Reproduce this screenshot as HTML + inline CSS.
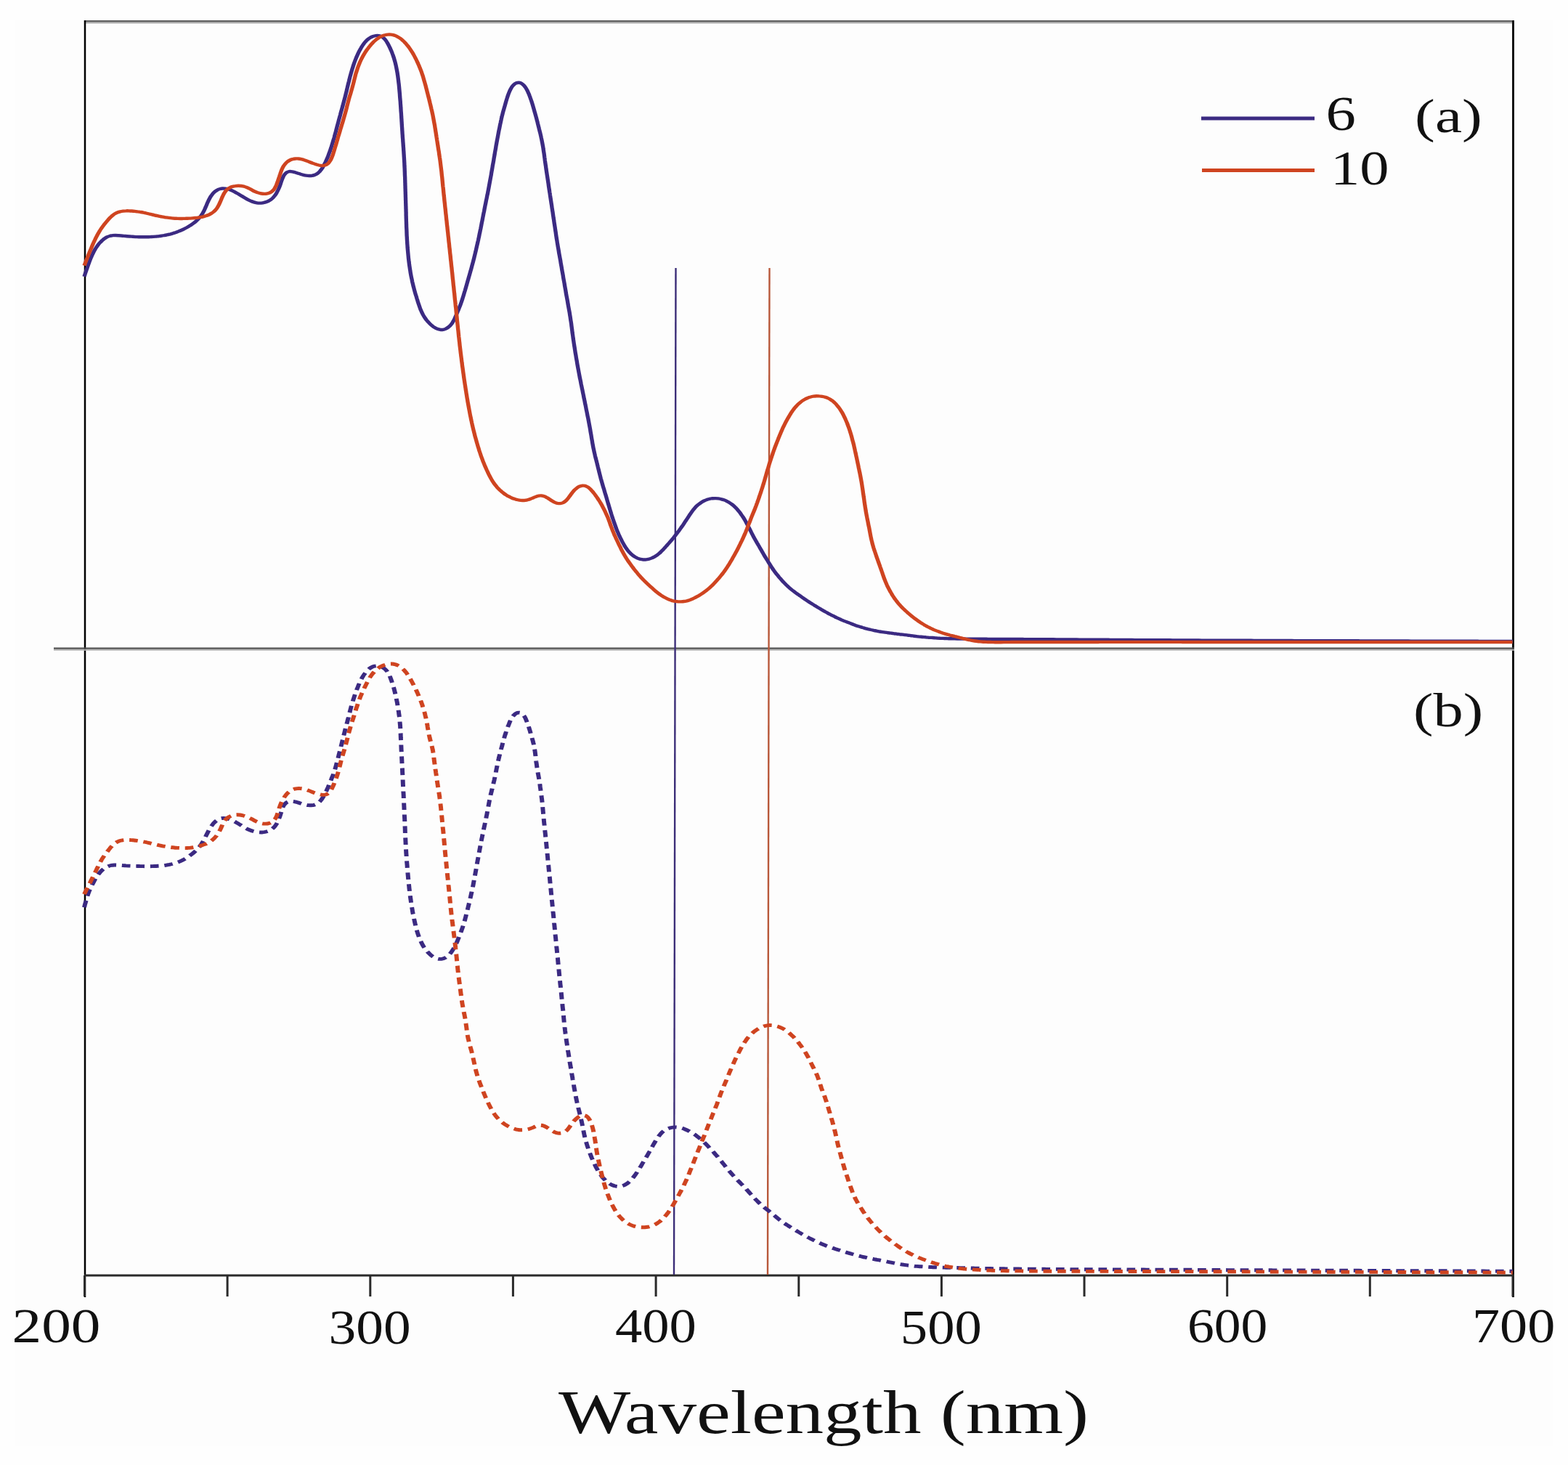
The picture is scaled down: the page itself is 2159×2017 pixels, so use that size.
<!DOCTYPE html>
<html><head><meta charset="utf-8"><title>UV-Vis spectra</title>
<style>
html,body{margin:0;padding:0;background:#fff;}
body{width:2159px;height:2017px;overflow:hidden;}
svg{display:block;}
text{font-family:"Liberation Serif","Times New Roman",serif;fill:#111;}
.tk{font-size:69px;}
.lg{font-size:67px;}
.pl{font-size:67px;}
.ax{font-size:85px;}
</style></head><body>
<svg width="2159" height="2017" viewBox="0 0 2159 2017">
<rect x="0" y="0" width="2159" height="2017" fill="#fefefe"/>
<rect x="20" y="28" width="2119" height="1963" fill="#fdfdfd"/>
<!-- frame -->
<line x1="116" y1="29.1" x2="2085" y2="29.1" stroke="#5c5c5c" stroke-width="2.2"/>
<line x1="116" y1="31.2" x2="2085" y2="31.2" stroke="#a2a2a2" stroke-width="2"/>
<line x1="117" y1="28" x2="117" y2="1786" stroke="#000" stroke-width="2.5"/>
<line x1="2083.5" y1="28" x2="2083.5" y2="1786" stroke="#111" stroke-width="3"/>
<line x1="74" y1="892.6" x2="2085" y2="892.6" stroke="#4f4f4f" stroke-width="2.4"/>
<line x1="74" y1="894.8" x2="2085" y2="894.8" stroke="#b4b4b4" stroke-width="1.8"/>
<line x1="116" y1="1756" x2="2085" y2="1756" stroke="#2a2a2a" stroke-width="3"/>
<line x1="116.5" y1="1756" x2="116.5" y2="1785" stroke="#2a2a2a" stroke-width="3"/>
<line x1="313.1" y1="1756" x2="313.1" y2="1785" stroke="#2a2a2a" stroke-width="3"/>
<line x1="509.8" y1="1756" x2="509.8" y2="1785" stroke="#2a2a2a" stroke-width="3"/>
<line x1="706.4" y1="1756" x2="706.4" y2="1785" stroke="#2a2a2a" stroke-width="3"/>
<line x1="903.1" y1="1756" x2="903.1" y2="1785" stroke="#2a2a2a" stroke-width="3"/>
<line x1="1099.8" y1="1756" x2="1099.8" y2="1785" stroke="#2a2a2a" stroke-width="3"/>
<line x1="1296.4" y1="1756" x2="1296.4" y2="1785" stroke="#2a2a2a" stroke-width="3"/>
<line x1="1493.0" y1="1756" x2="1493.0" y2="1785" stroke="#2a2a2a" stroke-width="3"/>
<line x1="1689.7" y1="1756" x2="1689.7" y2="1785" stroke="#2a2a2a" stroke-width="3"/>
<line x1="1886.3" y1="1756" x2="1886.3" y2="1785" stroke="#2a2a2a" stroke-width="3"/>
<line x1="2083.0" y1="1756" x2="2083.0" y2="1785" stroke="#2a2a2a" stroke-width="3"/>

<!-- vertical markers -->
<line x1="930.5" y1="369" x2="928" y2="1755" stroke="#3c2e78" stroke-width="2.4"/>
<line x1="1059.5" y1="369" x2="1057" y2="1755" stroke="#b8583a" stroke-width="2.4"/>
<!-- curves -->
<g fill="none" stroke-linejoin="round" stroke-linecap="butt" transform="scale(1.22,1)">
<path d="M95.1,380.7 C95.4,379.4 95.8,378.2 96.1,376.9 C96.5,375.6 96.8,374.4 97.2,373.1 C97.6,371.9 97.9,370.6 98.3,369.3 C98.6,368.1 99.0,366.8 99.3,365.6 C99.7,364.3 100.1,363.0 100.5,361.8 C100.8,360.5 101.2,359.3 101.6,358.1 C102.0,356.8 102.4,355.6 102.9,354.3 C103.3,353.1 103.7,351.9 104.2,350.7 C104.7,349.5 105.1,348.3 105.6,347.1 C106.1,345.9 106.6,344.7 107.2,343.6 C107.7,342.4 108.3,341.3 108.9,340.2 C109.5,339.1 110.2,338.0 110.8,336.9 C111.5,335.9 112.2,334.8 113.0,333.9 C113.7,332.9 114.5,331.9 115.3,331.1 C116.1,330.2 116.9,329.3 117.8,328.5 C118.7,327.8 119.7,327.0 120.6,326.4 C121.6,325.8 122.6,325.3 123.7,325.0 C124.7,324.6 125.8,324.3 126.9,324.2 C128.0,324.0 129.1,324.0 130.2,324.0 C131.3,324.0 132.4,324.1 133.4,324.2 C134.5,324.3 135.6,324.4 136.7,324.5 C137.8,324.6 138.9,324.8 140.0,324.9 C141.1,325.0 142.2,325.1 143.3,325.2 C144.3,325.3 145.4,325.4 146.5,325.5 C147.6,325.6 148.7,325.7 149.8,325.8 C150.9,325.9 152.0,326.0 153.1,326.1 C154.2,326.1 155.3,326.2 156.4,326.2 C157.4,326.3 158.5,326.3 159.6,326.3 C160.7,326.3 161.8,326.3 162.9,326.3 C164.0,326.3 165.1,326.3 166.2,326.3 C167.3,326.2 168.4,326.2 169.5,326.1 C170.6,326.0 171.7,326.0 172.8,325.9 C173.8,325.8 174.9,325.7 176.0,325.6 C177.1,325.5 178.2,325.3 179.3,325.2 C180.4,325.0 181.5,324.9 182.5,324.7 C183.6,324.5 184.7,324.3 185.8,324.0 C186.9,323.8 187.9,323.5 189.0,323.2 C190.1,323.0 191.1,322.6 192.2,322.3 C193.2,322.0 194.3,321.6 195.3,321.2 C196.4,320.8 197.4,320.4 198.5,320.0 C199.5,319.5 200.5,319.1 201.5,318.6 C202.6,318.1 203.6,317.6 204.6,317.0 C205.6,316.5 206.6,315.9 207.5,315.3 C208.5,314.7 209.5,314.1 210.4,313.5 C211.4,312.8 212.4,312.2 213.3,311.5 C214.2,310.8 215.2,310.1 216.1,309.3 C217.0,308.6 217.9,307.8 218.7,307.0 C219.6,306.2 220.5,305.4 221.3,304.5 C222.1,303.6 222.9,302.7 223.6,301.7 C224.4,300.8 225.1,299.8 225.8,298.7 C226.5,297.7 227.1,296.6 227.7,295.5 C228.3,294.4 228.9,293.2 229.4,292.1 C230.0,290.9 230.4,289.7 230.9,288.5 C231.4,287.3 231.8,286.0 232.2,284.8 C232.7,283.6 233.1,282.4 233.5,281.1 C233.9,279.9 234.4,278.7 234.8,277.5 C235.3,276.2 235.7,275.0 236.3,273.9 C236.8,272.7 237.3,271.5 237.9,270.4 C238.5,269.3 239.1,268.2 239.8,267.2 C240.5,266.2 241.3,265.2 242.1,264.3 C242.9,263.4 243.8,262.6 244.8,262.0 C245.7,261.3 246.7,260.7 247.8,260.3 C248.8,259.9 249.9,259.7 251.0,259.5 C252.0,259.4 253.2,259.5 254.2,259.6 C255.3,259.8 256.4,260.1 257.5,260.4 C258.5,260.8 259.5,261.3 260.6,261.8 C261.6,262.3 262.6,262.8 263.5,263.4 C264.5,264.0 265.5,264.7 266.4,265.3 C267.4,266.0 268.3,266.6 269.3,267.3 C270.2,268.0 271.1,268.7 272.1,269.4 C273.0,270.0 274.0,270.7 274.9,271.4 C275.9,272.1 276.8,272.8 277.8,273.4 C278.7,274.1 279.7,274.7 280.6,275.3 C281.6,275.9 282.6,276.5 283.6,277.0 C284.6,277.6 285.6,278.0 286.7,278.4 C287.7,278.8 288.8,279.1 289.9,279.3 C290.9,279.5 292.0,279.6 293.1,279.6 C294.2,279.6 295.3,279.5 296.4,279.3 C297.5,279.1 298.6,278.8 299.6,278.4 C300.6,278.0 301.7,277.5 302.6,277.0 C303.6,276.4 304.6,275.7 305.5,274.9 C306.4,274.2 307.2,273.3 308.0,272.4 C308.8,271.4 309.5,270.4 310.1,269.4 C310.8,268.3 311.4,267.2 312.0,266.0 C312.5,264.9 313.0,263.7 313.5,262.5 C314.0,261.3 314.5,260.1 314.9,258.9 C315.3,257.6 315.7,256.4 316.1,255.1 C316.5,253.9 316.8,252.6 317.1,251.4 C317.5,250.1 317.8,248.8 318.2,247.6 C318.6,246.3 319.0,245.1 319.5,243.9 C319.9,242.7 320.4,241.5 321.1,240.4 C321.8,239.4 322.5,238.3 323.4,237.6 C324.3,236.9 325.4,236.3 326.4,236.1 C327.5,235.9 328.6,236.1 329.7,236.3 C330.8,236.5 331.8,236.9 332.9,237.3 C333.9,237.7 334.9,238.1 336.0,238.5 C337.0,238.9 338.1,239.4 339.1,239.7 C340.2,240.1 341.2,240.5 342.3,240.8 C343.3,241.1 344.4,241.4 345.5,241.6 C346.6,241.8 347.7,242.0 348.8,242.0 C349.8,242.1 351.0,242.1 352.0,241.9 C353.1,241.7 354.2,241.3 355.2,240.9 C356.2,240.4 357.2,239.7 358.1,239.0 C359.0,238.2 359.8,237.3 360.6,236.4 C361.3,235.4 362.0,234.4 362.7,233.3 C363.3,232.2 363.9,231.1 364.5,229.9 C365.0,228.8 365.5,227.6 366.0,226.4 C366.5,225.2 367.0,224.0 367.5,222.8 C367.9,221.6 368.4,220.4 368.8,219.2 C369.3,218.0 369.7,216.7 370.1,215.5 C370.5,214.2 370.9,213.0 371.2,211.7 C371.6,210.5 372.0,209.2 372.4,208.0 C372.7,206.7 373.1,205.5 373.4,204.2 C373.8,202.9 374.1,201.7 374.4,200.4 C374.8,199.1 375.1,197.8 375.4,196.6 C375.7,195.3 376.0,194.0 376.3,192.7 C376.7,191.4 377.0,190.2 377.3,188.9 C377.5,187.6 377.8,186.3 378.1,185.0 C378.4,183.7 378.7,182.4 379.0,181.2 C379.3,179.9 379.5,178.6 379.8,177.3 C380.1,176.0 380.4,174.7 380.6,173.4 C380.9,172.1 381.2,170.8 381.5,169.5 C381.8,168.3 382.1,167.0 382.3,165.7 C382.6,164.4 382.9,163.1 383.2,161.8 C383.5,160.5 383.8,159.2 384.1,157.9 C384.3,156.7 384.6,155.4 384.9,154.1 C385.2,152.8 385.5,151.5 385.8,150.2 C386.1,148.9 386.4,147.6 386.7,146.4 C386.9,145.1 387.2,143.8 387.5,142.5 C387.8,141.2 388.1,139.9 388.4,138.6 C388.6,137.3 388.9,136.0 389.2,134.8 C389.5,133.5 389.7,132.2 390.0,130.9 C390.3,129.6 390.5,128.3 390.8,127.0 C391.1,125.7 391.3,124.4 391.6,123.1 C391.8,121.8 392.1,120.5 392.3,119.2 C392.6,117.9 392.8,116.6 393.1,115.3 C393.3,114.0 393.6,112.7 393.9,111.4 C394.1,110.1 394.4,108.8 394.7,107.5 C394.9,106.2 395.2,105.0 395.5,103.7 C395.8,102.4 396.1,101.1 396.4,99.8 C396.7,98.5 397.0,97.3 397.3,96.0 C397.6,94.7 397.9,93.4 398.3,92.2 C398.6,90.9 399.0,89.6 399.3,88.4 C399.7,87.1 400.0,85.8 400.4,84.6 C400.8,83.3 401.2,82.1 401.6,80.8 C402.0,79.6 402.4,78.4 402.9,77.2 C403.3,75.9 403.8,74.7 404.2,73.5 C404.7,72.3 405.2,71.1 405.7,69.9 C406.2,68.8 406.7,67.6 407.3,66.4 C407.8,65.3 408.4,64.1 409.0,63.0 C409.6,61.9 410.2,60.8 410.9,59.7 C411.5,58.7 412.2,57.6 413.0,56.7 C413.7,55.7 414.5,54.8 415.4,54.0 C416.2,53.1 417.1,52.4 418.1,51.7 C419.0,51.1 420.0,50.5 421.1,50.0 C422.1,49.6 423.2,49.3 424.3,49.1 C425.3,49.0 426.5,49.0 427.5,49.2 C428.6,49.4 429.7,49.8 430.6,50.4 C431.6,51.0 432.5,51.8 433.3,52.7 C434.1,53.6 434.8,54.7 435.5,55.7 C436.1,56.8 436.7,57.9 437.2,59.1 C437.8,60.2 438.3,61.4 438.8,62.6 C439.3,63.8 439.8,65.0 440.2,66.2 C440.7,67.4 441.1,68.6 441.6,69.9 C442.0,71.1 442.4,72.3 442.8,73.6 C443.2,74.8 443.5,76.1 443.9,77.4 C444.2,78.6 444.6,79.9 444.9,81.2 C445.2,82.4 445.5,83.7 445.8,85.0 C446.1,86.3 446.3,87.6 446.6,88.9 C446.8,90.2 447.1,91.5 447.3,92.8 C447.5,94.1 447.7,95.4 447.9,96.7 C448.1,98.1 448.3,99.4 448.5,100.7 C448.6,102.0 448.8,103.3 449.0,104.6 C449.1,106.0 449.3,107.3 449.4,108.6 C449.5,109.9 449.7,111.3 449.8,112.6 C449.9,113.9 450.1,115.2 450.2,116.6 C450.3,117.9 450.4,119.2 450.5,120.5 C450.6,121.9 450.7,123.2 450.8,124.5 C450.9,125.9 451.0,127.2 451.1,128.5 C451.2,129.9 451.3,131.2 451.3,132.5 C451.4,133.8 451.5,135.2 451.6,136.5 C451.7,137.8 451.8,139.2 451.9,140.5 C451.9,141.8 452.0,143.2 452.1,144.5 C452.2,145.8 452.3,147.1 452.3,148.5 C452.4,149.8 452.5,151.1 452.5,152.5 C452.6,153.8 452.7,155.1 452.8,156.5 C452.8,157.8 452.9,159.1 453.0,160.5 C453.0,161.8 453.1,163.1 453.2,164.5 C453.2,165.8 453.3,167.1 453.4,168.5 C453.4,169.8 453.5,171.1 453.6,172.5 C453.6,173.8 453.7,175.1 453.8,176.4 C453.9,177.8 453.9,179.1 454.0,180.4 C454.1,181.8 454.1,183.1 454.2,184.4 C454.3,185.8 454.4,187.1 454.4,188.4 C454.5,189.8 454.6,191.1 454.7,192.4 C454.7,193.8 454.8,195.1 454.9,196.4 C455.0,197.7 455.1,199.1 455.1,200.4 C455.2,201.7 455.3,203.1 455.4,204.4 C455.4,205.7 455.5,207.1 455.6,208.4 C455.7,209.7 455.7,211.1 455.8,212.4 C455.9,213.7 455.9,215.1 456.0,216.4 C456.1,217.7 456.1,219.0 456.2,220.4 C456.3,221.7 456.3,223.0 456.4,224.4 C456.4,225.7 456.5,227.0 456.5,228.4 C456.6,229.7 456.6,231.0 456.7,232.4 C456.7,233.7 456.8,235.0 456.8,236.4 C456.9,237.7 456.9,239.0 456.9,240.4 C457.0,241.7 457.0,243.0 457.1,244.4 C457.1,245.7 457.1,247.0 457.2,248.4 C457.2,249.7 457.2,251.0 457.3,252.4 C457.3,253.7 457.3,255.0 457.4,256.4 C457.4,257.7 457.4,259.0 457.5,260.4 C457.5,261.7 457.5,263.1 457.6,264.4 C457.6,265.7 457.6,267.1 457.7,268.4 C457.7,269.7 457.7,271.1 457.8,272.4 C457.8,273.7 457.8,275.1 457.9,276.4 C457.9,277.7 457.9,279.1 458.0,280.4 C458.0,281.7 458.0,283.1 458.1,284.4 C458.1,285.7 458.1,287.1 458.2,288.4 C458.2,289.7 458.2,291.1 458.3,292.4 C458.3,293.7 458.3,295.1 458.3,296.4 C458.4,297.7 458.4,299.1 458.4,300.4 C458.5,301.7 458.5,303.1 458.5,304.4 C458.6,305.7 458.6,307.1 458.6,308.4 C458.7,309.7 458.7,311.1 458.7,312.4 C458.8,313.7 458.8,315.1 458.9,316.4 C458.9,317.7 459.0,319.1 459.0,320.4 C459.0,321.7 459.1,323.1 459.1,324.4 C459.2,325.7 459.3,327.1 459.3,328.4 C459.4,329.7 459.4,331.1 459.5,332.4 C459.6,333.7 459.6,335.1 459.7,336.4 C459.8,337.7 459.9,339.1 459.9,340.4 C460.0,341.7 460.1,343.0 460.2,344.4 C460.3,345.7 460.4,347.0 460.5,348.4 C460.6,349.7 460.7,351.0 460.8,352.3 C460.9,353.7 461.0,355.0 461.1,356.3 C461.3,357.7 461.4,359.0 461.5,360.3 C461.7,361.6 461.8,363.0 461.9,364.3 C462.1,365.6 462.2,366.9 462.4,368.2 C462.5,369.6 462.7,370.9 462.9,372.2 C463.1,373.5 463.2,374.8 463.4,376.1 C463.6,377.5 463.8,378.8 464.0,380.1 C464.2,381.4 464.4,382.7 464.7,384.0 C464.9,385.3 465.1,386.6 465.3,387.9 C465.6,389.2 465.8,390.5 466.1,391.8 C466.3,393.1 466.6,394.4 466.9,395.7 C467.2,397.0 467.4,398.3 467.7,399.6 C468.0,400.9 468.3,402.1 468.6,403.4 C468.9,404.7 469.2,406.0 469.6,407.3 C469.9,408.5 470.2,409.8 470.5,411.1 C470.9,412.4 471.2,413.6 471.5,414.9 C471.8,416.2 472.2,417.5 472.5,418.7 C472.9,420.0 473.2,421.3 473.6,422.5 C473.9,423.8 474.3,425.0 474.7,426.3 C475.1,427.5 475.6,428.7 476.0,429.9 C476.5,431.1 477.0,432.3 477.5,433.5 C478.0,434.7 478.6,435.8 479.2,436.9 C479.8,438.0 480.4,439.1 481.1,440.2 C481.8,441.2 482.5,442.2 483.2,443.2 C484.0,444.2 484.7,445.2 485.5,446.1 C486.3,447.0 487.1,447.9 488.0,448.7 C488.8,449.5 489.7,450.3 490.7,451.0 C491.6,451.7 492.6,452.4 493.6,452.8 C494.6,453.3 495.7,453.7 496.8,453.8 C497.8,454.0 499.0,454.0 500.0,453.8 C501.1,453.6 502.2,453.1 503.2,452.6 C504.2,452.0 505.1,451.3 506.0,450.5 C506.8,449.7 507.6,448.8 508.4,447.8 C509.1,446.8 509.8,445.8 510.4,444.7 C511.0,443.6 511.6,442.4 512.1,441.2 C512.6,440.1 513.1,438.8 513.5,437.6 C514.0,436.4 514.4,435.2 514.8,434.0 C515.3,432.7 515.7,431.5 516.1,430.3 C516.5,429.0 516.9,427.8 517.4,426.6 C517.8,425.3 518.2,424.1 518.6,422.9 C519.0,421.6 519.4,420.4 519.8,419.1 C520.2,417.9 520.5,416.6 520.9,415.4 C521.2,414.1 521.6,412.8 521.9,411.6 C522.2,410.3 522.6,409.0 522.9,407.7 C523.2,406.5 523.5,405.2 523.8,403.9 C524.1,402.6 524.4,401.3 524.8,400.1 C525.1,398.8 525.4,397.5 525.7,396.2 C526.0,394.9 526.3,393.7 526.6,392.4 C526.9,391.1 527.2,389.8 527.5,388.5 C527.8,387.2 528.1,386.0 528.4,384.7 C528.7,383.4 529.0,382.1 529.3,380.8 C529.6,379.5 529.9,378.3 530.2,377.0 C530.5,375.7 530.8,374.4 531.1,373.1 C531.4,371.8 531.7,370.6 532.0,369.3 C532.3,368.0 532.5,366.7 532.8,365.4 C533.1,364.1 533.4,362.8 533.7,361.5 C534.0,360.3 534.2,359.0 534.5,357.7 C534.8,356.4 535.1,355.1 535.3,353.8 C535.6,352.5 535.8,351.2 536.1,349.9 C536.4,348.6 536.6,347.3 536.9,346.0 C537.1,344.7 537.4,343.4 537.6,342.1 C537.9,340.8 538.1,339.5 538.3,338.2 C538.6,336.9 538.8,335.6 539.1,334.3 C539.3,333.0 539.5,331.7 539.8,330.4 C540.0,329.1 540.2,327.8 540.5,326.5 C540.7,325.2 540.9,323.9 541.1,322.6 C541.4,321.3 541.6,320.0 541.8,318.6 C542.0,317.3 542.2,316.0 542.5,314.7 C542.7,313.4 542.9,312.1 543.1,310.8 C543.3,309.5 543.5,308.2 543.7,306.9 C543.9,305.6 544.2,304.3 544.4,302.9 C544.6,301.6 544.8,300.3 545.0,299.0 C545.2,297.7 545.4,296.4 545.6,295.1 C545.8,293.8 546.0,292.5 546.3,291.2 C546.5,289.8 546.7,288.5 546.9,287.2 C547.1,285.9 547.3,284.6 547.5,283.3 C547.8,282.0 548.0,280.7 548.2,279.4 C548.4,278.1 548.6,276.8 548.8,275.5 C549.1,274.2 549.3,272.8 549.5,271.5 C549.7,270.2 549.9,268.9 550.2,267.6 C550.4,266.3 550.6,265.0 550.8,263.7 C551.0,262.4 551.2,261.1 551.4,259.8 C551.6,258.4 551.8,257.1 552.0,255.8 C552.2,254.5 552.4,253.2 552.6,251.9 C552.8,250.6 553.0,249.3 553.2,247.9 C553.4,246.6 553.6,245.3 553.8,244.0 C554.0,242.7 554.2,241.4 554.4,240.1 C554.5,238.7 554.7,237.4 554.9,236.1 C555.1,234.8 555.3,233.5 555.5,232.2 C555.7,230.9 555.9,229.5 556.0,228.2 C556.2,226.9 556.4,225.6 556.6,224.3 C556.8,223.0 557.0,221.7 557.2,220.3 C557.3,219.0 557.5,217.7 557.7,216.4 C557.9,215.1 558.1,213.8 558.3,212.4 C558.4,211.1 558.6,209.8 558.8,208.5 C559.0,207.2 559.2,205.9 559.4,204.6 C559.6,203.2 559.7,201.9 559.9,200.6 C560.1,199.3 560.3,198.0 560.5,196.7 C560.7,195.4 560.9,194.0 561.1,192.7 C561.3,191.4 561.5,190.1 561.7,188.8 C561.9,187.5 562.1,186.2 562.3,184.9 C562.5,183.6 562.7,182.2 562.9,180.9 C563.1,179.6 563.3,178.3 563.6,177.0 C563.8,175.7 564.0,174.4 564.2,173.1 C564.4,171.8 564.6,170.5 564.9,169.2 C565.1,167.9 565.3,166.5 565.6,165.2 C565.8,163.9 566.0,162.6 566.3,161.3 C566.5,160.0 566.8,158.8 567.1,157.5 C567.3,156.2 567.6,154.9 567.9,153.6 C568.2,152.3 568.5,151.0 568.8,149.7 C569.1,148.4 569.4,147.2 569.7,145.9 C570.0,144.6 570.3,143.3 570.6,142.0 C570.9,140.7 571.2,139.5 571.5,138.2 C571.8,136.9 572.1,135.6 572.5,134.4 C572.8,133.1 573.2,131.8 573.5,130.6 C573.9,129.3 574.3,128.1 574.7,126.8 C575.1,125.6 575.6,124.4 576.1,123.2 C576.6,122.0 577.1,120.8 577.7,119.7 C578.3,118.7 579.0,117.6 579.8,116.7 C580.6,115.8 581.5,114.9 582.5,114.4 C583.5,114.0 584.7,113.7 585.7,113.8 C586.8,113.9 587.9,114.4 588.8,115.1 C589.8,115.7 590.6,116.7 591.3,117.6 C592.1,118.6 592.7,119.7 593.3,120.8 C593.9,121.9 594.4,123.1 594.9,124.2 C595.4,125.4 595.9,126.6 596.3,127.9 C596.8,129.1 597.2,130.3 597.6,131.6 C598.0,132.8 598.4,134.1 598.7,135.3 C599.1,136.6 599.4,137.9 599.8,139.1 C600.1,140.4 600.4,141.7 600.8,142.9 C601.1,144.2 601.4,145.5 601.7,146.8 C602.0,148.0 602.3,149.3 602.6,150.6 C602.9,151.9 603.2,153.2 603.5,154.5 C603.8,155.7 604.1,157.0 604.4,158.3 C604.7,159.6 605.0,160.9 605.3,162.2 C605.6,163.5 605.8,164.8 606.1,166.1 C606.4,167.3 606.7,168.6 606.9,169.9 C607.2,171.2 607.5,172.5 607.7,173.8 C608.0,175.1 608.3,176.4 608.5,177.7 C608.8,179.0 609.1,180.3 609.3,181.6 C609.6,182.9 609.9,184.2 610.1,185.5 C610.4,186.8 610.6,188.1 610.8,189.4 C611.1,190.7 611.3,192.0 611.5,193.3 C611.7,194.6 611.9,195.9 612.1,197.2 C612.3,198.5 612.5,199.8 612.7,201.2 C612.9,202.5 613.1,203.8 613.2,205.1 C613.4,206.4 613.5,207.7 613.7,209.1 C613.9,210.4 614.0,211.7 614.2,213.0 C614.3,214.4 614.5,215.7 614.6,217.0 C614.8,218.3 614.9,219.6 615.0,221.0 C615.2,222.3 615.3,223.6 615.5,224.9 C615.6,226.3 615.8,227.6 616.0,228.9 C616.1,230.2 616.3,231.5 616.4,232.9 C616.6,234.2 616.7,235.5 616.9,236.8 C617.1,238.1 617.2,239.5 617.4,240.8 C617.6,242.1 617.7,243.4 617.9,244.7 C618.0,246.1 618.2,247.4 618.4,248.7 C618.5,250.0 618.7,251.3 618.9,252.7 C619.0,254.0 619.2,255.3 619.3,256.6 C619.5,257.9 619.7,259.2 619.8,260.6 C620.0,261.9 620.2,263.2 620.3,264.5 C620.5,265.8 620.7,267.2 620.8,268.5 C621.0,269.8 621.1,271.1 621.3,272.4 C621.5,273.8 621.6,275.1 621.8,276.4 C622.0,277.7 622.1,279.0 622.3,280.4 C622.5,281.7 622.6,283.0 622.8,284.3 C622.9,285.6 623.1,287.0 623.3,288.3 C623.4,289.6 623.6,290.9 623.8,292.2 C623.9,293.6 624.1,294.9 624.2,296.2 C624.4,297.5 624.6,298.8 624.7,300.2 C624.9,301.5 625.1,302.8 625.2,304.1 C625.4,305.4 625.5,306.7 625.7,308.1 C625.9,309.4 626.0,310.7 626.2,312.0 C626.4,313.3 626.5,314.7 626.7,316.0 C626.8,317.3 627.0,318.6 627.2,319.9 C627.3,321.3 627.5,322.6 627.6,323.9 C627.8,325.2 628.0,326.5 628.1,327.9 C628.3,329.2 628.5,330.5 628.7,331.8 C628.8,333.1 629.0,334.5 629.2,335.8 C629.4,337.1 629.5,338.4 629.7,339.7 C629.9,341.0 630.1,342.3 630.3,343.7 C630.5,345.0 630.7,346.3 630.8,347.6 C631.0,348.9 631.2,350.2 631.4,351.5 C631.6,352.9 631.8,354.2 632.0,355.5 C632.2,356.8 632.4,358.1 632.6,359.4 C632.7,360.7 632.9,362.1 633.1,363.4 C633.3,364.7 633.5,366.0 633.7,367.3 C633.9,368.6 634.1,369.9 634.2,371.3 C634.4,372.6 634.6,373.9 634.8,375.2 C635.0,376.5 635.2,377.8 635.4,379.2 C635.6,380.5 635.7,381.8 635.9,383.1 C636.1,384.4 636.3,385.7 636.5,387.0 C636.7,388.4 636.9,389.7 637.1,391.0 C637.2,392.3 637.4,393.6 637.6,394.9 C637.8,396.2 638.0,397.6 638.2,398.9 C638.4,400.2 638.6,401.5 638.7,402.8 C638.9,404.1 639.1,405.4 639.3,406.8 C639.5,408.1 639.7,409.4 639.9,410.7 C640.1,412.0 640.3,413.3 640.5,414.6 C640.7,416.0 640.9,417.3 641.0,418.6 C641.2,419.9 641.4,421.2 641.6,422.5 C641.8,423.8 642.0,425.1 642.2,426.5 C642.4,427.8 642.6,429.1 642.8,430.4 C643.0,431.7 643.1,433.0 643.3,434.4 C643.5,435.7 643.7,437.0 643.8,438.3 C644.0,439.6 644.1,440.9 644.3,442.3 C644.5,443.6 644.6,444.9 644.8,446.2 C644.9,447.6 645.0,448.9 645.2,450.2 C645.3,451.5 645.5,452.8 645.6,454.2 C645.8,455.5 645.9,456.8 646.0,458.1 C646.2,459.5 646.3,460.8 646.5,462.1 C646.6,463.4 646.8,464.8 646.9,466.1 C647.1,467.4 647.2,468.7 647.4,470.0 C647.6,471.4 647.7,472.7 647.9,474.0 C648.0,475.3 648.2,476.6 648.4,477.9 C648.6,479.3 648.7,480.6 648.9,481.9 C649.1,483.2 649.2,484.5 649.4,485.9 C649.6,487.2 649.8,488.5 650.0,489.8 C650.1,491.1 650.3,492.4 650.5,493.8 C650.7,495.1 650.9,496.4 651.1,497.7 C651.2,499.0 651.4,500.3 651.6,501.6 C651.8,503.0 652.0,504.3 652.2,505.6 C652.4,506.9 652.6,508.2 652.8,509.5 C653.0,510.8 653.2,512.1 653.4,513.5 C653.6,514.8 653.8,516.1 654.0,517.4 C654.2,518.7 654.4,520.0 654.6,521.3 C654.9,522.6 655.1,523.9 655.3,525.2 C655.5,526.5 655.7,527.9 655.9,529.2 C656.2,530.5 656.4,531.8 656.6,533.1 C656.8,534.4 657.0,535.7 657.3,537.0 C657.5,538.3 657.7,539.6 657.9,540.9 C658.1,542.2 658.4,543.5 658.6,544.8 C658.8,546.2 659.0,547.5 659.2,548.8 C659.5,550.1 659.7,551.4 659.9,552.7 C660.1,554.0 660.3,555.3 660.5,556.6 C660.8,557.9 661.0,559.2 661.2,560.5 C661.4,561.8 661.6,563.2 661.8,564.5 C662.1,565.8 662.3,567.1 662.5,568.4 C662.7,569.7 662.9,571.0 663.1,572.3 C663.3,573.6 663.6,574.9 663.8,576.2 C664.0,577.6 664.2,578.9 664.4,580.2 C664.6,581.5 664.8,582.8 665.0,584.1 C665.2,585.4 665.4,586.7 665.6,588.0 C665.8,589.4 666.0,590.7 666.2,592.0 C666.3,593.3 666.5,594.6 666.7,595.9 C666.9,597.2 667.1,598.6 667.3,599.9 C667.4,601.2 667.6,602.5 667.8,603.8 C668.0,605.1 668.2,606.5 668.4,607.8 C668.5,609.1 668.7,610.4 668.9,611.7 C669.1,613.0 669.3,614.3 669.5,615.7 C669.7,617.0 669.9,618.3 670.2,619.6 C670.4,620.9 670.6,622.2 670.9,623.5 C671.1,624.8 671.4,626.1 671.6,627.4 C671.9,628.7 672.2,630.0 672.4,631.3 C672.7,632.6 673.0,633.9 673.2,635.1 C673.5,636.4 673.8,637.7 674.0,639.0 C674.3,640.3 674.6,641.6 674.8,642.9 C675.1,644.2 675.4,645.5 675.6,646.8 C675.9,648.1 676.1,649.4 676.4,650.7 C676.7,652.0 676.9,653.3 677.2,654.6 C677.5,655.9 677.8,657.1 678.0,658.4 C678.3,659.7 678.6,661.0 678.9,662.3 C679.2,663.6 679.5,664.9 679.8,666.1 C680.1,667.4 680.4,668.7 680.7,670.0 C681.0,671.3 681.4,672.5 681.7,673.8 C682.0,675.1 682.3,676.4 682.6,677.7 C682.9,678.9 683.2,680.2 683.6,681.5 C683.9,682.8 684.2,684.0 684.5,685.3 C684.8,686.6 685.1,687.9 685.4,689.2 C685.7,690.4 686.0,691.7 686.3,693.0 C686.7,694.3 687.0,695.6 687.3,696.9 C687.6,698.1 687.9,699.4 688.2,700.7 C688.5,702.0 688.8,703.2 689.1,704.5 C689.5,705.8 689.8,707.1 690.1,708.3 C690.5,709.6 690.8,710.9 691.1,712.2 C691.5,713.4 691.8,714.7 692.2,716.0 C692.5,717.2 692.9,718.5 693.2,719.7 C693.6,721.0 694.0,722.3 694.3,723.5 C694.7,724.8 695.1,726.0 695.4,727.3 C695.8,728.5 696.2,729.8 696.6,731.0 C697.0,732.2 697.5,733.5 697.9,734.7 C698.3,735.9 698.8,737.1 699.3,738.3 C699.7,739.6 700.2,740.8 700.7,741.9 C701.2,743.1 701.7,744.3 702.2,745.5 C702.7,746.7 703.2,747.9 703.8,749.0 C704.3,750.2 704.9,751.3 705.4,752.5 C706.0,753.6 706.6,754.7 707.3,755.8 C707.9,756.9 708.6,757.9 709.3,758.9 C710.0,759.9 710.7,760.9 711.5,761.8 C712.3,762.8 713.1,763.6 714.0,764.5 C714.9,765.3 715.8,766.0 716.7,766.7 C717.7,767.4 718.6,768.0 719.6,768.6 C720.6,769.1 721.7,769.5 722.7,769.8 C723.8,770.2 724.9,770.4 726.0,770.5 C727.1,770.6 728.2,770.6 729.3,770.4 C730.3,770.3 731.4,770.0 732.5,769.7 C733.5,769.4 734.6,768.9 735.6,768.4 C736.6,767.9 737.6,767.2 738.5,766.6 C739.5,765.9 740.4,765.2 741.3,764.5 C742.2,763.7 743.0,762.9 743.9,762.0 C744.7,761.2 745.5,760.2 746.3,759.3 C747.1,758.4 747.8,757.4 748.6,756.5 C749.3,755.5 750.1,754.5 750.8,753.5 C751.5,752.5 752.3,751.5 753.0,750.5 C753.7,749.5 754.4,748.5 755.2,747.5 C755.9,746.5 756.6,745.5 757.3,744.5 C758.0,743.5 758.7,742.4 759.4,741.4 C760.1,740.4 760.8,739.3 761.5,738.3 C762.2,737.3 762.8,736.2 763.5,735.1 C764.2,734.1 764.8,733.0 765.5,731.9 C766.1,730.9 766.8,729.8 767.4,728.7 C768.0,727.6 768.7,726.5 769.3,725.5 C769.9,724.4 770.6,723.3 771.2,722.2 C771.8,721.1 772.4,719.9 773.0,718.8 C773.6,717.7 774.2,716.6 774.8,715.5 C775.4,714.4 776.0,713.3 776.6,712.2 C777.2,711.1 777.8,709.9 778.4,708.8 C779.1,707.7 779.7,706.6 780.3,705.5 C780.9,704.4 781.5,703.3 782.2,702.3 C782.9,701.2 783.6,700.2 784.3,699.2 C785.0,698.2 785.8,697.2 786.6,696.3 C787.4,695.4 788.2,694.6 789.1,693.8 C790.0,693.0 790.9,692.2 791.8,691.5 C792.7,690.8 793.7,690.1 794.7,689.5 C795.6,689.0 796.7,688.4 797.7,688.0 C798.7,687.5 799.8,687.2 800.8,686.9 C801.9,686.6 803.0,686.4 804.1,686.2 C805.2,686.1 806.3,686.1 807.4,686.1 C808.4,686.1 809.5,686.2 810.6,686.4 C811.7,686.6 812.8,686.8 813.9,687.2 C814.9,687.5 816.0,687.8 817.0,688.3 C818.0,688.7 819.0,689.2 820.0,689.8 C821.0,690.4 822.0,691.0 822.9,691.7 C823.9,692.4 824.8,693.2 825.6,694.0 C826.5,694.8 827.4,695.6 828.2,696.5 C829.0,697.4 829.8,698.3 830.5,699.3 C831.3,700.2 832.0,701.2 832.7,702.2 C833.4,703.3 834.1,704.3 834.8,705.3 C835.5,706.4 836.1,707.5 836.7,708.6 C837.4,709.7 838.0,710.8 838.6,711.9 C839.2,713.0 839.8,714.1 840.3,715.3 C840.9,716.4 841.4,717.6 842.0,718.8 C842.5,719.9 843.0,721.1 843.5,722.3 C844.0,723.5 844.5,724.6 845.0,725.8 C845.5,727.0 846.0,728.2 846.5,729.4 C847.0,730.6 847.5,731.8 848.0,733.0 C848.5,734.2 848.9,735.4 849.5,736.6 C850.0,737.7 850.5,738.9 851.0,740.1 C851.5,741.3 852.0,742.4 852.6,743.6 C853.1,744.7 853.7,745.9 854.2,747.0 C854.8,748.2 855.3,749.3 855.9,750.5 C856.5,751.6 857.0,752.8 857.5,754.0 C858.1,755.1 858.6,756.3 859.2,757.4 C859.7,758.6 860.2,759.8 860.8,760.9 C861.3,762.1 861.9,763.2 862.4,764.4 C863.0,765.5 863.6,766.7 864.1,767.8 C864.7,768.9 865.3,770.1 865.9,771.2 C866.4,772.3 867.0,773.5 867.6,774.6 C868.2,775.7 868.8,776.9 869.4,778.0 C870.0,779.1 870.5,780.2 871.1,781.4 C871.7,782.5 872.3,783.6 873.0,784.7 C873.6,785.8 874.2,786.9 874.9,787.9 C875.5,789.0 876.2,790.0 876.9,791.1 C877.6,792.1 878.3,793.1 879.0,794.2 C879.7,795.2 880.4,796.2 881.2,797.2 C881.9,798.2 882.6,799.2 883.3,800.2 C884.1,801.1 884.8,802.1 885.6,803.1 C886.4,804.0 887.1,805.0 887.9,805.9 C888.7,806.8 889.5,807.7 890.3,808.6 C891.1,809.5 892.0,810.4 892.8,811.2 C893.7,812.1 894.5,812.9 895.4,813.7 C896.3,814.5 897.1,815.3 898.0,816.1 C898.9,816.9 899.8,817.6 900.7,818.4 C901.6,819.2 902.5,819.9 903.4,820.7 C904.3,821.5 905.2,822.2 906.1,823.0 C907.0,823.7 907.9,824.5 908.8,825.3 C909.7,826.0 910.6,826.8 911.5,827.5 C912.4,828.2 913.3,829.0 914.3,829.7 C915.2,830.4 916.1,831.1 917.0,831.8 C918.0,832.5 918.9,833.2 919.8,833.9 C920.8,834.6 921.7,835.3 922.6,836.0 C923.6,836.7 924.5,837.3 925.5,838.0 C926.4,838.7 927.3,839.4 928.3,840.1 C929.2,840.8 930.2,841.4 931.1,842.1 C932.1,842.7 933.0,843.4 934.0,844.0 C934.9,844.7 935.9,845.3 936.9,845.9 C937.9,846.5 938.8,847.1 939.8,847.7 C940.8,848.3 941.8,848.9 942.7,849.5 C943.7,850.1 944.7,850.6 945.7,851.2 C946.7,851.8 947.7,852.3 948.7,852.8 C949.7,853.4 950.7,853.9 951.7,854.4 C952.8,854.9 953.8,855.4 954.8,855.9 C955.8,856.4 956.8,856.9 957.8,857.3 C958.9,857.8 959.9,858.3 960.9,858.8 C961.9,859.3 962.9,859.8 964.0,860.2 C965.0,860.7 966.0,861.1 967.0,861.6 C968.1,862.0 969.1,862.4 970.2,862.8 C971.2,863.2 972.3,863.6 973.3,864.0 C974.4,864.3 975.4,864.7 976.5,865.1 C977.5,865.4 978.6,865.8 979.6,866.1 C980.7,866.4 981.8,866.7 982.8,867.0 C983.9,867.3 985.0,867.6 986.0,867.9 C987.1,868.2 988.2,868.4 989.2,868.7 C990.3,869.0 991.4,869.2 992.5,869.5 C993.5,869.7 994.6,869.9 995.7,870.1 C996.8,870.3 997.9,870.5 998.9,870.7 C1000.0,870.9 1001.1,871.1 1002.2,871.2 C1003.3,871.4 1004.4,871.5 1005.5,871.7 C1006.5,871.9 1007.6,872.0 1008.7,872.2 C1009.8,872.3 1010.9,872.5 1012.0,872.7 C1013.1,872.8 1014.1,873.0 1015.2,873.2 C1016.3,873.3 1017.4,873.5 1018.5,873.7 C1019.6,873.9 1020.7,874.0 1021.7,874.2 C1022.8,874.4 1023.9,874.6 1025.0,874.7 C1026.1,874.9 1027.2,875.1 1028.2,875.2 C1029.3,875.4 1030.4,875.6 1031.5,875.7 C1032.6,875.9 1033.7,876.0 1034.8,876.2 C1035.8,876.3 1036.9,876.5 1038.0,876.6 C1039.1,876.7 1040.2,876.9 1041.3,877.0 C1042.4,877.1 1043.5,877.2 1044.6,877.3 C1045.6,877.4 1046.7,877.5 1047.8,877.7 C1048.9,877.8 1050.0,877.9 1051.1,877.9 C1052.2,878.0 1053.3,878.1 1054.4,878.2 C1055.5,878.3 1056.6,878.4 1057.7,878.5 C1058.7,878.5 1059.8,878.6 1060.9,878.7 C1062.0,878.7 1063.1,878.8 1064.2,878.9 C1065.3,878.9 1066.4,879.0 1067.5,879.0 C1068.6,879.1 1069.7,879.1 1070.8,879.2 C1071.9,879.2 1072.9,879.3 1074.0,879.3 C1075.1,879.3 1076.2,879.4 1077.3,879.4 C1078.4,879.4 1079.5,879.4 1080.6,879.5 C1081.7,879.5 1082.8,879.5 1083.9,879.5 C1085.0,879.6 1086.1,879.6 1087.2,879.6 C1088.3,879.6 1089.4,879.6 1090.4,879.6 C1091.5,879.7 1092.6,879.7 1093.7,879.7 C1094.8,879.7 1095.9,879.7 1097.0,879.7 C1098.1,879.7 1099.2,879.8 1100.3,879.8 C1101.4,879.8 1102.5,879.8 1103.6,879.8 C1104.7,879.8 1105.8,879.8 1106.9,879.8 C1107.9,879.8 1109.0,879.8 1110.1,879.8 C1111.2,879.8 1112.3,879.8 1113.4,879.8 C1114.5,879.8 1115.6,879.9 1116.7,879.9 C1117.8,879.9 1118.9,879.9 1120.0,879.9 C1121.1,879.9 1122.2,879.9 1123.3,879.9 C1124.4,879.9 1125.4,879.9 1126.5,879.9 C1127.6,879.9 1128.7,879.9 1129.8,879.9 C1130.9,879.9 1132.0,879.9 1133.1,879.9 C1134.2,879.9 1135.3,879.9 1136.4,879.9 C1137.5,879.9 1138.6,879.9 1139.7,880.0 C1140.8,880.0 1141.9,880.0 1142.9,880.0 C1144.0,880.0 1145.1,880.0 1146.2,880.0 C1147.3,880.0 1148.4,880.0 1149.5,880.0 C1150.6,880.0 1151.7,880.0 1152.8,880.0 C1153.9,880.0 1155.0,880.1 1156.1,880.1 C1157.2,880.1 1158.3,880.1 1159.4,880.1 C1160.4,880.1 1161.5,880.1 1162.6,880.1 C1163.7,880.1 1164.8,880.1 1165.9,880.1 C1167.0,880.1 1168.1,880.2 1169.2,880.2 C1170.3,880.2 1171.4,880.2 1172.5,880.2 C1173.6,880.2 1174.7,880.2 1175.8,880.2 C1176.9,880.2 1177.9,880.2 1179.0,880.2 C1180.1,880.3 1181.2,880.3 1182.3,880.3 C1183.4,880.3 1184.5,880.3 1185.6,880.3 C1186.7,880.3 1187.8,880.3 1188.9,880.3 C1190.0,880.3 1191.1,880.3 1192.2,880.4 C1193.3,880.4 1194.4,880.4 1195.4,880.4 C1196.5,880.4 1197.6,880.4 1198.7,880.4 C1199.8,880.4 1200.9,880.4 1202.0,880.4 C1203.1,880.4 1204.2,880.5 1205.3,880.5 C1206.4,880.5 1207.5,880.5 1208.6,880.5 C1209.7,880.5 1210.8,880.5 1211.9,880.5 C1212.9,880.5 1214.0,880.5 1215.1,880.5 C1216.2,880.6 1217.3,880.6 1218.4,880.6 C1219.5,880.6 1220.6,880.6 1221.7,880.6 C1222.8,880.6 1223.9,880.6 1225.0,880.6 C1226.1,880.6 1227.2,880.6 1228.3,880.7 C1229.4,880.7 1230.4,880.7 1231.5,880.7 C1232.6,880.7 1233.7,880.7 1234.8,880.7 C1235.9,880.7 1237.0,880.7 1238.1,880.7 C1239.2,880.7 1240.3,880.8 1241.4,880.8 C1242.5,880.8 1243.6,880.8 1244.7,880.8 C1245.8,880.8 1246.9,880.8 1247.9,880.8 C1249.0,880.8 1250.1,880.8 1251.2,880.8 C1252.3,880.8 1253.4,880.9 1254.5,880.9 C1255.6,880.9 1256.7,880.9 1257.8,880.9 C1258.9,880.9 1260.0,880.9 1261.1,880.9 C1262.2,880.9 1263.3,880.9 1264.4,880.9 C1265.4,881.0 1266.5,881.0 1267.6,881.0 C1268.7,881.0 1269.8,881.0 1270.9,881.0 C1272.0,881.0 1273.1,881.0 1274.2,881.0 C1275.3,881.0 1276.4,881.0 1277.5,881.0 C1278.6,881.1 1279.7,881.1 1280.8,881.1 C1281.9,881.1 1282.9,881.1 1284.0,881.1 C1285.1,881.1 1286.2,881.1 1287.3,881.1 C1288.4,881.1 1289.5,881.1 1290.6,881.1 C1291.7,881.2 1292.8,881.2 1293.9,881.2 C1295.0,881.2 1296.1,881.2 1297.2,881.2 C1298.3,881.2 1299.4,881.2 1300.4,881.2 C1301.5,881.2 1302.6,881.2 1303.7,881.2 C1304.8,881.2 1305.9,881.3 1307.0,881.3 C1308.1,881.3 1309.2,881.3 1310.3,881.3 C1311.4,881.3 1312.5,881.3 1313.6,881.3 C1314.7,881.3 1315.8,881.3 1316.9,881.3 C1317.9,881.3 1319.0,881.3 1320.1,881.3 C1321.2,881.4 1322.3,881.4 1323.4,881.4 C1324.5,881.4 1325.6,881.4 1326.7,881.4 C1327.8,881.4 1328.9,881.4 1330.0,881.4 C1331.1,881.4 1332.2,881.4 1333.3,881.4 C1334.4,881.4 1335.4,881.4 1336.5,881.5 C1337.6,881.5 1338.7,881.5 1339.8,881.5 C1340.9,881.5 1342.0,881.5 1343.1,881.5 C1344.2,881.5 1345.3,881.5 1346.4,881.5 C1347.5,881.5 1348.6,881.5 1349.7,881.5 C1350.8,881.5 1351.9,881.5 1352.9,881.5 C1354.0,881.6 1355.1,881.6 1356.2,881.6 C1357.3,881.6 1358.4,881.6 1359.5,881.6 C1360.6,881.6 1361.7,881.6 1362.8,881.6 C1363.9,881.6 1365.0,881.6 1366.1,881.6 C1367.2,881.6 1368.3,881.6 1369.4,881.6 C1370.4,881.6 1371.5,881.7 1372.6,881.7 C1373.7,881.7 1374.8,881.7 1375.9,881.7 C1377.0,881.7 1378.1,881.7 1379.2,881.7 C1380.3,881.7 1381.4,881.7 1382.5,881.7 C1383.6,881.7 1384.7,881.7 1385.8,881.7 C1386.9,881.7 1387.9,881.7 1389.0,881.7 C1390.1,881.7 1391.2,881.8 1392.3,881.8 C1393.4,881.8 1394.5,881.8 1395.6,881.8 C1396.7,881.8 1397.8,881.8 1398.9,881.8 C1400.0,881.8 1401.1,881.8 1402.2,881.8 C1403.3,881.8 1404.4,881.8 1405.4,881.8 C1406.5,881.8 1407.6,881.8 1408.7,881.8 C1409.8,881.8 1410.9,881.8 1412.0,881.8 C1413.1,881.9 1414.2,881.9 1415.3,881.9 C1416.4,881.9 1417.5,881.9 1418.6,881.9 C1419.7,881.9 1420.8,881.9 1421.9,881.9 C1422.9,881.9 1424.0,881.9 1425.1,881.9 C1426.2,881.9 1427.3,881.9 1428.4,881.9 C1429.5,881.9 1430.6,881.9 1431.7,881.9 C1432.8,881.9 1433.9,881.9 1435.0,882.0 C1436.1,882.0 1437.2,882.0 1438.3,882.0 C1439.4,882.0 1440.4,882.0 1441.5,882.0 C1442.6,882.0 1443.7,882.0 1444.8,882.0 C1445.9,882.0 1447.0,882.0 1448.1,882.0 C1449.2,882.0 1450.3,882.0 1451.4,882.0 C1452.5,882.0 1453.6,882.0 1454.7,882.0 C1455.8,882.0 1456.9,882.0 1457.9,882.0 C1459.0,882.1 1460.1,882.1 1461.2,882.1 C1462.3,882.1 1463.4,882.1 1464.5,882.1 C1465.6,882.1 1466.7,882.1 1467.8,882.1 C1468.9,882.1 1470.0,882.1 1471.1,882.1 C1472.2,882.1 1473.3,882.1 1474.4,882.1 C1475.4,882.1 1476.5,882.1 1477.6,882.1 C1478.7,882.1 1479.8,882.1 1480.9,882.1 C1482.0,882.1 1483.1,882.2 1484.2,882.2 C1485.3,882.2 1486.4,882.2 1487.5,882.2 C1488.6,882.2 1489.7,882.2 1490.8,882.2 C1491.9,882.2 1492.9,882.2 1494.0,882.2 C1495.1,882.2 1496.2,882.2 1497.3,882.2 C1498.4,882.2 1499.5,882.2 1500.6,882.2 C1501.7,882.2 1502.8,882.2 1503.9,882.2 C1505.0,882.2 1506.1,882.2 1507.2,882.2 C1508.3,882.2 1509.4,882.3 1510.4,882.3 C1511.5,882.3 1512.6,882.3 1513.7,882.3 C1514.8,882.3 1515.9,882.3 1517.0,882.3 C1518.1,882.3 1519.2,882.3 1520.3,882.3 C1521.4,882.3 1522.5,882.3 1523.6,882.3 C1524.7,882.3 1525.8,882.3 1526.9,882.3 C1527.9,882.3 1529.0,882.3 1530.1,882.3 C1531.2,882.3 1532.3,882.3 1533.4,882.3 C1534.5,882.3 1535.6,882.4 1536.7,882.4 C1537.8,882.4 1538.9,882.4 1540.0,882.4 C1541.1,882.4 1542.2,882.4 1543.3,882.4 C1544.4,882.4 1545.4,882.4 1546.5,882.4 C1547.6,882.4 1548.7,882.4 1549.8,882.4 C1550.9,882.4 1552.0,882.4 1553.1,882.4 C1554.2,882.4 1555.3,882.4 1556.4,882.4 C1557.5,882.4 1558.6,882.4 1559.7,882.4 C1560.8,882.4 1561.9,882.4 1562.9,882.5 C1564.0,882.5 1565.1,882.5 1566.2,882.5 C1567.3,882.5 1568.4,882.5 1569.5,882.5 C1570.6,882.5 1571.7,882.5 1572.8,882.5 C1573.9,882.5 1575.0,882.5 1576.1,882.5 C1577.2,882.5 1578.3,882.5 1579.4,882.5 C1580.4,882.5 1581.5,882.5 1582.6,882.5 C1583.7,882.5 1584.8,882.5 1585.9,882.5 C1587.0,882.5 1588.1,882.5 1589.2,882.5 C1590.3,882.6 1591.4,882.6 1592.5,882.6 C1593.6,882.6 1594.7,882.6 1595.8,882.6 C1596.9,882.6 1597.9,882.6 1599.0,882.6 C1600.1,882.6 1601.2,882.6 1602.3,882.6 C1603.4,882.6 1604.5,882.6 1605.6,882.6 C1606.7,882.6 1607.8,882.6 1608.9,882.6 C1610.0,882.6 1611.1,882.6 1612.2,882.6 C1613.3,882.6 1614.4,882.6 1615.4,882.6 C1616.5,882.6 1617.6,882.7 1618.7,882.7 C1619.8,882.7 1620.9,882.7 1622.0,882.7 C1623.1,882.7 1624.2,882.7 1625.3,882.7 C1626.4,882.7 1627.5,882.7 1628.6,882.7 C1629.7,882.7 1630.8,882.7 1631.9,882.7 C1632.9,882.7 1634.0,882.7 1635.1,882.7 C1636.2,882.7 1637.3,882.7 1638.4,882.7 C1639.5,882.7 1640.6,882.7 1641.7,882.7 C1642.8,882.7 1643.9,882.8 1645.0,882.8 C1646.1,882.8 1647.2,882.8 1648.3,882.8 C1649.4,882.8 1650.4,882.8 1651.5,882.8 C1652.6,882.8 1653.7,882.8 1654.8,882.8 C1655.9,882.8 1657.0,882.8 1658.1,882.8 C1659.2,882.8 1660.3,882.8 1661.4,882.8 C1662.5,882.8 1663.6,882.8 1664.7,882.8 C1665.8,882.8 1666.9,882.8 1667.9,882.8 C1669.0,882.8 1670.1,882.9 1671.2,882.9 C1672.3,882.9 1673.4,882.9 1674.5,882.9 C1675.6,882.9 1676.7,882.9 1677.8,882.9 C1678.9,882.9 1680.0,882.9 1681.1,882.9 C1682.2,882.9 1683.3,882.9 1684.4,882.9 C1685.4,882.9 1686.5,882.9 1687.6,882.9 C1688.7,882.9 1689.8,882.9 1690.9,882.9 C1692.0,882.9 1693.1,882.9 1694.2,882.9 C1695.3,883.0 1696.4,883.0 1697.5,883.0 C1698.6,883.0 1699.7,883.0 1700.8,883.0 C1701.9,883.0 1702.9,883.0 1704.0,883.0 C1705.1,883.0 1706.2,883.0 1707.3,883.0" stroke="#3b2a82" stroke-width="4.4"/>
<path d="M95.1,365.6 C95.5,364.4 95.9,363.1 96.3,361.9 C96.7,360.6 97.1,359.4 97.5,358.1 C97.9,356.9 98.3,355.7 98.7,354.4 C99.1,353.2 99.5,351.9 99.9,350.7 C100.3,349.5 100.7,348.2 101.1,347.0 C101.5,345.8 102.0,344.5 102.4,343.3 C102.8,342.1 103.2,340.8 103.7,339.6 C104.1,338.4 104.5,337.2 105.0,335.9 C105.4,334.7 105.9,333.5 106.3,332.3 C106.8,331.1 107.3,329.9 107.7,328.7 C108.2,327.5 108.7,326.3 109.2,325.1 C109.7,323.9 110.2,322.8 110.8,321.6 C111.3,320.4 111.9,319.3 112.5,318.1 C113.0,317.0 113.6,315.9 114.2,314.8 C114.9,313.7 115.5,312.6 116.1,311.5 C116.8,310.4 117.4,309.4 118.1,308.3 C118.8,307.3 119.5,306.2 120.2,305.2 C120.9,304.2 121.6,303.2 122.3,302.2 C123.1,301.2 123.8,300.2 124.6,299.3 C125.4,298.4 126.2,297.4 127.0,296.6 C127.9,295.8 128.7,295.0 129.7,294.3 C130.6,293.6 131.6,293.0 132.6,292.5 C133.6,292.0 134.7,291.6 135.7,291.3 C136.8,291.0 137.9,290.8 139.0,290.6 C140.1,290.5 141.1,290.4 142.2,290.4 C143.3,290.3 144.4,290.3 145.5,290.4 C146.6,290.4 147.7,290.5 148.8,290.5 C149.9,290.6 151.0,290.8 152.1,290.9 C153.2,291.0 154.2,291.2 155.3,291.4 C156.4,291.5 157.5,291.7 158.6,292.0 C159.7,292.2 160.7,292.4 161.8,292.7 C162.9,292.9 163.9,293.2 165.0,293.5 C166.1,293.8 167.1,294.2 168.2,294.5 C169.3,294.8 170.3,295.1 171.4,295.4 C172.4,295.7 173.5,296.0 174.6,296.3 C175.6,296.6 176.7,296.9 177.8,297.2 C178.9,297.5 179.9,297.7 181.0,298.0 C182.1,298.2 183.1,298.5 184.2,298.7 C185.3,298.9 186.4,299.2 187.5,299.4 C188.5,299.6 189.6,299.8 190.7,299.9 C191.8,300.1 192.9,300.3 194.0,300.4 C195.1,300.5 196.2,300.6 197.2,300.7 C198.3,300.8 199.4,300.8 200.5,300.9 C201.6,300.9 202.7,300.9 203.8,301.0 C204.9,301.0 206.0,300.9 207.1,300.9 C208.2,300.9 209.3,300.9 210.4,300.8 C211.5,300.8 212.5,300.7 213.6,300.6 C214.7,300.6 215.8,300.5 216.9,300.4 C218.0,300.3 219.1,300.2 220.2,300.0 C221.3,299.9 222.4,299.8 223.4,299.6 C224.5,299.4 225.6,299.2 226.7,298.9 C227.8,298.7 228.8,298.4 229.9,298.1 C230.9,297.7 232.0,297.4 233.0,296.9 C234.1,296.5 235.1,296.0 236.1,295.5 C237.1,294.9 238.0,294.3 238.9,293.5 C239.9,292.8 240.7,292.0 241.5,291.1 C242.4,290.2 243.1,289.2 243.8,288.2 C244.5,287.2 245.1,286.1 245.7,284.9 C246.3,283.8 246.8,282.6 247.3,281.4 C247.8,280.2 248.2,279.0 248.6,277.8 C249.1,276.6 249.5,275.3 249.9,274.1 C250.3,272.9 250.7,271.6 251.2,270.4 C251.7,269.2 252.1,268.0 252.7,266.8 C253.2,265.7 253.8,264.5 254.5,263.5 C255.1,262.4 255.8,261.4 256.7,260.5 C257.5,259.7 258.4,258.9 259.4,258.3 C260.3,257.7 261.4,257.2 262.4,256.8 C263.5,256.5 264.6,256.2 265.6,256.1 C266.7,255.9 267.8,255.8 268.9,255.8 C270.0,255.8 271.1,255.9 272.2,256.0 C273.3,256.2 274.4,256.4 275.4,256.7 C276.5,257.1 277.5,257.5 278.5,258.0 C279.6,258.5 280.5,259.1 281.5,259.7 C282.5,260.3 283.4,261.0 284.4,261.6 C285.3,262.2 286.3,262.9 287.3,263.5 C288.3,264.0 289.3,264.5 290.3,265.0 C291.4,265.4 292.4,265.8 293.5,266.1 C294.5,266.4 295.6,266.6 296.7,266.7 C297.8,266.8 298.9,266.9 300.0,266.8 C301.1,266.6 302.2,266.4 303.2,266.0 C304.3,265.6 305.3,265.0 306.2,264.3 C307.1,263.6 307.9,262.6 308.6,261.7 C309.3,260.7 309.9,259.5 310.4,258.3 C311.0,257.2 311.4,256.0 311.9,254.7 C312.3,253.5 312.7,252.3 313.0,251.0 C313.4,249.8 313.8,248.5 314.1,247.2 C314.5,246.0 314.8,244.7 315.2,243.4 C315.5,242.2 315.8,240.9 316.2,239.6 C316.5,238.4 316.9,237.1 317.3,235.8 C317.7,234.6 318.1,233.4 318.5,232.1 C319.0,231.0 319.5,229.8 320.1,228.6 C320.6,227.5 321.3,226.4 322.0,225.4 C322.7,224.4 323.5,223.4 324.4,222.6 C325.2,221.8 326.2,221.1 327.2,220.5 C328.1,220.0 329.2,219.5 330.2,219.2 C331.3,218.8 332.4,218.6 333.5,218.5 C334.6,218.4 335.7,218.4 336.7,218.5 C337.8,218.6 338.9,218.8 340.0,219.1 C341.1,219.4 342.1,219.7 343.2,220.2 C344.2,220.6 345.2,221.0 346.2,221.5 C347.3,222.0 348.3,222.5 349.3,223.0 C350.3,223.5 351.3,224.0 352.3,224.4 C353.4,224.9 354.4,225.4 355.4,225.8 C356.5,226.2 357.5,226.7 358.6,227.0 C359.6,227.3 360.7,227.7 361.8,227.9 C362.8,228.0 364.0,228.2 365.0,228.0 C366.1,227.8 367.2,227.5 368.2,226.9 C369.1,226.3 370.0,225.4 370.8,224.5 C371.5,223.5 372.1,222.4 372.7,221.3 C373.3,220.1 373.7,218.9 374.2,217.7 C374.6,216.5 375.0,215.2 375.4,214.0 C375.8,212.7 376.1,211.4 376.4,210.2 C376.8,208.9 377.1,207.6 377.4,206.3 C377.7,205.1 378.0,203.8 378.3,202.5 C378.6,201.2 378.9,199.9 379.3,198.7 C379.6,197.4 379.9,196.1 380.2,194.8 C380.5,193.5 380.8,192.3 381.1,191.0 C381.4,189.7 381.7,188.4 382.0,187.1 C382.4,185.9 382.7,184.6 383.0,183.3 C383.3,182.0 383.6,180.8 383.9,179.5 C384.2,178.2 384.6,176.9 384.9,175.6 C385.2,174.4 385.5,173.1 385.8,171.8 C386.1,170.5 386.5,169.3 386.8,168.0 C387.1,166.7 387.4,165.4 387.7,164.1 C388.0,162.9 388.3,161.6 388.6,160.3 C388.9,159.0 389.2,157.7 389.5,156.4 C389.8,155.2 390.1,153.9 390.4,152.6 C390.6,151.3 390.9,150.0 391.2,148.7 C391.4,147.4 391.7,146.1 392.0,144.8 C392.2,143.5 392.5,142.2 392.8,140.9 C393.1,139.6 393.4,138.4 393.6,137.1 C393.9,135.8 394.2,134.5 394.5,133.2 C394.8,131.9 395.2,130.7 395.5,129.4 C395.8,128.1 396.1,126.8 396.4,125.5 C396.7,124.3 397.0,123.0 397.3,121.7 C397.6,120.4 397.9,119.1 398.2,117.8 C398.5,116.6 398.8,115.3 399.0,114.0 C399.3,112.7 399.5,111.4 399.8,110.1 C400.1,108.8 400.3,107.5 400.6,106.2 C400.9,104.9 401.1,103.6 401.4,102.3 C401.7,101.0 402.0,99.8 402.4,98.5 C402.7,97.2 403.0,95.9 403.4,94.7 C403.7,93.4 404.1,92.2 404.5,90.9 C404.9,89.7 405.3,88.4 405.7,87.2 C406.1,86.0 406.6,84.7 407.0,83.5 C407.5,82.3 408.0,81.1 408.5,79.9 C409.0,78.7 409.5,77.6 410.0,76.4 C410.6,75.3 411.1,74.1 411.7,73.0 C412.3,71.9 412.9,70.7 413.5,69.6 C414.2,68.6 414.8,67.5 415.5,66.4 C416.1,65.3 416.8,64.3 417.5,63.3 C418.2,62.2 418.9,61.2 419.6,60.2 C420.4,59.3 421.1,58.3 421.9,57.4 C422.7,56.5 423.5,55.6 424.4,54.7 C425.3,53.9 426.1,53.1 427.0,52.4 C428.0,51.7 428.9,51.0 429.9,50.4 C430.9,49.8 431.9,49.2 432.9,48.8 C433.9,48.4 435.0,48.0 436.1,47.8 C437.1,47.6 438.2,47.4 439.3,47.4 C440.4,47.5 441.5,47.6 442.6,47.8 C443.7,48.1 444.7,48.5 445.8,48.9 C446.8,49.4 447.8,50.0 448.7,50.6 C449.7,51.2 450.6,52.0 451.5,52.7 C452.4,53.5 453.3,54.3 454.1,55.2 C454.9,56.1 455.7,57.0 456.5,57.9 C457.2,58.9 458.0,59.9 458.7,60.9 C459.4,61.9 460.1,62.9 460.8,64.0 C461.4,65.0 462.1,66.1 462.7,67.2 C463.3,68.3 463.9,69.4 464.5,70.6 C465.1,71.7 465.7,72.8 466.2,74.0 C466.7,75.1 467.3,76.3 467.8,77.5 C468.3,78.7 468.8,79.9 469.3,81.0 C469.8,82.2 470.3,83.4 470.7,84.6 C471.2,85.9 471.7,87.1 472.1,88.3 C472.6,89.5 473.0,90.7 473.4,92.0 C473.8,93.2 474.2,94.4 474.6,95.7 C475.0,96.9 475.4,98.2 475.8,99.4 C476.1,100.7 476.5,101.9 476.8,103.2 C477.2,104.5 477.5,105.8 477.8,107.0 C478.1,108.3 478.4,109.6 478.7,110.9 C479.0,112.2 479.3,113.4 479.6,114.7 C479.9,116.0 480.2,117.3 480.5,118.6 C480.7,119.9 481.0,121.2 481.3,122.5 C481.6,123.8 481.8,125.1 482.1,126.4 C482.4,127.6 482.6,128.9 482.9,130.2 C483.2,131.5 483.5,132.8 483.7,134.1 C484.0,135.4 484.3,136.7 484.5,138.0 C484.8,139.3 485.1,140.6 485.3,141.9 C485.6,143.2 485.8,144.5 486.1,145.8 C486.3,147.1 486.6,148.4 486.8,149.7 C487.1,151.0 487.3,152.3 487.6,153.6 C487.8,154.9 488.0,156.2 488.3,157.5 C488.5,158.8 488.7,160.1 488.9,161.4 C489.1,162.7 489.3,164.0 489.5,165.3 C489.7,166.6 489.9,168.0 490.1,169.3 C490.3,170.6 490.5,171.9 490.7,173.2 C490.8,174.5 491.0,175.9 491.2,177.2 C491.4,178.5 491.5,179.8 491.7,181.1 C491.9,182.4 492.1,183.8 492.2,185.1 C492.4,186.4 492.6,187.7 492.7,189.0 C492.9,190.4 493.1,191.7 493.2,193.0 C493.4,194.3 493.6,195.6 493.7,196.9 C493.9,198.3 494.1,199.6 494.2,200.9 C494.4,202.2 494.6,203.5 494.7,204.9 C494.9,206.2 495.1,207.5 495.3,208.8 C495.4,210.1 495.6,211.5 495.7,212.8 C495.9,214.1 496.1,215.4 496.2,216.7 C496.4,218.1 496.5,219.4 496.7,220.7 C496.8,222.0 497.0,223.3 497.1,224.7 C497.2,226.0 497.4,227.3 497.5,228.6 C497.6,230.0 497.8,231.3 497.9,232.6 C498.0,233.9 498.2,235.3 498.3,236.6 C498.4,237.9 498.5,239.2 498.6,240.6 C498.7,241.9 498.9,243.2 499.0,244.6 C499.1,245.9 499.2,247.2 499.3,248.5 C499.4,249.9 499.5,251.2 499.6,252.5 C499.7,253.8 499.8,255.2 499.9,256.5 C500.1,257.8 500.2,259.2 500.3,260.5 C500.4,261.8 500.5,263.1 500.6,264.5 C500.7,265.8 500.8,267.1 500.9,268.4 C501.1,269.8 501.2,271.1 501.3,272.4 C501.4,273.8 501.5,275.1 501.6,276.4 C501.7,277.7 501.9,279.1 502.0,280.4 C502.1,281.7 502.2,283.0 502.3,284.4 C502.4,285.7 502.6,287.0 502.7,288.4 C502.8,289.7 502.9,291.0 503.0,292.3 C503.1,293.7 503.2,295.0 503.4,296.3 C503.5,297.6 503.6,299.0 503.7,300.3 C503.8,301.6 503.9,302.9 504.1,304.3 C504.2,305.6 504.3,306.9 504.4,308.3 C504.5,309.6 504.6,310.9 504.8,312.2 C504.9,313.6 505.0,314.9 505.1,316.2 C505.2,317.5 505.4,318.9 505.5,320.2 C505.6,321.5 505.7,322.8 505.8,324.2 C505.9,325.5 506.1,326.8 506.2,328.2 C506.3,329.5 506.4,330.8 506.5,332.1 C506.6,333.5 506.8,334.8 506.9,336.1 C507.0,337.4 507.1,338.8 507.2,340.1 C507.3,341.4 507.5,342.8 507.6,344.1 C507.7,345.4 507.8,346.7 507.9,348.1 C508.0,349.4 508.2,350.7 508.3,352.0 C508.4,353.4 508.5,354.7 508.6,356.0 C508.7,357.3 508.8,358.7 509.0,360.0 C509.1,361.3 509.2,362.7 509.3,364.0 C509.4,365.3 509.5,366.6 509.7,368.0 C509.8,369.3 509.9,370.6 510.0,371.9 C510.1,373.3 510.2,374.6 510.4,375.9 C510.5,377.3 510.6,378.6 510.7,379.9 C510.8,381.2 510.9,382.6 511.0,383.9 C511.2,385.2 511.3,386.5 511.4,387.9 C511.5,389.2 511.6,390.5 511.7,391.8 C511.8,393.2 512.0,394.5 512.1,395.8 C512.2,397.2 512.3,398.5 512.4,399.8 C512.5,401.1 512.6,402.5 512.8,403.8 C512.9,405.1 513.0,406.4 513.1,407.8 C513.2,409.1 513.3,410.4 513.4,411.8 C513.5,413.1 513.7,414.4 513.8,415.7 C513.9,417.1 514.0,418.4 514.1,419.7 C514.2,421.0 514.3,422.4 514.5,423.7 C514.6,425.0 514.7,426.4 514.8,427.7 C514.9,429.0 515.0,430.3 515.1,431.7 C515.2,433.0 515.4,434.3 515.5,435.6 C515.6,437.0 515.7,438.3 515.8,439.6 C515.9,441.0 516.0,442.3 516.1,443.6 C516.3,444.9 516.4,446.3 516.5,447.6 C516.6,448.9 516.7,450.2 516.8,451.6 C516.9,452.9 517.0,454.2 517.2,455.6 C517.3,456.9 517.4,458.2 517.5,459.5 C517.6,460.9 517.7,462.2 517.8,463.5 C518.0,464.8 518.1,466.2 518.2,467.5 C518.3,468.8 518.4,470.2 518.6,471.5 C518.7,472.8 518.8,474.1 518.9,475.5 C519.0,476.8 519.2,478.1 519.3,479.4 C519.4,480.8 519.6,482.1 519.7,483.4 C519.8,484.7 519.9,486.1 520.1,487.4 C520.2,488.7 520.3,490.0 520.5,491.4 C520.6,492.7 520.8,494.0 520.9,495.3 C521.0,496.7 521.2,498.0 521.3,499.3 C521.5,500.6 521.6,501.9 521.7,503.3 C521.9,504.6 522.0,505.9 522.2,507.2 C522.3,508.6 522.5,509.9 522.6,511.2 C522.8,512.5 522.9,513.8 523.1,515.2 C523.2,516.5 523.4,517.8 523.5,519.1 C523.7,520.5 523.8,521.8 524.0,523.1 C524.2,524.4 524.3,525.7 524.5,527.1 C524.6,528.4 524.8,529.7 525.0,531.0 C525.1,532.3 525.3,533.6 525.5,535.0 C525.6,536.3 525.8,537.6 526.0,538.9 C526.1,540.2 526.3,541.6 526.5,542.9 C526.7,544.2 526.8,545.5 527.0,546.8 C527.2,548.1 527.4,549.5 527.6,550.8 C527.7,552.1 527.9,553.4 528.1,554.7 C528.3,556.0 528.5,557.4 528.7,558.7 C528.9,560.0 529.1,561.3 529.3,562.6 C529.5,563.9 529.7,565.2 529.9,566.5 C530.1,567.8 530.3,569.2 530.5,570.5 C530.7,571.8 530.9,573.1 531.2,574.4 C531.4,575.7 531.6,577.0 531.8,578.3 C532.1,579.6 532.3,580.9 532.5,582.2 C532.8,583.5 533.0,584.8 533.2,586.1 C533.5,587.4 533.7,588.7 534.0,590.0 C534.2,591.3 534.5,592.6 534.8,593.9 C535.0,595.2 535.3,596.5 535.6,597.8 C535.8,599.1 536.1,600.4 536.4,601.7 C536.7,603.0 537.0,604.2 537.3,605.5 C537.6,606.8 537.9,608.1 538.2,609.4 C538.5,610.7 538.8,611.9 539.1,613.2 C539.4,614.5 539.7,615.8 540.1,617.0 C540.4,618.3 540.7,619.6 541.0,620.9 C541.4,622.1 541.7,623.4 542.1,624.7 C542.4,625.9 542.8,627.2 543.1,628.4 C543.5,629.7 543.9,631.0 544.3,632.2 C544.7,633.5 545.0,634.7 545.4,635.9 C545.8,637.2 546.3,638.4 546.7,639.7 C547.1,640.9 547.5,642.1 548.0,643.3 C548.4,644.6 548.9,645.8 549.3,647.0 C549.8,648.2 550.2,649.4 550.7,650.6 C551.2,651.8 551.6,653.0 552.1,654.2 C552.6,655.4 553.1,656.6 553.7,657.8 C554.2,658.9 554.7,660.1 555.3,661.2 C555.9,662.4 556.5,663.5 557.1,664.6 C557.7,665.7 558.3,666.8 559.0,667.8 C559.7,668.9 560.4,669.9 561.1,670.9 C561.8,671.9 562.6,672.9 563.4,673.8 C564.1,674.7 565.0,675.6 565.8,676.5 C566.6,677.4 567.5,678.2 568.3,679.0 C569.2,679.8 570.1,680.6 571.0,681.3 C572.0,682.0 572.9,682.7 573.9,683.3 C574.8,684.0 575.8,684.6 576.8,685.1 C577.8,685.7 578.8,686.2 579.8,686.6 C580.9,687.1 581.9,687.5 583.0,687.8 C584.0,688.2 585.1,688.5 586.2,688.7 C587.2,688.9 588.3,689.0 589.4,689.0 C590.5,689.1 591.6,689.0 592.7,688.8 C593.8,688.7 594.9,688.4 595.9,688.0 C597.0,687.7 598.0,687.2 599.0,686.7 C600.1,686.3 601.0,685.7 602.1,685.2 C603.1,684.7 604.1,684.1 605.1,683.7 C606.1,683.2 607.2,682.8 608.2,682.6 C609.3,682.4 610.4,682.3 611.5,682.5 C612.6,682.6 613.7,683.0 614.7,683.5 C615.7,684.0 616.6,684.7 617.6,685.3 C618.5,686.0 619.4,686.8 620.4,687.5 C621.3,688.2 622.2,689.0 623.1,689.6 C624.1,690.3 625.0,691.0 626.0,691.6 C627.0,692.1 628.0,692.6 629.1,692.9 C630.1,693.1 631.3,693.3 632.4,693.1 C633.4,693.0 634.5,692.6 635.5,692.1 C636.5,691.5 637.4,690.7 638.2,689.9 C639.1,689.0 639.8,688.0 640.5,687.0 C641.2,686.0 641.9,684.9 642.5,683.8 C643.2,682.8 643.8,681.7 644.4,680.6 C645.1,679.5 645.7,678.5 646.4,677.4 C647.1,676.4 647.8,675.4 648.6,674.4 C649.4,673.5 650.2,672.6 651.1,671.8 C651.9,671.0 652.9,670.3 653.9,669.7 C654.9,669.2 656.0,668.8 657.0,668.7 C658.1,668.5 659.2,668.6 660.3,668.9 C661.3,669.2 662.4,669.9 663.3,670.5 C664.2,671.2 665.0,672.1 665.9,673.0 C666.7,673.9 667.4,674.9 668.1,675.9 C668.9,676.9 669.6,677.9 670.2,678.9 C670.9,680.0 671.6,681.1 672.2,682.1 C672.8,683.2 673.5,684.3 674.1,685.4 C674.7,686.5 675.3,687.6 675.9,688.8 C676.5,689.9 677.1,691.0 677.6,692.1 C678.2,693.3 678.8,694.4 679.3,695.6 C679.8,696.8 680.3,698.0 680.8,699.1 C681.3,700.3 681.8,701.5 682.3,702.7 C682.8,703.9 683.3,705.1 683.7,706.3 C684.2,707.5 684.7,708.7 685.1,710.0 C685.5,711.2 686.0,712.4 686.4,713.7 C686.8,714.9 687.2,716.1 687.5,717.4 C687.9,718.6 688.3,719.9 688.6,721.2 C689.0,722.4 689.4,723.7 689.7,724.9 C690.1,726.2 690.5,727.5 690.9,728.7 C691.2,729.9 691.6,731.2 692.1,732.4 C692.5,733.7 692.9,734.9 693.3,736.1 C693.8,737.3 694.2,738.5 694.7,739.8 C695.1,741.0 695.6,742.2 696.1,743.4 C696.5,744.6 697.0,745.8 697.5,747.0 C697.9,748.2 698.4,749.4 698.9,750.6 C699.4,751.8 699.9,753.0 700.4,754.2 C700.8,755.4 701.3,756.6 701.8,757.8 C702.4,759.0 702.9,760.1 703.4,761.3 C703.9,762.5 704.5,763.6 705.0,764.8 C705.6,765.9 706.1,767.1 706.7,768.2 C707.3,769.3 707.9,770.4 708.5,771.6 C709.1,772.7 709.7,773.8 710.4,774.9 C711.0,776.0 711.6,777.0 712.3,778.1 C712.9,779.2 713.6,780.3 714.2,781.3 C714.9,782.4 715.6,783.4 716.2,784.5 C716.9,785.5 717.6,786.6 718.3,787.6 C719.0,788.6 719.7,789.7 720.4,790.7 C721.1,791.7 721.8,792.7 722.6,793.7 C723.3,794.7 724.0,795.6 724.8,796.6 C725.6,797.6 726.3,798.5 727.1,799.5 C727.9,800.4 728.6,801.4 729.4,802.3 C730.2,803.2 731.0,804.1 731.8,805.0 C732.6,805.9 733.4,806.8 734.2,807.7 C735.0,808.6 735.9,809.5 736.7,810.4 C737.5,811.3 738.3,812.2 739.1,813.1 C740.0,813.9 740.8,814.8 741.7,815.6 C742.5,816.4 743.4,817.2 744.3,818.0 C745.2,818.8 746.1,819.5 747.0,820.3 C747.9,821.0 748.9,821.7 749.8,822.3 C750.8,823.0 751.7,823.6 752.7,824.2 C753.7,824.8 754.7,825.3 755.7,825.8 C756.8,826.3 757.8,826.7 758.8,827.1 C759.9,827.4 761.0,827.7 762.0,827.9 C763.1,828.1 764.2,828.3 765.3,828.4 C766.4,828.4 767.5,828.4 768.6,828.4 C769.7,828.3 770.8,828.2 771.9,828.0 C772.9,827.9 774.0,827.6 775.1,827.3 C776.1,827.0 777.2,826.6 778.2,826.2 C779.3,825.8 780.3,825.3 781.3,824.7 C782.3,824.2 783.3,823.6 784.2,823.0 C785.2,822.4 786.2,821.8 787.1,821.1 C788.1,820.5 789.0,819.8 790.0,819.1 C790.9,818.4 791.8,817.7 792.7,816.9 C793.6,816.2 794.5,815.4 795.4,814.6 C796.3,813.9 797.2,813.1 798.0,812.2 C798.9,811.4 799.7,810.5 800.5,809.7 C801.4,808.8 802.2,807.9 803.0,806.9 C803.8,806.0 804.5,805.1 805.3,804.1 C806.1,803.2 806.8,802.2 807.5,801.2 C808.3,800.2 809.0,799.2 809.7,798.2 C810.5,797.2 811.2,796.2 811.9,795.2 C812.6,794.2 813.3,793.2 814.0,792.1 C814.7,791.1 815.4,790.0 816.0,789.0 C816.7,787.9 817.3,786.9 818.0,785.8 C818.6,784.7 819.2,783.6 819.8,782.5 C820.5,781.4 821.1,780.3 821.6,779.1 C822.2,778.0 822.8,776.9 823.4,775.7 C823.9,774.6 824.5,773.4 825.1,772.3 C825.6,771.2 826.2,770.0 826.7,768.8 C827.3,767.7 827.8,766.5 828.3,765.4 C828.9,764.2 829.4,763.0 829.9,761.9 C830.4,760.7 831.0,759.5 831.5,758.3 C832.0,757.2 832.5,756.0 833.0,754.8 C833.5,753.6 834.0,752.4 834.5,751.2 C835.0,750.0 835.5,748.8 835.9,747.6 C836.4,746.4 836.9,745.2 837.4,744.0 C837.8,742.8 838.3,741.6 838.8,740.4 C839.2,739.2 839.7,738.0 840.1,736.8 C840.5,735.5 841.0,734.3 841.4,733.1 C841.8,731.8 842.2,730.6 842.7,729.4 C843.1,728.1 843.5,726.9 843.8,725.6 C844.2,724.4 844.6,723.1 845.0,721.9 C845.4,720.7 845.8,719.4 846.2,718.2 C846.6,716.9 847.0,715.7 847.4,714.4 C847.8,713.2 848.2,712.0 848.6,710.7 C849.0,709.5 849.4,708.2 849.8,707.0 C850.3,705.8 850.7,704.5 851.1,703.3 C851.5,702.1 851.9,700.8 852.3,699.6 C852.7,698.3 853.1,697.1 853.5,695.8 C853.8,694.6 854.2,693.3 854.6,692.1 C855.0,690.8 855.3,689.6 855.7,688.3 C856.1,687.1 856.4,685.8 856.8,684.5 C857.1,683.3 857.5,682.0 857.8,680.8 C858.2,679.5 858.5,678.2 858.9,677.0 C859.2,675.7 859.6,674.4 859.9,673.1 C860.2,671.9 860.6,670.6 860.9,669.3 C861.2,668.1 861.5,666.8 861.9,665.5 C862.2,664.2 862.5,663.0 862.8,661.7 C863.1,660.4 863.4,659.1 863.7,657.8 C864.0,656.6 864.3,655.3 864.6,654.0 C864.9,652.7 865.2,651.4 865.5,650.1 C865.8,648.9 866.1,647.6 866.4,646.3 C866.8,645.0 867.1,643.7 867.4,642.5 C867.7,641.2 868.0,639.9 868.3,638.6 C868.7,637.3 869.0,636.1 869.3,634.8 C869.7,633.5 870.0,632.3 870.3,631.0 C870.7,629.7 871.0,628.5 871.4,627.2 C871.7,625.9 872.1,624.7 872.4,623.4 C872.8,622.2 873.2,620.9 873.5,619.6 C873.9,618.4 874.3,617.1 874.6,615.9 C875.0,614.6 875.4,613.4 875.8,612.1 C876.2,610.9 876.6,609.6 877.0,608.4 C877.4,607.1 877.8,605.9 878.2,604.7 C878.6,603.4 879.0,602.2 879.4,601.0 C879.8,599.7 880.2,598.5 880.7,597.3 C881.1,596.0 881.5,594.8 882.0,593.6 C882.4,592.4 882.9,591.1 883.3,589.9 C883.8,588.7 884.2,587.5 884.7,586.3 C885.2,585.1 885.7,583.9 886.2,582.7 C886.7,581.6 887.2,580.4 887.7,579.2 C888.3,578.0 888.8,576.9 889.3,575.7 C889.9,574.5 890.4,573.4 891.0,572.2 C891.6,571.1 892.1,570.0 892.7,568.8 C893.3,567.7 893.9,566.6 894.5,565.5 C895.2,564.4 895.8,563.4 896.5,562.3 C897.2,561.3 897.9,560.2 898.6,559.3 C899.4,558.3 900.1,557.3 900.9,556.4 C901.7,555.5 902.5,554.6 903.4,553.8 C904.3,553.0 905.1,552.2 906.1,551.4 C907.0,550.7 907.9,550.0 908.9,549.4 C909.8,548.8 910.8,548.2 911.9,547.7 C912.9,547.3 913.9,546.8 915.0,546.5 C916.0,546.1 917.1,545.9 918.2,545.7 C919.3,545.5 920.4,545.4 921.5,545.3 C922.5,545.3 923.7,545.3 924.7,545.4 C925.8,545.4 926.9,545.6 928.0,545.8 C929.1,546.0 930.2,546.3 931.2,546.7 C932.2,547.1 933.3,547.5 934.3,548.1 C935.3,548.6 936.3,549.2 937.2,549.9 C938.1,550.6 939.0,551.4 939.9,552.2 C940.7,553.0 941.5,553.9 942.3,554.9 C943.1,555.8 943.8,556.8 944.5,557.8 C945.3,558.8 945.9,559.9 946.6,560.9 C947.3,562.0 947.9,563.1 948.5,564.2 C949.1,565.3 949.7,566.5 950.2,567.6 C950.8,568.8 951.3,569.9 951.8,571.1 C952.3,572.3 952.8,573.5 953.2,574.7 C953.7,575.9 954.2,577.1 954.6,578.4 C955.0,579.6 955.4,580.8 955.9,582.0 C956.3,583.3 956.7,584.5 957.0,585.8 C957.4,587.0 957.8,588.3 958.2,589.5 C958.5,590.8 958.9,592.1 959.2,593.3 C959.5,594.6 959.8,595.9 960.2,597.2 C960.5,598.4 960.8,599.7 961.1,601.0 C961.4,602.3 961.6,603.6 961.9,604.9 C962.2,606.2 962.5,607.5 962.8,608.7 C963.0,610.0 963.3,611.3 963.6,612.6 C963.8,613.9 964.1,615.2 964.3,616.5 C964.6,617.8 964.8,619.1 965.0,620.4 C965.3,621.7 965.5,623.0 965.7,624.3 C966.0,625.6 966.2,627.0 966.4,628.3 C966.7,629.6 966.9,630.9 967.1,632.2 C967.3,633.5 967.6,634.8 967.8,636.1 C968.0,637.4 968.2,638.7 968.5,640.0 C968.7,641.3 968.9,642.6 969.1,643.9 C969.4,645.2 969.6,646.5 969.8,647.8 C970.0,649.2 970.3,650.5 970.5,651.8 C970.7,653.1 970.9,654.4 971.1,655.7 C971.3,657.0 971.5,658.3 971.7,659.6 C971.9,660.9 972.1,662.3 972.3,663.6 C972.5,664.9 972.6,666.2 972.8,667.5 C973.0,668.8 973.1,670.2 973.3,671.5 C973.5,672.8 973.6,674.1 973.8,675.4 C973.9,676.8 974.1,678.1 974.2,679.4 C974.4,680.7 974.6,682.0 974.7,683.4 C974.9,684.7 975.0,686.0 975.2,687.3 C975.3,688.6 975.5,690.0 975.6,691.3 C975.8,692.6 976.0,693.9 976.1,695.3 C976.3,696.6 976.4,697.9 976.6,699.2 C976.8,700.5 977.0,701.8 977.1,703.2 C977.3,704.5 977.5,705.8 977.7,707.1 C977.9,708.4 978.1,709.7 978.3,711.0 C978.5,712.3 978.7,713.7 978.9,715.0 C979.2,716.3 979.4,717.6 979.6,718.9 C979.8,720.2 980.0,721.5 980.2,722.8 C980.4,724.1 980.7,725.4 980.9,726.7 C981.1,728.1 981.3,729.4 981.5,730.7 C981.7,732.0 981.9,733.3 982.1,734.6 C982.3,735.9 982.5,737.2 982.7,738.5 C982.9,739.8 983.2,741.2 983.4,742.5 C983.6,743.8 983.9,745.1 984.2,746.3 C984.4,747.6 984.7,748.9 985.0,750.2 C985.3,751.5 985.6,752.8 985.9,754.1 C986.3,755.3 986.6,756.6 986.9,757.9 C987.3,759.1 987.6,760.4 988.0,761.7 C988.3,762.9 988.7,764.2 989.0,765.5 C989.4,766.7 989.7,768.0 990.1,769.2 C990.5,770.5 990.8,771.8 991.2,773.0 C991.6,774.3 991.9,775.5 992.3,776.8 C992.7,778.0 993.0,779.3 993.4,780.6 C993.8,781.8 994.1,783.1 994.5,784.3 C994.9,785.6 995.2,786.9 995.6,788.1 C995.9,789.4 996.3,790.6 996.6,791.9 C997.0,793.2 997.4,794.4 997.7,795.7 C998.1,796.9 998.5,798.2 998.9,799.4 C999.3,800.7 999.7,801.9 1000.2,803.1 C1000.6,804.3 1001.0,805.6 1001.5,806.8 C1002.0,808.0 1002.5,809.2 1003.0,810.3 C1003.5,811.5 1004.0,812.7 1004.5,813.9 C1005.1,815.0 1005.6,816.2 1006.2,817.3 C1006.7,818.5 1007.3,819.6 1007.9,820.8 C1008.5,821.9 1009.1,823.0 1009.7,824.1 C1010.3,825.2 1011.0,826.2 1011.6,827.3 C1012.3,828.4 1013.0,829.4 1013.7,830.4 C1014.4,831.4 1015.1,832.4 1015.9,833.4 C1016.6,834.4 1017.4,835.4 1018.1,836.3 C1018.9,837.3 1019.7,838.2 1020.5,839.1 C1021.3,840.1 1022.1,841.0 1022.9,841.9 C1023.7,842.8 1024.5,843.6 1025.3,844.5 C1026.2,845.4 1027.0,846.2 1027.8,847.1 C1028.7,847.9 1029.5,848.8 1030.4,849.6 C1031.3,850.4 1032.1,851.2 1033.0,852.0 C1033.9,852.8 1034.8,853.6 1035.7,854.4 C1036.5,855.2 1037.5,855.9 1038.4,856.7 C1039.3,857.4 1040.2,858.1 1041.1,858.8 C1042.1,859.5 1043.0,860.2 1043.9,860.9 C1044.9,861.5 1045.8,862.2 1046.8,862.8 C1047.8,863.4 1048.7,864.0 1049.7,864.6 C1050.7,865.2 1051.7,865.8 1052.7,866.3 C1053.7,866.9 1054.7,867.4 1055.7,867.9 C1056.7,868.4 1057.8,868.9 1058.8,869.3 C1059.8,869.8 1060.8,870.3 1061.9,870.7 C1062.9,871.1 1063.9,871.6 1065.0,872.0 C1066.0,872.4 1067.1,872.8 1068.1,873.1 C1069.2,873.5 1070.2,873.9 1071.3,874.2 C1072.3,874.6 1073.4,874.9 1074.5,875.2 C1075.5,875.5 1076.6,875.9 1077.6,876.2 C1078.7,876.5 1079.8,876.8 1080.8,877.2 C1081.9,877.5 1082.9,877.8 1084.0,878.2 C1085.1,878.5 1086.1,878.8 1087.2,879.2 C1088.2,879.5 1089.3,879.8 1090.4,880.1 C1091.4,880.5 1092.5,880.8 1093.6,881.0 C1094.6,881.3 1095.7,881.6 1096.8,881.8 C1097.8,882.1 1098.9,882.3 1100.0,882.5 C1101.1,882.7 1102.2,882.9 1103.3,883.0 C1104.3,883.2 1105.4,883.3 1106.5,883.4 C1107.6,883.5 1108.7,883.6 1109.8,883.7 C1110.9,883.8 1112.0,883.8 1113.1,883.9 C1114.2,883.9 1115.3,884.0 1116.4,884.0 C1117.5,884.0 1118.5,884.1 1119.6,884.1 C1120.7,884.1 1121.8,884.2 1122.9,884.2 C1124.0,884.2 1125.1,884.2 1126.2,884.2 C1127.3,884.2 1128.4,884.2 1129.5,884.2 C1130.6,884.2 1131.7,884.2 1132.8,884.1 C1133.9,884.1 1135.0,884.1 1136.0,884.1 C1137.1,884.1 1138.2,884.1 1139.3,884.1 C1140.4,884.1 1141.5,884.0 1142.6,884.0 C1143.7,884.0 1144.8,884.0 1145.9,884.0 C1147.0,884.0 1148.1,884.0 1149.2,884.0 C1150.3,884.0 1151.4,884.0 1152.5,884.0 C1153.5,884.0 1154.6,884.0 1155.7,884.0 C1156.8,884.0 1157.9,884.0 1159.0,884.0 C1160.1,884.0 1161.2,884.0 1162.3,884.0 C1163.4,884.0 1164.5,884.0 1165.6,884.0 C1166.7,884.0 1167.8,884.0 1168.9,884.0 C1170.0,884.0 1171.0,884.0 1172.1,884.0 C1173.2,884.0 1174.3,884.0 1175.4,884.0 C1176.5,884.0 1177.6,884.0 1178.7,884.0 C1179.8,884.0 1180.9,884.0 1182.0,884.0 C1183.1,884.0 1184.2,884.0 1185.3,884.0 C1186.4,884.0 1187.5,884.0 1188.5,884.0 C1189.6,884.0 1190.7,884.0 1191.8,884.0 C1192.9,884.0 1194.0,884.0 1195.1,884.0 C1196.2,884.0 1197.3,884.0 1198.4,884.0 C1199.5,884.0 1200.6,884.0 1201.7,884.0 C1202.8,884.0 1203.9,884.0 1205.0,884.0 C1206.0,884.0 1207.1,884.0 1208.2,884.0 C1209.3,884.0 1210.4,884.0 1211.5,884.0 C1212.6,884.0 1213.7,884.0 1214.8,884.0 C1215.9,884.0 1217.0,884.0 1218.1,884.0 C1219.2,884.0 1220.3,884.0 1221.4,884.0 C1222.5,884.0 1223.5,884.0 1224.6,884.0 C1225.7,884.0 1226.8,884.0 1227.9,884.0 C1229.0,884.0 1230.1,884.0 1231.2,884.0 C1232.3,884.0 1233.4,884.0 1234.5,884.0 C1235.6,884.0 1236.7,884.0 1237.8,884.0 C1238.9,884.0 1240.0,883.9 1241.0,883.9 C1242.1,883.9 1243.2,883.9 1244.3,883.9 C1245.4,883.9 1246.5,883.9 1247.6,883.9 C1248.7,883.9 1249.8,883.9 1250.9,883.9 C1252.0,883.9 1253.1,883.9 1254.2,883.9 C1255.3,883.9 1256.4,883.9 1257.5,883.9 C1258.5,883.9 1259.6,883.9 1260.7,883.9 C1261.8,883.9 1262.9,883.9 1264.0,883.9 C1265.1,883.9 1266.2,883.9 1267.3,883.9 C1268.4,883.9 1269.5,883.9 1270.6,883.9 C1271.7,883.9 1272.8,883.9 1273.9,883.9 C1275.0,883.9 1276.0,883.9 1277.1,883.9 C1278.2,883.9 1279.3,883.9 1280.4,883.9 C1281.5,883.9 1282.6,883.9 1283.7,883.9 C1284.8,883.9 1285.9,883.9 1287.0,883.9 C1288.1,883.9 1289.2,883.9 1290.3,883.9 C1291.4,883.9 1292.5,883.9 1293.5,883.9 C1294.6,883.9 1295.7,883.9 1296.8,883.9 C1297.9,883.9 1299.0,883.9 1300.1,883.9 C1301.2,883.9 1302.3,883.9 1303.4,883.9 C1304.5,883.9 1305.6,883.9 1306.7,883.9 C1307.8,883.9 1308.9,883.9 1310.0,883.9 C1311.0,883.9 1312.1,883.9 1313.2,883.9 C1314.3,883.9 1315.4,883.9 1316.5,883.9 C1317.6,883.9 1318.7,883.9 1319.8,883.9 C1320.9,883.9 1322.0,883.9 1323.1,883.9 C1324.2,883.9 1325.3,883.9 1326.4,883.9 C1327.5,883.9 1328.5,883.9 1329.6,883.9 C1330.7,883.9 1331.8,883.9 1332.9,883.9 C1334.0,883.9 1335.1,884.0 1336.2,884.0 C1337.3,884.0 1338.4,884.0 1339.5,884.0 C1340.6,884.0 1341.7,884.0 1342.8,884.0 C1343.9,884.0 1345.0,884.0 1346.0,884.0 C1347.1,884.0 1348.2,884.0 1349.3,884.0 C1350.4,884.0 1351.5,884.0 1352.6,884.0 C1353.7,884.0 1354.8,884.0 1355.9,884.0 C1357.0,884.0 1358.1,884.0 1359.2,884.0 C1360.3,884.0 1361.4,884.0 1362.5,884.0 C1363.5,884.0 1364.6,884.0 1365.7,884.0 C1366.8,884.0 1367.9,884.0 1369.0,884.0 C1370.1,884.0 1371.2,884.0 1372.3,884.0 C1373.4,884.0 1374.5,884.0 1375.6,884.0 C1376.7,884.0 1377.8,884.0 1378.9,884.0 C1380.0,884.0 1381.1,884.0 1382.1,884.0 C1383.2,884.0 1384.3,884.0 1385.4,884.0 C1386.5,884.0 1387.6,884.0 1388.7,884.0 C1389.8,884.0 1390.9,884.0 1392.0,884.0 C1393.1,884.0 1394.2,884.0 1395.3,884.0 C1396.4,884.0 1397.5,884.0 1398.6,884.0 C1399.6,884.0 1400.7,884.0 1401.8,884.0 C1402.9,884.0 1404.0,884.0 1405.1,884.0 C1406.2,884.0 1407.3,884.0 1408.4,884.0 C1409.5,884.0 1410.6,884.0 1411.7,884.0 C1412.8,884.0 1413.9,884.0 1415.0,884.0 C1416.1,884.0 1417.1,884.0 1418.2,884.0 C1419.3,884.0 1420.4,884.0 1421.5,884.0 C1422.6,884.0 1423.7,884.0 1424.8,884.0 C1425.9,884.0 1427.0,884.0 1428.1,884.0 C1429.2,884.0 1430.3,884.0 1431.4,884.0 C1432.5,884.0 1433.6,884.0 1434.6,884.0 C1435.7,884.0 1436.8,884.0 1437.9,884.0 C1439.0,884.0 1440.1,884.0 1441.2,884.0 C1442.3,884.0 1443.4,884.0 1444.5,884.0 C1445.6,884.0 1446.7,884.0 1447.8,884.0 C1448.9,884.0 1450.0,884.0 1451.1,884.0 C1452.1,884.0 1453.2,884.0 1454.3,884.0 C1455.4,884.0 1456.5,884.0 1457.6,884.0 C1458.7,884.0 1459.8,884.0 1460.9,884.0 C1462.0,884.0 1463.1,884.0 1464.2,884.0 C1465.3,884.0 1466.4,884.0 1467.5,884.0 C1468.6,884.0 1469.6,884.0 1470.7,884.0 C1471.8,884.0 1472.9,884.0 1474.0,884.0 C1475.1,884.0 1476.2,884.0 1477.3,884.0 C1478.4,884.0 1479.5,884.0 1480.6,884.0 C1481.7,884.0 1482.8,884.0 1483.9,884.0 C1485.0,884.0 1486.1,884.0 1487.1,884.0 C1488.2,884.0 1489.3,884.0 1490.4,884.0 C1491.5,884.0 1492.6,884.0 1493.7,884.0 C1494.8,884.0 1495.9,884.0 1497.0,884.0 C1498.1,884.0 1499.2,884.0 1500.3,884.0 C1501.4,884.0 1502.5,884.0 1503.6,884.0 C1504.6,884.0 1505.7,884.0 1506.8,884.0 C1507.9,884.0 1509.0,884.0 1510.1,884.0 C1511.2,884.0 1512.3,884.0 1513.4,884.0 C1514.5,884.0 1515.6,884.0 1516.7,884.0 C1517.8,884.0 1518.9,884.0 1520.0,884.0 C1521.1,884.0 1522.1,884.0 1523.2,884.0 C1524.3,884.0 1525.4,884.0 1526.5,884.0 C1527.6,884.0 1528.7,884.0 1529.8,884.0 C1530.9,884.0 1532.0,884.0 1533.1,884.0 C1534.2,884.0 1535.3,884.0 1536.4,884.0 C1537.5,884.0 1538.6,884.0 1539.6,884.0 C1540.7,884.0 1541.8,884.0 1542.9,884.0 C1544.0,884.0 1545.1,884.0 1546.2,884.0 C1547.3,884.0 1548.4,884.0 1549.5,884.0 C1550.6,884.0 1551.7,884.0 1552.8,884.0 C1553.9,884.0 1555.0,884.0 1556.1,884.0 C1557.1,884.0 1558.2,884.0 1559.3,884.0 C1560.4,884.0 1561.5,884.0 1562.6,884.0 C1563.7,884.0 1564.8,884.0 1565.9,884.0 C1567.0,884.0 1568.1,884.0 1569.2,884.0 C1570.3,884.0 1571.4,884.0 1572.5,884.0 C1573.6,884.0 1574.6,884.0 1575.7,884.0 C1576.8,884.0 1577.9,884.0 1579.0,884.0 C1580.1,884.0 1581.2,884.0 1582.3,884.0 C1583.4,884.0 1584.5,884.0 1585.6,884.0 C1586.7,884.0 1587.8,884.0 1588.9,884.0 C1590.0,884.0 1591.1,884.0 1592.1,884.0 C1593.2,884.0 1594.3,884.0 1595.4,884.0 C1596.5,884.0 1597.6,884.0 1598.7,884.0 C1599.8,884.0 1600.9,884.0 1602.0,884.0 C1603.1,884.0 1604.2,884.0 1605.3,884.0 C1606.4,884.0 1607.5,884.0 1608.6,884.0 C1609.6,884.0 1610.7,884.0 1611.8,884.0 C1612.9,884.0 1614.0,884.0 1615.1,884.0 C1616.2,884.0 1617.3,884.0 1618.4,884.0 C1619.5,884.0 1620.6,884.0 1621.7,884.0 C1622.8,884.0 1623.9,884.0 1625.0,884.0 C1626.1,884.0 1627.2,884.0 1628.2,884.0 C1629.3,884.0 1630.4,884.0 1631.5,884.0 C1632.6,884.0 1633.7,884.0 1634.8,884.0 C1635.9,884.0 1637.0,884.0 1638.1,884.0 C1639.2,884.0 1640.3,884.0 1641.4,884.0 C1642.5,884.0 1643.6,884.0 1644.7,884.0 C1645.7,884.0 1646.8,884.0 1647.9,884.0 C1649.0,884.0 1650.1,884.0 1651.2,884.0 C1652.3,884.0 1653.4,884.0 1654.5,884.0 C1655.6,884.0 1656.7,884.0 1657.8,884.0 C1658.9,884.0 1660.0,884.0 1661.1,884.0 C1662.2,884.0 1663.2,884.0 1664.3,884.0 C1665.4,884.0 1666.5,884.0 1667.6,884.0 C1668.7,884.0 1669.8,884.0 1670.9,884.0 C1672.0,884.0 1673.1,884.0 1674.2,884.0 C1675.3,884.0 1676.4,884.0 1677.5,884.0 C1678.6,884.0 1679.7,884.0 1680.7,884.0 C1681.8,884.0 1682.9,884.0 1684.0,884.0 C1685.1,884.0 1686.2,884.0 1687.3,884.0 C1688.4,884.0 1689.5,884.0 1690.6,884.0 C1691.7,884.0 1692.8,884.0 1693.9,884.0 C1695.0,884.0 1696.1,884.0 1697.2,884.0 C1698.2,884.0 1699.3,884.0 1700.4,884.0 C1701.5,884.0 1702.6,884.0 1703.7,884.0 C1704.8,884.0 1705.9,884.0 1707.0,884.0" stroke="#cf4420" stroke-width="4.4"/>
<path d="M95.1,1249.2 C95.4,1247.9 95.6,1246.6 95.9,1245.3 C96.2,1244.0 96.5,1242.8 96.8,1241.5 C97.1,1240.2 97.4,1238.9 97.7,1237.6 C98.0,1236.3 98.3,1235.1 98.6,1233.8 C99.0,1232.5 99.3,1231.2 99.7,1230.0 C100.1,1228.7 100.4,1227.5 100.9,1226.3 C101.3,1225.0 101.7,1223.8 102.2,1222.6 C102.6,1221.4 103.1,1220.2 103.6,1219.0 C104.1,1217.8 104.6,1216.6 105.2,1215.5 C105.7,1214.3 106.2,1213.1 106.7,1212.0 C107.3,1210.8 107.8,1209.6 108.4,1208.5 C109.0,1207.4 109.6,1206.2 110.2,1205.2 C110.8,1204.1 111.5,1203.0 112.2,1202.0 C112.9,1201.0 113.6,1200.0 114.4,1199.0 C115.2,1198.1 116.0,1197.2 116.9,1196.4 C117.7,1195.6 118.6,1194.8 119.6,1194.2 C120.5,1193.5 121.5,1192.9 122.6,1192.4 C123.6,1192.0 124.6,1191.6 125.7,1191.4 C126.8,1191.2 127.9,1191.1 129.0,1191.0 C130.1,1190.9 131.2,1191.0 132.3,1191.0 C133.3,1191.1 134.4,1191.2 135.5,1191.3 C136.6,1191.4 137.7,1191.5 138.8,1191.6 C139.9,1191.7 141.0,1191.8 142.1,1191.9 C143.2,1191.9 144.3,1192.0 145.4,1192.1 C146.4,1192.1 147.5,1192.2 148.6,1192.2 C149.7,1192.3 150.8,1192.3 151.9,1192.4 C153.0,1192.4 154.1,1192.4 155.2,1192.5 C156.3,1192.5 157.4,1192.6 158.5,1192.6 C159.6,1192.6 160.7,1192.6 161.7,1192.6 C162.8,1192.7 163.9,1192.7 165.0,1192.7 C166.1,1192.7 167.2,1192.7 168.3,1192.7 C169.4,1192.7 170.5,1192.7 171.6,1192.6 C172.7,1192.6 173.8,1192.6 174.9,1192.5 C176.0,1192.5 177.1,1192.4 178.1,1192.3 C179.2,1192.3 180.3,1192.2 181.4,1192.1 C182.5,1192.0 183.6,1191.8 184.7,1191.7 C185.8,1191.5 186.9,1191.3 187.9,1191.1 C189.0,1190.9 190.1,1190.7 191.2,1190.4 C192.2,1190.1 193.3,1189.8 194.4,1189.5 C195.4,1189.2 196.5,1188.8 197.5,1188.4 C198.6,1188.0 199.6,1187.6 200.6,1187.1 C201.6,1186.7 202.7,1186.2 203.7,1185.6 C204.7,1185.1 205.6,1184.5 206.6,1183.9 C207.6,1183.2 208.5,1182.6 209.5,1181.9 C210.4,1181.2 211.3,1180.5 212.2,1179.7 C213.1,1179.0 214.0,1178.2 214.9,1177.4 C215.8,1176.6 216.7,1175.8 217.5,1175.0 C218.4,1174.1 219.2,1173.3 220.0,1172.4 C220.8,1171.5 221.6,1170.6 222.4,1169.6 C223.1,1168.7 223.9,1167.7 224.6,1166.6 C225.3,1165.6 225.9,1164.5 226.5,1163.5 C227.2,1162.4 227.8,1161.2 228.3,1160.1 C228.9,1159.0 229.4,1157.8 230.0,1156.6 C230.5,1155.5 231.0,1154.3 231.5,1153.1 C232.0,1151.9 232.5,1150.7 233.0,1149.5 C233.5,1148.4 234.0,1147.2 234.5,1146.0 C235.0,1144.8 235.5,1143.6 236.0,1142.4 C236.6,1141.3 237.1,1140.1 237.7,1139.0 C238.3,1137.9 238.9,1136.8 239.6,1135.7 C240.2,1134.7 240.9,1133.6 241.7,1132.7 C242.5,1131.7 243.3,1130.8 244.1,1130.0 C245.0,1129.2 245.9,1128.4 246.9,1127.9 C247.9,1127.3 249.0,1126.9 250.0,1126.7 C251.1,1126.4 252.2,1126.4 253.3,1126.5 C254.4,1126.5 255.5,1126.8 256.5,1127.1 C257.6,1127.4 258.6,1127.9 259.7,1128.4 C260.7,1128.8 261.7,1129.4 262.7,1129.9 C263.7,1130.5 264.7,1131.1 265.6,1131.7 C266.6,1132.3 267.5,1133.0 268.5,1133.6 C269.4,1134.3 270.3,1135.0 271.3,1135.7 C272.2,1136.5 273.1,1137.2 274.0,1137.9 C275.0,1138.6 275.9,1139.3 276.9,1139.9 C277.8,1140.6 278.8,1141.2 279.8,1141.8 C280.8,1142.3 281.8,1142.8 282.8,1143.3 C283.8,1143.8 284.9,1144.2 285.9,1144.5 C287.0,1144.9 288.0,1145.2 289.1,1145.4 C290.2,1145.7 291.3,1145.9 292.4,1145.9 C293.5,1146.0 294.6,1146.1 295.6,1146.0 C296.7,1145.9 297.8,1145.8 298.9,1145.5 C300.0,1145.2 301.0,1144.9 302.1,1144.5 C303.1,1144.0 304.1,1143.5 305.1,1142.9 C306.0,1142.2 307.0,1141.5 307.8,1140.6 C308.6,1139.8 309.4,1138.8 310.1,1137.8 C310.8,1136.8 311.4,1135.7 312.0,1134.6 C312.6,1133.4 313.1,1132.2 313.5,1131.0 C314.0,1129.8 314.4,1128.6 314.8,1127.3 C315.2,1126.1 315.6,1124.8 316.0,1123.6 C316.3,1122.3 316.7,1121.1 317.0,1119.8 C317.3,1118.5 317.6,1117.2 317.9,1115.9 C318.3,1114.7 318.6,1113.4 319.0,1112.1 C319.4,1110.9 319.8,1109.7 320.4,1108.6 C321.0,1107.5 321.7,1106.4 322.6,1105.6 C323.4,1104.8 324.4,1104.2 325.5,1103.8 C326.5,1103.4 327.6,1103.3 328.7,1103.3 C329.8,1103.2 330.9,1103.4 332.0,1103.6 C333.1,1103.8 334.1,1104.2 335.2,1104.5 C336.2,1104.9 337.3,1105.3 338.3,1105.7 C339.3,1106.1 340.4,1106.6 341.4,1106.9 C342.5,1107.3 343.5,1107.7 344.6,1107.9 C345.7,1108.2 346.8,1108.5 347.8,1108.6 C348.9,1108.7 350.0,1108.8 351.1,1108.8 C352.2,1108.7 353.3,1108.6 354.4,1108.3 C355.4,1107.9 356.5,1107.4 357.4,1106.8 C358.4,1106.2 359.3,1105.4 360.1,1104.5 C360.9,1103.6 361.6,1102.6 362.3,1101.6 C363.0,1100.6 363.6,1099.4 364.2,1098.3 C364.8,1097.2 365.3,1096.0 365.9,1094.9 C366.4,1093.7 366.9,1092.5 367.4,1091.3 C367.9,1090.2 368.4,1089.0 368.8,1087.7 C369.3,1086.5 369.7,1085.3 370.2,1084.1 C370.6,1082.9 371.0,1081.6 371.4,1080.4 C371.8,1079.1 372.2,1077.9 372.6,1076.7 C373.1,1075.4 373.5,1074.2 373.9,1073.0 C374.3,1071.7 374.7,1070.5 375.1,1069.3 C375.6,1068.0 376.0,1066.8 376.3,1065.5 C376.7,1064.3 377.1,1063.0 377.4,1061.8 C377.8,1060.5 378.1,1059.2 378.4,1057.9 C378.7,1056.7 379.0,1055.4 379.3,1054.1 C379.6,1052.8 379.9,1051.5 380.1,1050.2 C380.4,1048.9 380.7,1047.6 381.0,1046.3 C381.2,1045.1 381.5,1043.8 381.8,1042.5 C382.1,1041.2 382.3,1039.9 382.6,1038.6 C382.9,1037.3 383.2,1036.0 383.4,1034.7 C383.7,1033.4 384.0,1032.1 384.2,1030.8 C384.5,1029.5 384.8,1028.3 385.0,1027.0 C385.3,1025.7 385.6,1024.4 385.8,1023.1 C386.1,1021.8 386.4,1020.5 386.6,1019.2 C386.9,1017.9 387.2,1016.6 387.4,1015.3 C387.7,1014.0 387.9,1012.7 388.2,1011.4 C388.5,1010.1 388.8,1008.8 389.0,1007.5 C389.3,1006.3 389.6,1005.0 389.8,1003.7 C390.1,1002.4 390.4,1001.1 390.7,999.8 C391.0,998.5 391.2,997.2 391.5,995.9 C391.8,994.6 392.1,993.4 392.3,992.1 C392.6,990.8 392.9,989.5 393.2,988.2 C393.4,986.9 393.7,985.6 394.0,984.3 C394.2,983.0 394.5,981.7 394.8,980.4 C395.0,979.1 395.3,977.8 395.6,976.5 C395.9,975.3 396.2,974.0 396.4,972.7 C396.7,971.4 397.0,970.1 397.3,968.8 C397.6,967.5 398.0,966.3 398.3,965.0 C398.6,963.7 398.9,962.4 399.3,961.2 C399.6,959.9 399.9,958.6 400.3,957.4 C400.7,956.1 401.0,954.9 401.4,953.6 C401.8,952.4 402.2,951.1 402.5,949.9 C402.9,948.6 403.3,947.4 403.8,946.1 C404.2,944.9 404.6,943.7 405.0,942.4 C405.5,941.2 405.9,940.0 406.4,938.8 C406.8,937.6 407.3,936.4 407.8,935.2 C408.3,934.0 408.8,932.8 409.4,931.7 C409.9,930.5 410.5,929.4 411.2,928.3 C411.8,927.2 412.4,926.2 413.2,925.2 C413.9,924.1 414.6,923.1 415.4,922.2 C416.2,921.3 417.0,920.4 417.9,919.7 C418.8,919.0 419.8,918.3 420.8,917.8 C421.8,917.4 422.9,917.0 424.0,916.9 C425.1,916.7 426.2,916.8 427.3,917.0 C428.3,917.2 429.4,917.6 430.4,918.1 C431.4,918.6 432.4,919.3 433.3,920.0 C434.2,920.8 435.0,921.7 435.7,922.7 C436.5,923.6 437.1,924.7 437.7,925.8 C438.3,926.9 438.8,928.1 439.3,929.3 C439.8,930.5 440.2,931.8 440.6,933.0 C441.0,934.3 441.4,935.5 441.7,936.8 C442.1,938.0 442.4,939.3 442.8,940.6 C443.1,941.8 443.4,943.1 443.8,944.4 C444.1,945.7 444.4,946.9 444.7,948.2 C445.0,949.5 445.2,950.8 445.5,952.1 C445.8,953.4 446.0,954.7 446.3,956.0 C446.5,957.3 446.8,958.6 447.0,959.9 C447.2,961.2 447.4,962.5 447.6,963.8 C447.9,965.1 448.1,966.4 448.3,967.7 C448.5,969.1 448.7,970.4 448.8,971.7 C449.0,973.0 449.2,974.3 449.4,975.6 C449.6,977.0 449.7,978.3 449.9,979.6 C450.0,980.9 450.2,982.2 450.3,983.6 C450.5,984.9 450.6,986.2 450.8,987.5 C450.9,988.9 451.0,990.2 451.1,991.5 C451.2,992.8 451.3,994.2 451.4,995.5 C451.5,996.8 451.6,998.1 451.7,999.5 C451.7,1000.8 451.8,1002.1 451.9,1003.5 C451.9,1004.8 452.0,1006.1 452.0,1007.5 C452.1,1008.8 452.2,1010.1 452.2,1011.5 C452.2,1012.8 452.3,1014.1 452.3,1015.5 C452.4,1016.8 452.4,1018.1 452.5,1019.5 C452.5,1020.8 452.6,1022.1 452.6,1023.5 C452.7,1024.8 452.7,1026.1 452.8,1027.5 C452.8,1028.8 452.9,1030.1 452.9,1031.5 C453.0,1032.8 453.0,1034.1 453.1,1035.5 C453.1,1036.8 453.2,1038.1 453.2,1039.5 C453.3,1040.8 453.4,1042.1 453.4,1043.5 C453.5,1044.8 453.5,1046.1 453.6,1047.5 C453.6,1048.8 453.7,1050.1 453.7,1051.5 C453.8,1052.8 453.8,1054.1 453.9,1055.5 C453.9,1056.8 454.0,1058.1 454.1,1059.4 C454.1,1060.8 454.2,1062.1 454.2,1063.4 C454.3,1064.8 454.3,1066.1 454.4,1067.4 C454.4,1068.8 454.5,1070.1 454.5,1071.4 C454.6,1072.8 454.6,1074.1 454.7,1075.4 C454.7,1076.8 454.8,1078.1 454.8,1079.4 C454.9,1080.8 454.9,1082.1 455.0,1083.4 C455.0,1084.8 455.1,1086.1 455.1,1087.4 C455.2,1088.8 455.2,1090.1 455.3,1091.4 C455.4,1092.8 455.4,1094.1 455.5,1095.4 C455.5,1096.8 455.6,1098.1 455.6,1099.4 C455.7,1100.8 455.7,1102.1 455.8,1103.4 C455.8,1104.8 455.9,1106.1 455.9,1107.4 C456.0,1108.8 456.0,1110.1 456.1,1111.4 C456.1,1112.8 456.2,1114.1 456.2,1115.4 C456.3,1116.8 456.3,1118.1 456.4,1119.4 C456.4,1120.8 456.5,1122.1 456.5,1123.4 C456.6,1124.8 456.6,1126.1 456.7,1127.4 C456.7,1128.8 456.8,1130.1 456.8,1131.4 C456.8,1132.7 456.9,1134.1 456.9,1135.4 C457.0,1136.7 457.0,1138.1 457.1,1139.4 C457.1,1140.7 457.2,1142.1 457.2,1143.4 C457.2,1144.7 457.3,1146.1 457.3,1147.4 C457.4,1148.7 457.4,1150.1 457.5,1151.4 C457.5,1152.7 457.6,1154.1 457.6,1155.4 C457.7,1156.7 457.7,1158.1 457.8,1159.4 C457.8,1160.7 457.9,1162.1 457.9,1163.4 C458.0,1164.7 458.0,1166.1 458.1,1167.4 C458.2,1168.7 458.2,1170.1 458.3,1171.4 C458.4,1172.7 458.4,1174.1 458.5,1175.4 C458.6,1176.7 458.7,1178.1 458.7,1179.4 C458.8,1180.7 458.9,1182.1 459.0,1183.4 C459.0,1184.7 459.1,1186.0 459.2,1187.4 C459.3,1188.7 459.4,1190.0 459.5,1191.4 C459.6,1192.7 459.6,1194.0 459.7,1195.4 C459.8,1196.7 459.9,1198.0 460.0,1199.3 C460.1,1200.7 460.2,1202.0 460.3,1203.3 C460.4,1204.7 460.5,1206.0 460.6,1207.3 C460.7,1208.6 460.8,1210.0 460.9,1211.3 C461.0,1212.6 461.1,1214.0 461.2,1215.3 C461.3,1216.6 461.4,1217.9 461.6,1219.3 C461.7,1220.6 461.8,1221.9 461.9,1223.2 C462.0,1224.6 462.2,1225.9 462.3,1227.2 C462.4,1228.5 462.6,1229.9 462.7,1231.2 C462.8,1232.5 463.0,1233.8 463.1,1235.2 C463.3,1236.5 463.4,1237.8 463.6,1239.1 C463.7,1240.4 463.9,1241.8 464.0,1243.1 C464.2,1244.4 464.4,1245.7 464.5,1247.0 C464.7,1248.4 464.9,1249.7 465.1,1251.0 C465.3,1252.3 465.5,1253.6 465.6,1254.9 C465.8,1256.2 466.0,1257.6 466.3,1258.9 C466.5,1260.2 466.7,1261.5 466.9,1262.8 C467.1,1264.1 467.3,1265.4 467.6,1266.7 C467.8,1268.0 468.0,1269.3 468.3,1270.6 C468.5,1271.9 468.8,1273.2 469.0,1274.5 C469.3,1275.8 469.5,1277.1 469.8,1278.4 C470.1,1279.7 470.4,1281.0 470.7,1282.2 C471.0,1283.5 471.4,1284.8 471.7,1286.1 C472.1,1287.3 472.4,1288.6 472.8,1289.8 C473.2,1291.1 473.6,1292.3 474.0,1293.5 C474.5,1294.8 474.9,1296.0 475.4,1297.2 C475.9,1298.4 476.4,1299.6 476.9,1300.7 C477.4,1301.9 478.0,1303.0 478.6,1304.2 C479.2,1305.3 479.9,1306.4 480.5,1307.4 C481.2,1308.5 481.9,1309.5 482.6,1310.5 C483.3,1311.5 484.1,1312.5 484.9,1313.4 C485.7,1314.3 486.5,1315.2 487.4,1316.0 C488.2,1316.8 489.2,1317.5 490.1,1318.2 C491.1,1318.8 492.1,1319.3 493.1,1319.7 C494.2,1320.1 495.3,1320.3 496.4,1320.4 C497.5,1320.4 498.6,1320.3 499.6,1320.0 C500.7,1319.7 501.7,1319.1 502.7,1318.5 C503.6,1317.9 504.5,1317.1 505.4,1316.2 C506.2,1315.4 506.9,1314.4 507.7,1313.4 C508.4,1312.4 509.1,1311.3 509.7,1310.3 C510.3,1309.2 510.9,1308.0 511.5,1306.9 C512.1,1305.8 512.6,1304.6 513.1,1303.5 C513.7,1302.3 514.2,1301.1 514.6,1299.9 C515.1,1298.7 515.5,1297.4 516.0,1296.2 C516.4,1295.0 516.8,1293.8 517.2,1292.5 C517.6,1291.3 518.0,1290.1 518.4,1288.8 C518.8,1287.6 519.2,1286.3 519.6,1285.1 C520.0,1283.8 520.4,1282.6 520.8,1281.3 C521.1,1280.1 521.5,1278.8 521.9,1277.6 C522.2,1276.3 522.6,1275.0 522.9,1273.8 C523.2,1272.5 523.5,1271.2 523.8,1269.9 C524.2,1268.6 524.5,1267.4 524.8,1266.1 C525.0,1264.8 525.3,1263.5 525.6,1262.2 C525.9,1260.9 526.2,1259.6 526.4,1258.3 C526.7,1257.0 527.0,1255.8 527.2,1254.5 C527.5,1253.2 527.8,1251.9 528.0,1250.6 C528.3,1249.3 528.6,1248.0 528.8,1246.7 C529.1,1245.4 529.3,1244.1 529.6,1242.8 C529.8,1241.5 530.1,1240.2 530.3,1238.9 C530.6,1237.6 530.8,1236.3 531.1,1235.0 C531.3,1233.7 531.6,1232.4 531.8,1231.1 C532.1,1229.8 532.3,1228.5 532.5,1227.2 C532.8,1225.9 533.0,1224.6 533.2,1223.3 C533.4,1222.0 533.7,1220.7 533.9,1219.4 C534.1,1218.1 534.3,1216.7 534.5,1215.4 C534.7,1214.1 534.9,1212.8 535.1,1211.5 C535.3,1210.2 535.5,1208.9 535.7,1207.6 C535.9,1206.3 536.1,1204.9 536.3,1203.6 C536.5,1202.3 536.7,1201.0 536.9,1199.7 C537.1,1198.4 537.3,1197.1 537.5,1195.7 C537.7,1194.4 537.8,1193.1 538.0,1191.8 C538.2,1190.5 538.4,1189.2 538.6,1187.9 C538.8,1186.6 539.0,1185.2 539.2,1183.9 C539.4,1182.6 539.6,1181.3 539.8,1180.0 C540.0,1178.7 540.2,1177.4 540.4,1176.1 C540.6,1174.7 540.8,1173.4 541.0,1172.1 C541.2,1170.8 541.4,1169.5 541.6,1168.2 C541.8,1166.9 542.0,1165.6 542.2,1164.3 C542.4,1162.9 542.6,1161.6 542.8,1160.3 C543.0,1159.0 543.2,1157.7 543.4,1156.4 C543.7,1155.1 543.9,1153.8 544.1,1152.5 C544.3,1151.2 544.5,1149.9 544.8,1148.5 C545.0,1147.2 545.2,1145.9 545.4,1144.6 C545.7,1143.3 545.9,1142.0 546.1,1140.7 C546.3,1139.4 546.6,1138.1 546.8,1136.8 C547.0,1135.5 547.3,1134.2 547.5,1132.9 C547.7,1131.6 547.9,1130.3 548.2,1129.0 C548.4,1127.7 548.6,1126.4 548.8,1125.1 C549.0,1123.7 549.3,1122.4 549.5,1121.1 C549.7,1119.8 549.9,1118.5 550.1,1117.2 C550.3,1115.9 550.5,1114.6 550.7,1113.3 C550.9,1112.0 551.1,1110.6 551.3,1109.3 C551.5,1108.0 551.7,1106.7 551.9,1105.4 C552.1,1104.1 552.3,1102.8 552.5,1101.5 C552.8,1100.2 553.0,1098.9 553.2,1097.6 C553.4,1096.2 553.7,1094.9 553.9,1093.6 C554.2,1092.3 554.4,1091.0 554.7,1089.8 C554.9,1088.5 555.2,1087.2 555.5,1085.9 C555.7,1084.6 556.0,1083.3 556.3,1082.0 C556.5,1080.7 556.8,1079.4 557.0,1078.1 C557.3,1076.8 557.5,1075.5 557.8,1074.2 C558.0,1072.9 558.2,1071.6 558.5,1070.3 C558.7,1069.0 558.9,1067.7 559.1,1066.4 C559.4,1065.1 559.6,1063.7 559.8,1062.4 C560.0,1061.1 560.2,1059.8 560.4,1058.5 C560.6,1057.2 560.8,1055.9 561.1,1054.6 C561.3,1053.3 561.5,1052.0 561.7,1050.7 C561.9,1049.4 562.2,1048.1 562.4,1046.8 C562.7,1045.5 562.9,1044.2 563.2,1042.9 C563.4,1041.6 563.7,1040.3 564.0,1039.0 C564.2,1037.7 564.5,1036.4 564.8,1035.1 C565.1,1033.8 565.4,1032.5 565.6,1031.2 C565.9,1029.9 566.2,1028.7 566.5,1027.4 C566.8,1026.1 567.0,1024.8 567.3,1023.5 C567.6,1022.2 567.9,1020.9 568.2,1019.6 C568.5,1018.3 568.8,1017.1 569.1,1015.8 C569.4,1014.5 569.7,1013.2 570.0,1012.0 C570.4,1010.7 570.7,1009.4 571.1,1008.1 C571.4,1006.9 571.8,1005.6 572.1,1004.4 C572.5,1003.1 572.8,1001.8 573.2,1000.6 C573.6,999.3 574.0,998.1 574.4,996.9 C574.8,995.6 575.2,994.4 575.6,993.2 C576.1,991.9 576.6,990.7 577.1,989.6 C577.6,988.4 578.2,987.2 578.8,986.2 C579.5,985.1 580.2,984.1 581.1,983.3 C581.9,982.5 582.9,981.7 583.9,981.4 C584.9,981.1 586.2,981.1 587.2,981.4 C588.2,981.8 589.1,982.6 589.9,983.5 C590.7,984.4 591.4,985.5 592.0,986.6 C592.6,987.7 593.0,989.0 593.5,990.2 C593.9,991.4 594.3,992.6 594.7,993.9 C595.1,995.1 595.5,996.4 595.8,997.6 C596.2,998.9 596.5,1000.2 596.9,1001.4 C597.2,1002.7 597.5,1004.0 597.9,1005.2 C598.2,1006.5 598.5,1007.8 598.8,1009.1 C599.1,1010.4 599.4,1011.6 599.7,1012.9 C600.0,1014.2 600.3,1015.5 600.6,1016.8 C600.9,1018.1 601.2,1019.3 601.5,1020.6 C601.7,1021.9 602.0,1023.2 602.3,1024.5 C602.5,1025.8 602.7,1027.1 602.9,1028.4 C603.1,1029.8 603.3,1031.1 603.5,1032.4 C603.7,1033.7 603.8,1035.0 604.0,1036.3 C604.1,1037.7 604.2,1039.0 604.4,1040.3 C604.5,1041.6 604.6,1043.0 604.8,1044.3 C604.9,1045.6 605.0,1046.9 605.1,1048.3 C605.3,1049.6 605.4,1050.9 605.6,1052.2 C605.7,1053.6 605.9,1054.9 606.0,1056.2 C606.2,1057.5 606.4,1058.8 606.5,1060.2 C606.7,1061.5 606.9,1062.8 607.1,1064.1 C607.3,1065.4 607.5,1066.7 607.7,1068.0 C607.9,1069.3 608.1,1070.6 608.3,1072.0 C608.5,1073.3 608.7,1074.6 608.9,1075.9 C609.0,1077.2 609.2,1078.5 609.3,1079.9 C609.5,1081.2 609.6,1082.5 609.7,1083.8 C609.9,1085.2 610.0,1086.5 610.2,1087.8 C610.3,1089.1 610.4,1090.5 610.6,1091.8 C610.7,1093.1 610.9,1094.4 611.0,1095.7 C611.2,1097.1 611.3,1098.4 611.5,1099.7 C611.6,1101.0 611.7,1102.4 611.9,1103.7 C612.0,1105.0 612.1,1106.3 612.2,1107.7 C612.3,1109.0 612.4,1110.3 612.5,1111.7 C612.6,1113.0 612.7,1114.3 612.8,1115.6 C612.9,1117.0 613.0,1118.3 613.1,1119.6 C613.2,1121.0 613.3,1122.3 613.4,1123.6 C613.5,1124.9 613.6,1126.3 613.7,1127.6 C613.8,1128.9 613.9,1130.3 614.0,1131.6 C614.1,1132.9 614.2,1134.2 614.4,1135.6 C614.5,1136.9 614.6,1138.2 614.7,1139.5 C614.8,1140.9 614.9,1142.2 615.0,1143.5 C615.1,1144.9 615.3,1146.2 615.4,1147.5 C615.5,1148.8 615.6,1150.2 615.7,1151.5 C615.8,1152.8 615.9,1154.1 616.0,1155.5 C616.1,1156.8 616.3,1158.1 616.4,1159.5 C616.5,1160.8 616.6,1162.1 616.7,1163.4 C616.8,1164.8 616.9,1166.1 617.0,1167.4 C617.1,1168.7 617.2,1170.1 617.3,1171.4 C617.4,1172.7 617.6,1174.1 617.7,1175.4 C617.8,1176.7 617.9,1178.0 618.0,1179.4 C618.1,1180.7 618.2,1182.0 618.3,1183.4 C618.4,1184.7 618.5,1186.0 618.6,1187.3 C618.7,1188.7 618.8,1190.0 619.0,1191.3 C619.1,1192.6 619.2,1194.0 619.3,1195.3 C619.4,1196.6 619.5,1198.0 619.6,1199.3 C619.7,1200.6 619.8,1201.9 619.9,1203.3 C620.0,1204.6 620.1,1205.9 620.3,1207.2 C620.4,1208.6 620.5,1209.9 620.6,1211.2 C620.7,1212.6 620.8,1213.9 620.9,1215.2 C621.0,1216.5 621.1,1217.9 621.2,1219.2 C621.3,1220.5 621.4,1221.9 621.6,1223.2 C621.7,1224.5 621.8,1225.8 621.9,1227.2 C622.0,1228.5 622.1,1229.8 622.2,1231.1 C622.3,1232.5 622.4,1233.8 622.5,1235.1 C622.6,1236.5 622.7,1237.8 622.8,1239.1 C623.0,1240.4 623.1,1241.8 623.2,1243.1 C623.3,1244.4 623.4,1245.8 623.5,1247.1 C623.6,1248.4 623.7,1249.7 623.8,1251.1 C623.9,1252.4 624.0,1253.7 624.1,1255.0 C624.3,1256.4 624.4,1257.7 624.5,1259.0 C624.6,1260.4 624.7,1261.7 624.8,1263.0 C624.9,1264.3 625.0,1265.7 625.1,1267.0 C625.2,1268.3 625.3,1269.6 625.4,1271.0 C625.6,1272.3 625.7,1273.6 625.8,1275.0 C625.9,1276.3 626.0,1277.6 626.1,1278.9 C626.2,1280.3 626.3,1281.6 626.4,1282.9 C626.5,1284.3 626.6,1285.6 626.7,1286.9 C626.9,1288.2 627.0,1289.6 627.1,1290.9 C627.2,1292.2 627.3,1293.5 627.4,1294.9 C627.5,1296.2 627.6,1297.5 627.7,1298.9 C627.8,1300.2 627.9,1301.5 628.0,1302.8 C628.2,1304.2 628.3,1305.5 628.4,1306.8 C628.5,1308.1 628.6,1309.5 628.7,1310.8 C628.8,1312.1 628.9,1313.5 629.0,1314.8 C629.1,1316.1 629.2,1317.4 629.4,1318.8 C629.5,1320.1 629.6,1321.4 629.7,1322.8 C629.8,1324.1 629.9,1325.4 630.0,1326.7 C630.1,1328.1 630.2,1329.4 630.3,1330.7 C630.5,1332.0 630.6,1333.4 630.7,1334.7 C630.8,1336.0 630.9,1337.4 631.0,1338.7 C631.1,1340.0 631.2,1341.3 631.3,1342.7 C631.4,1344.0 631.6,1345.3 631.7,1346.6 C631.8,1348.0 631.9,1349.3 632.0,1350.6 C632.1,1352.0 632.2,1353.3 632.3,1354.6 C632.4,1355.9 632.6,1357.3 632.7,1358.6 C632.8,1359.9 632.9,1361.2 633.0,1362.6 C633.1,1363.9 633.2,1365.2 633.4,1366.6 C633.5,1367.9 633.6,1369.2 633.7,1370.5 C633.8,1371.9 633.9,1373.2 634.0,1374.5 C634.1,1375.8 634.3,1377.2 634.4,1378.5 C634.5,1379.8 634.6,1381.1 634.7,1382.5 C634.8,1383.8 634.9,1385.1 635.0,1386.5 C635.1,1387.8 635.3,1389.1 635.4,1390.4 C635.5,1391.8 635.6,1393.1 635.7,1394.4 C635.8,1395.8 635.9,1397.1 636.0,1398.4 C636.1,1399.7 636.2,1401.1 636.3,1402.4 C636.4,1403.7 636.5,1405.1 636.6,1406.4 C636.7,1407.7 636.8,1409.0 637.0,1410.4 C637.1,1411.7 637.2,1413.0 637.3,1414.3 C637.5,1415.7 637.6,1417.0 637.7,1418.3 C637.9,1419.6 638.0,1421.0 638.1,1422.3 C638.3,1423.6 638.4,1424.9 638.6,1426.2 C638.7,1427.6 638.9,1428.9 639.0,1430.2 C639.2,1431.5 639.3,1432.9 639.5,1434.2 C639.6,1435.5 639.8,1436.8 640.0,1438.1 C640.1,1439.5 640.3,1440.8 640.5,1442.1 C640.6,1443.4 640.8,1444.7 640.9,1446.1 C641.1,1447.4 641.3,1448.7 641.5,1450.0 C641.6,1451.3 641.8,1452.6 642.0,1454.0 C642.1,1455.3 642.3,1456.6 642.5,1457.9 C642.7,1459.2 642.9,1460.5 643.0,1461.9 C643.2,1463.2 643.4,1464.5 643.6,1465.8 C643.8,1467.1 644.0,1468.4 644.1,1469.7 C644.3,1471.1 644.5,1472.4 644.7,1473.7 C644.9,1475.0 645.1,1476.3 645.2,1477.6 C645.4,1479.0 645.6,1480.3 645.8,1481.6 C646.0,1482.9 646.2,1484.2 646.3,1485.5 C646.5,1486.8 646.7,1488.2 646.9,1489.5 C647.1,1490.8 647.3,1492.1 647.5,1493.4 C647.6,1494.7 647.8,1496.0 648.0,1497.4 C648.2,1498.7 648.4,1500.0 648.6,1501.3 C648.8,1502.6 649.0,1503.9 649.2,1505.2 C649.4,1506.6 649.6,1507.9 649.8,1509.2 C650.0,1510.5 650.2,1511.8 650.4,1513.1 C650.7,1514.4 650.9,1515.7 651.1,1517.0 C651.3,1518.3 651.6,1519.6 651.8,1520.9 C652.1,1522.2 652.3,1523.5 652.6,1524.8 C652.8,1526.1 653.1,1527.4 653.4,1528.7 C653.6,1530.0 653.9,1531.3 654.2,1532.6 C654.4,1533.9 654.7,1535.2 655.0,1536.5 C655.2,1537.8 655.5,1539.1 655.7,1540.4 C656.0,1541.7 656.2,1543.0 656.4,1544.3 C656.7,1545.6 656.9,1546.9 657.1,1548.2 C657.3,1549.5 657.5,1550.8 657.7,1552.1 C657.9,1553.4 658.2,1554.7 658.4,1556.0 C658.6,1557.4 658.8,1558.7 659.0,1560.0 C659.3,1561.3 659.5,1562.6 659.7,1563.9 C660.0,1565.2 660.3,1566.5 660.5,1567.8 C660.8,1569.0 661.1,1570.3 661.4,1571.6 C661.7,1572.9 662.0,1574.2 662.3,1575.5 C662.6,1576.7 663.0,1578.0 663.3,1579.3 C663.7,1580.5 664.0,1581.8 664.4,1583.1 C664.7,1584.3 665.1,1585.6 665.5,1586.8 C665.9,1588.1 666.3,1589.3 666.7,1590.6 C667.1,1591.8 667.5,1593.0 667.9,1594.3 C668.3,1595.5 668.8,1596.7 669.2,1597.9 C669.7,1599.1 670.1,1600.4 670.6,1601.6 C671.1,1602.8 671.5,1604.0 672.0,1605.2 C672.5,1606.4 673.0,1607.6 673.5,1608.7 C674.1,1609.9 674.6,1611.1 675.1,1612.2 C675.7,1613.4 676.3,1614.5 676.9,1615.6 C677.5,1616.7 678.1,1617.8 678.8,1618.9 C679.4,1619.9 680.1,1621.0 680.8,1622.0 C681.5,1623.0 682.3,1624.0 683.1,1624.9 C683.8,1625.9 684.6,1626.8 685.5,1627.6 C686.4,1628.4 687.3,1629.2 688.2,1629.9 C689.1,1630.6 690.1,1631.2 691.1,1631.7 C692.1,1632.3 693.1,1632.7 694.2,1633.0 C695.3,1633.3 696.4,1633.6 697.4,1633.6 C698.5,1633.6 699.6,1633.5 700.7,1633.3 C701.8,1633.0 702.8,1632.6 703.8,1632.1 C704.8,1631.6 705.8,1630.9 706.7,1630.2 C707.7,1629.5 708.6,1628.7 709.4,1627.9 C710.2,1627.0 711.0,1626.1 711.8,1625.2 C712.6,1624.2 713.3,1623.2 714.0,1622.2 C714.7,1621.2 715.4,1620.1 716.0,1619.0 C716.7,1618.0 717.3,1616.9 717.9,1615.8 C718.6,1614.7 719.2,1613.6 719.8,1612.5 C720.4,1611.4 721.0,1610.2 721.5,1609.1 C722.1,1608.0 722.7,1606.8 723.3,1605.7 C723.8,1604.5 724.4,1603.4 724.9,1602.2 C725.5,1601.1 726.0,1600.0 726.6,1598.8 C727.2,1597.7 727.7,1596.5 728.3,1595.4 C728.8,1594.2 729.4,1593.1 730.0,1591.9 C730.5,1590.8 731.1,1589.6 731.6,1588.5 C732.2,1587.3 732.7,1586.2 733.3,1585.0 C733.8,1583.9 734.4,1582.7 734.9,1581.5 C735.4,1580.4 736.0,1579.2 736.5,1578.0 C737.0,1576.9 737.6,1575.7 738.1,1574.6 C738.7,1573.4 739.2,1572.3 739.8,1571.1 C740.4,1570.0 740.9,1568.8 741.5,1567.7 C742.1,1566.6 742.7,1565.5 743.4,1564.4 C744.0,1563.4 744.7,1562.3 745.4,1561.3 C746.2,1560.3 746.9,1559.3 747.7,1558.4 C748.5,1557.6 749.4,1556.7 750.3,1556.0 C751.3,1555.3 752.2,1554.7 753.2,1554.2 C754.2,1553.7 755.3,1553.2 756.3,1552.9 C757.4,1552.5 758.5,1552.3 759.6,1552.1 C760.6,1552.0 761.8,1551.9 762.8,1551.9 C763.9,1552.0 765.0,1552.1 766.1,1552.3 C767.2,1552.5 768.3,1552.8 769.3,1553.1 C770.4,1553.5 771.4,1553.9 772.4,1554.4 C773.4,1554.9 774.5,1555.4 775.4,1556.0 C776.4,1556.5 777.4,1557.1 778.4,1557.8 C779.3,1558.4 780.3,1559.1 781.2,1559.8 C782.1,1560.5 783.1,1561.2 784.0,1561.9 C784.9,1562.7 785.8,1563.5 786.6,1564.3 C787.5,1565.1 788.4,1565.9 789.2,1566.7 C790.1,1567.6 790.9,1568.4 791.7,1569.3 C792.5,1570.2 793.3,1571.1 794.1,1572.0 C794.9,1573.0 795.7,1573.9 796.5,1574.8 C797.3,1575.8 798.0,1576.7 798.8,1577.7 C799.5,1578.7 800.3,1579.6 801.0,1580.6 C801.8,1581.6 802.5,1582.6 803.3,1583.5 C804.0,1584.5 804.7,1585.5 805.5,1586.5 C806.2,1587.5 806.9,1588.5 807.6,1589.5 C808.4,1590.5 809.1,1591.5 809.8,1592.5 C810.5,1593.5 811.2,1594.6 811.9,1595.6 C812.6,1596.6 813.3,1597.7 814.0,1598.7 C814.7,1599.7 815.3,1600.8 816.0,1601.8 C816.7,1602.9 817.4,1603.9 818.1,1604.9 C818.8,1606.0 819.5,1607.0 820.2,1608.0 C820.9,1609.1 821.6,1610.1 822.3,1611.1 C823.0,1612.1 823.7,1613.1 824.4,1614.1 C825.1,1615.2 825.8,1616.2 826.6,1617.1 C827.3,1618.1 828.0,1619.1 828.8,1620.1 C829.5,1621.1 830.3,1622.1 831.0,1623.0 C831.8,1624.0 832.5,1624.9 833.3,1625.9 C834.1,1626.9 834.8,1627.8 835.6,1628.7 C836.4,1629.7 837.1,1630.6 837.9,1631.6 C838.7,1632.6 839.4,1633.5 840.2,1634.5 C840.9,1635.4 841.7,1636.4 842.4,1637.4 C843.2,1638.4 843.9,1639.4 844.6,1640.4 C845.4,1641.4 846.1,1642.4 846.8,1643.4 C847.5,1644.4 848.3,1645.3 849.0,1646.3 C849.7,1647.3 850.5,1648.3 851.2,1649.3 C852.0,1650.2 852.7,1651.2 853.5,1652.2 C854.3,1653.1 855.0,1654.1 855.8,1655.0 C856.6,1655.9 857.4,1656.9 858.2,1657.8 C859.0,1658.7 859.8,1659.6 860.6,1660.4 C861.5,1661.3 862.3,1662.1 863.2,1663.0 C864.0,1663.8 864.9,1664.6 865.8,1665.4 C866.6,1666.2 867.5,1667.0 868.4,1667.9 C869.2,1668.7 870.1,1669.5 870.9,1670.4 C871.8,1671.2 872.6,1672.1 873.4,1673.0 C874.3,1673.8 875.1,1674.7 875.9,1675.6 C876.7,1676.4 877.6,1677.3 878.4,1678.1 C879.3,1679.0 880.1,1679.8 881.0,1680.6 C881.9,1681.4 882.8,1682.2 883.7,1682.9 C884.6,1683.7 885.5,1684.4 886.4,1685.1 C887.3,1685.9 888.3,1686.6 889.2,1687.3 C890.1,1688.0 891.0,1688.7 892.0,1689.4 C892.9,1690.1 893.8,1690.8 894.8,1691.5 C895.7,1692.2 896.6,1692.9 897.6,1693.6 C898.5,1694.3 899.4,1695.0 900.4,1695.6 C901.3,1696.3 902.3,1697.0 903.2,1697.7 C904.2,1698.3 905.1,1699.0 906.1,1699.6 C907.0,1700.3 908.0,1700.9 908.9,1701.6 C909.9,1702.2 910.9,1702.9 911.8,1703.5 C912.8,1704.1 913.8,1704.7 914.7,1705.4 C915.7,1706.0 916.7,1706.6 917.7,1707.2 C918.6,1707.7 919.6,1708.3 920.6,1708.9 C921.6,1709.5 922.6,1710.0 923.6,1710.6 C924.6,1711.1 925.6,1711.6 926.6,1712.2 C927.6,1712.7 928.6,1713.2 929.6,1713.7 C930.6,1714.2 931.7,1714.7 932.7,1715.2 C933.7,1715.6 934.7,1716.1 935.8,1716.6 C936.8,1717.0 937.8,1717.5 938.8,1717.9 C939.9,1718.3 940.9,1718.8 942.0,1719.2 C943.0,1719.6 944.0,1720.0 945.1,1720.4 C946.1,1720.8 947.2,1721.2 948.2,1721.6 C949.2,1722.0 950.3,1722.4 951.3,1722.8 C952.4,1723.2 953.4,1723.6 954.5,1724.0 C955.5,1724.4 956.6,1724.8 957.6,1725.1 C958.7,1725.5 959.7,1725.9 960.8,1726.2 C961.8,1726.6 962.9,1726.9 963.9,1727.3 C965.0,1727.7 966.0,1728.0 967.1,1728.3 C968.2,1728.7 969.2,1729.0 970.3,1729.3 C971.3,1729.7 972.4,1730.0 973.5,1730.3 C974.5,1730.6 975.6,1730.9 976.7,1731.2 C977.7,1731.5 978.8,1731.8 979.9,1732.1 C980.9,1732.3 982.0,1732.6 983.1,1732.8 C984.2,1733.1 985.2,1733.3 986.3,1733.6 C987.4,1733.8 988.5,1734.1 989.5,1734.3 C990.6,1734.5 991.7,1734.8 992.8,1735.0 C993.8,1735.2 994.9,1735.5 996.0,1735.7 C997.1,1736.0 998.1,1736.2 999.2,1736.5 C1000.3,1736.8 1001.3,1737.1 1002.4,1737.3 C1003.5,1737.6 1004.6,1737.9 1005.6,1738.1 C1006.7,1738.4 1007.8,1738.7 1008.8,1738.9 C1009.9,1739.2 1011.0,1739.4 1012.1,1739.7 C1013.1,1739.9 1014.2,1740.2 1015.3,1740.4 C1016.4,1740.6 1017.5,1740.8 1018.5,1741.0 C1019.6,1741.2 1020.7,1741.4 1021.8,1741.6 C1022.9,1741.8 1023.9,1742.0 1025.0,1742.2 C1026.1,1742.3 1027.2,1742.5 1028.3,1742.6 C1029.4,1742.8 1030.5,1742.9 1031.6,1743.0 C1032.6,1743.2 1033.7,1743.3 1034.8,1743.4 C1035.9,1743.5 1037.0,1743.6 1038.1,1743.7 C1039.2,1743.8 1040.3,1743.8 1041.4,1743.9 C1042.5,1744.0 1043.6,1744.1 1044.6,1744.1 C1045.7,1744.2 1046.8,1744.3 1047.9,1744.4 C1049.0,1744.4 1050.1,1744.5 1051.2,1744.5 C1052.3,1744.6 1053.4,1744.7 1054.5,1744.7 C1055.6,1744.8 1056.7,1744.8 1057.8,1744.9 C1058.8,1744.9 1059.9,1744.9 1061.0,1745.0 C1062.1,1745.0 1063.2,1745.1 1064.3,1745.1 C1065.4,1745.1 1066.5,1745.2 1067.6,1745.2 C1068.7,1745.2 1069.8,1745.3 1070.9,1745.3 C1072.0,1745.3 1073.1,1745.3 1074.2,1745.4 C1075.2,1745.4 1076.3,1745.4 1077.4,1745.5 C1078.5,1745.5 1079.6,1745.5 1080.7,1745.5 C1081.8,1745.6 1082.9,1745.6 1084.0,1745.6 C1085.1,1745.7 1086.2,1745.7 1087.3,1745.7 C1088.4,1745.8 1089.5,1745.8 1090.6,1745.8 C1091.6,1745.8 1092.7,1745.9 1093.8,1745.9 C1094.9,1745.9 1096.0,1746.0 1097.1,1746.0 C1098.2,1746.0 1099.3,1746.1 1100.4,1746.1 C1101.5,1746.1 1102.6,1746.2 1103.7,1746.2 C1104.8,1746.2 1105.9,1746.3 1107.0,1746.3 C1108.0,1746.3 1109.1,1746.3 1110.2,1746.4 C1111.3,1746.4 1112.4,1746.4 1113.5,1746.4 C1114.6,1746.5 1115.7,1746.5 1116.8,1746.5 C1117.9,1746.5 1119.0,1746.6 1120.1,1746.6 C1121.2,1746.6 1122.3,1746.6 1123.4,1746.7 C1124.4,1746.7 1125.5,1746.7 1126.6,1746.7 C1127.7,1746.7 1128.8,1746.8 1129.9,1746.8 C1131.0,1746.8 1132.1,1746.8 1133.2,1746.8 C1134.3,1746.8 1135.4,1746.9 1136.5,1746.9 C1137.6,1746.9 1138.7,1746.9 1139.8,1746.9 C1140.9,1746.9 1141.9,1747.0 1143.0,1747.0 C1144.1,1747.0 1145.2,1747.0 1146.3,1747.0 C1147.4,1747.0 1148.5,1747.0 1149.6,1747.0 C1150.7,1747.1 1151.8,1747.1 1152.9,1747.1 C1154.0,1747.1 1155.1,1747.1 1156.2,1747.1 C1157.3,1747.1 1158.3,1747.1 1159.4,1747.2 C1160.5,1747.2 1161.6,1747.2 1162.7,1747.2 C1163.8,1747.2 1164.9,1747.2 1166.0,1747.2 C1167.1,1747.2 1168.2,1747.2 1169.3,1747.2 C1170.4,1747.3 1171.5,1747.3 1172.6,1747.3 C1173.7,1747.3 1174.8,1747.3 1175.8,1747.3 C1176.9,1747.3 1178.0,1747.3 1179.1,1747.3 C1180.2,1747.3 1181.3,1747.4 1182.4,1747.4 C1183.5,1747.4 1184.6,1747.4 1185.7,1747.4 C1186.8,1747.4 1187.9,1747.4 1189.0,1747.4 C1190.1,1747.4 1191.2,1747.4 1192.2,1747.4 C1193.3,1747.5 1194.4,1747.5 1195.5,1747.5 C1196.6,1747.5 1197.7,1747.5 1198.8,1747.5 C1199.9,1747.5 1201.0,1747.5 1202.1,1747.5 C1203.2,1747.5 1204.3,1747.5 1205.4,1747.5 C1206.5,1747.5 1207.6,1747.6 1208.7,1747.6 C1209.7,1747.6 1210.8,1747.6 1211.9,1747.6 C1213.0,1747.6 1214.1,1747.6 1215.2,1747.6 C1216.3,1747.6 1217.4,1747.6 1218.5,1747.6 C1219.6,1747.6 1220.7,1747.6 1221.8,1747.6 C1222.9,1747.7 1224.0,1747.7 1225.1,1747.7 C1226.2,1747.7 1227.2,1747.7 1228.3,1747.7 C1229.4,1747.7 1230.5,1747.7 1231.6,1747.7 C1232.7,1747.7 1233.8,1747.7 1234.9,1747.7 C1236.0,1747.7 1237.1,1747.7 1238.2,1747.8 C1239.3,1747.8 1240.4,1747.8 1241.5,1747.8 C1242.6,1747.8 1243.6,1747.8 1244.7,1747.8 C1245.8,1747.8 1246.9,1747.8 1248.0,1747.8 C1249.1,1747.8 1250.2,1747.8 1251.3,1747.8 C1252.4,1747.8 1253.5,1747.8 1254.6,1747.8 C1255.7,1747.9 1256.8,1747.9 1257.9,1747.9 C1259.0,1747.9 1260.1,1747.9 1261.1,1747.9 C1262.2,1747.9 1263.3,1747.9 1264.4,1747.9 C1265.5,1747.9 1266.6,1747.9 1267.7,1747.9 C1268.8,1747.9 1269.9,1747.9 1271.0,1747.9 C1272.1,1747.9 1273.2,1748.0 1274.3,1748.0 C1275.4,1748.0 1276.5,1748.0 1277.6,1748.0 C1278.6,1748.0 1279.7,1748.0 1280.8,1748.0 C1281.9,1748.0 1283.0,1748.0 1284.1,1748.0 C1285.2,1748.0 1286.3,1748.0 1287.4,1748.0 C1288.5,1748.0 1289.6,1748.0 1290.7,1748.0 C1291.8,1748.1 1292.9,1748.1 1294.0,1748.1 C1295.0,1748.1 1296.1,1748.1 1297.2,1748.1 C1298.3,1748.1 1299.4,1748.1 1300.5,1748.1 C1301.6,1748.1 1302.7,1748.1 1303.8,1748.1 C1304.9,1748.1 1306.0,1748.1 1307.1,1748.1 C1308.2,1748.1 1309.3,1748.1 1310.4,1748.1 C1311.5,1748.2 1312.5,1748.2 1313.6,1748.2 C1314.7,1748.2 1315.8,1748.2 1316.9,1748.2 C1318.0,1748.2 1319.1,1748.2 1320.2,1748.2 C1321.3,1748.2 1322.4,1748.2 1323.5,1748.2 C1324.6,1748.2 1325.7,1748.2 1326.8,1748.2 C1327.9,1748.2 1328.9,1748.2 1330.0,1748.3 C1331.1,1748.3 1332.2,1748.3 1333.3,1748.3 C1334.4,1748.3 1335.5,1748.3 1336.6,1748.3 C1337.7,1748.3 1338.8,1748.3 1339.9,1748.3 C1341.0,1748.3 1342.1,1748.3 1343.2,1748.3 C1344.3,1748.3 1345.4,1748.3 1346.4,1748.3 C1347.5,1748.3 1348.6,1748.3 1349.7,1748.4 C1350.8,1748.4 1351.9,1748.4 1353.0,1748.4 C1354.1,1748.4 1355.2,1748.4 1356.3,1748.4 C1357.4,1748.4 1358.5,1748.4 1359.6,1748.4 C1360.7,1748.4 1361.8,1748.4 1362.9,1748.4 C1363.9,1748.4 1365.0,1748.4 1366.1,1748.4 C1367.2,1748.5 1368.3,1748.5 1369.4,1748.5 C1370.5,1748.5 1371.6,1748.5 1372.7,1748.5 C1373.8,1748.5 1374.9,1748.5 1376.0,1748.5 C1377.1,1748.5 1378.2,1748.5 1379.3,1748.5 C1380.3,1748.5 1381.4,1748.5 1382.5,1748.5 C1383.6,1748.5 1384.7,1748.5 1385.8,1748.6 C1386.9,1748.6 1388.0,1748.6 1389.1,1748.6 C1390.2,1748.6 1391.3,1748.6 1392.4,1748.6 C1393.5,1748.6 1394.6,1748.6 1395.7,1748.6 C1396.8,1748.6 1397.8,1748.6 1398.9,1748.6 C1400.0,1748.6 1401.1,1748.6 1402.2,1748.7 C1403.3,1748.7 1404.4,1748.7 1405.5,1748.7 C1406.6,1748.7 1407.7,1748.7 1408.8,1748.7 C1409.9,1748.7 1411.0,1748.7 1412.1,1748.7 C1413.2,1748.7 1414.2,1748.7 1415.3,1748.7 C1416.4,1748.7 1417.5,1748.7 1418.6,1748.7 C1419.7,1748.8 1420.8,1748.8 1421.9,1748.8 C1423.0,1748.8 1424.1,1748.8 1425.2,1748.8 C1426.3,1748.8 1427.4,1748.8 1428.5,1748.8 C1429.6,1748.8 1430.7,1748.8 1431.7,1748.8 C1432.8,1748.8 1433.9,1748.8 1435.0,1748.8 C1436.1,1748.8 1437.2,1748.9 1438.3,1748.9 C1439.4,1748.9 1440.5,1748.9 1441.6,1748.9 C1442.7,1748.9 1443.8,1748.9 1444.9,1748.9 C1446.0,1748.9 1447.1,1748.9 1448.2,1748.9 C1449.2,1748.9 1450.3,1748.9 1451.4,1748.9 C1452.5,1748.9 1453.6,1748.9 1454.7,1748.9 C1455.8,1749.0 1456.9,1749.0 1458.0,1749.0 C1459.1,1749.0 1460.2,1749.0 1461.3,1749.0 C1462.4,1749.0 1463.5,1749.0 1464.6,1749.0 C1465.6,1749.0 1466.7,1749.0 1467.8,1749.0 C1468.9,1749.0 1470.0,1749.0 1471.1,1749.0 C1472.2,1749.0 1473.3,1749.0 1474.4,1749.1 C1475.5,1749.1 1476.6,1749.1 1477.7,1749.1 C1478.8,1749.1 1479.9,1749.1 1481.0,1749.1 C1482.1,1749.1 1483.1,1749.1 1484.2,1749.1 C1485.3,1749.1 1486.4,1749.1 1487.5,1749.1 C1488.6,1749.1 1489.7,1749.1 1490.8,1749.1 C1491.9,1749.1 1493.0,1749.1 1494.1,1749.2 C1495.2,1749.2 1496.3,1749.2 1497.4,1749.2 C1498.5,1749.2 1499.6,1749.2 1500.6,1749.2 C1501.7,1749.2 1502.8,1749.2 1503.9,1749.2 C1505.0,1749.2 1506.1,1749.2 1507.2,1749.2 C1508.3,1749.2 1509.4,1749.2 1510.5,1749.2 C1511.6,1749.2 1512.7,1749.2 1513.8,1749.3 C1514.9,1749.3 1516.0,1749.3 1517.0,1749.3 C1518.1,1749.3 1519.2,1749.3 1520.3,1749.3 C1521.4,1749.3 1522.5,1749.3 1523.6,1749.3 C1524.7,1749.3 1525.8,1749.3 1526.9,1749.3 C1528.0,1749.3 1529.1,1749.3 1530.2,1749.3 C1531.3,1749.3 1532.4,1749.3 1533.5,1749.3 C1534.5,1749.4 1535.6,1749.4 1536.7,1749.4 C1537.8,1749.4 1538.9,1749.4 1540.0,1749.4 C1541.1,1749.4 1542.2,1749.4 1543.3,1749.4 C1544.4,1749.4 1545.5,1749.4 1546.6,1749.4 C1547.7,1749.4 1548.8,1749.4 1549.9,1749.4 C1550.9,1749.4 1552.0,1749.4 1553.1,1749.4 C1554.2,1749.5 1555.3,1749.5 1556.4,1749.5 C1557.5,1749.5 1558.6,1749.5 1559.7,1749.5 C1560.8,1749.5 1561.9,1749.5 1563.0,1749.5 C1564.1,1749.5 1565.2,1749.5 1566.3,1749.5 C1567.4,1749.5 1568.4,1749.5 1569.5,1749.5 C1570.6,1749.5 1571.7,1749.5 1572.8,1749.5 C1573.9,1749.5 1575.0,1749.6 1576.1,1749.6 C1577.2,1749.6 1578.3,1749.6 1579.4,1749.6 C1580.5,1749.6 1581.6,1749.6 1582.7,1749.6 C1583.8,1749.6 1584.9,1749.6 1585.9,1749.6 C1587.0,1749.6 1588.1,1749.6 1589.2,1749.6 C1590.3,1749.6 1591.4,1749.6 1592.5,1749.6 C1593.6,1749.6 1594.7,1749.6 1595.8,1749.7 C1596.9,1749.7 1598.0,1749.7 1599.1,1749.7 C1600.2,1749.7 1601.3,1749.7 1602.3,1749.7 C1603.4,1749.7 1604.5,1749.7 1605.6,1749.7 C1606.7,1749.7 1607.8,1749.7 1608.9,1749.7 C1610.0,1749.7 1611.1,1749.7 1612.2,1749.7 C1613.3,1749.7 1614.4,1749.7 1615.5,1749.7 C1616.6,1749.8 1617.7,1749.8 1618.8,1749.8 C1619.8,1749.8 1620.9,1749.8 1622.0,1749.8 C1623.1,1749.8 1624.2,1749.8 1625.3,1749.8 C1626.4,1749.8 1627.5,1749.8 1628.6,1749.8 C1629.7,1749.8 1630.8,1749.8 1631.9,1749.8 C1633.0,1749.8 1634.1,1749.8 1635.2,1749.8 C1636.2,1749.8 1637.3,1749.9 1638.4,1749.9 C1639.5,1749.9 1640.6,1749.9 1641.7,1749.9 C1642.8,1749.9 1643.9,1749.9 1645.0,1749.9 C1646.1,1749.9 1647.2,1749.9 1648.3,1749.9 C1649.4,1749.9 1650.5,1749.9 1651.6,1749.9 C1652.7,1749.9 1653.7,1749.9 1654.8,1749.9 C1655.9,1749.9 1657.0,1749.9 1658.1,1750.0 C1659.2,1750.0 1660.3,1750.0 1661.4,1750.0 C1662.5,1750.0 1663.6,1750.0 1664.7,1750.0 C1665.8,1750.0 1666.9,1750.0 1668.0,1750.0 C1669.1,1750.0 1670.2,1750.0 1671.2,1750.0 C1672.3,1750.0 1673.4,1750.0 1674.5,1750.0 C1675.6,1750.0 1676.7,1750.0 1677.8,1750.1 C1678.9,1750.1 1680.0,1750.1 1681.1,1750.1 C1682.2,1750.1 1683.3,1750.1 1684.4,1750.1 C1685.5,1750.1 1686.6,1750.1 1687.6,1750.1 C1688.7,1750.1 1689.8,1750.1 1690.9,1750.1 C1692.0,1750.1 1693.1,1750.1 1694.2,1750.1 C1695.3,1750.1 1696.4,1750.1 1697.5,1750.1 C1698.6,1750.2 1699.7,1750.2 1700.8,1750.2 C1701.9,1750.2 1703.0,1750.2 1704.1,1750.2 C1705.1,1750.2 1706.2,1750.2 1707.3,1750.2" stroke="#3b2a82" stroke-width="4.9" stroke-dasharray="9.6 6.4"/>
<path d="M95.1,1231.1 C95.6,1229.9 96.1,1228.7 96.6,1227.5 C97.0,1226.3 97.5,1225.1 98.0,1223.9 C98.5,1222.8 99.0,1221.6 99.5,1220.4 C100.0,1219.2 100.5,1218.0 101.0,1216.8 C101.5,1215.6 102.0,1214.4 102.4,1213.2 C102.9,1212.0 103.4,1210.8 103.9,1209.6 C104.4,1208.4 104.9,1207.2 105.4,1206.0 C105.9,1204.8 106.3,1203.6 106.8,1202.4 C107.3,1201.3 107.8,1200.1 108.3,1198.9 C108.8,1197.7 109.2,1196.5 109.7,1195.3 C110.2,1194.1 110.7,1192.9 111.2,1191.7 C111.7,1190.5 112.2,1189.3 112.7,1188.1 C113.2,1186.9 113.7,1185.8 114.3,1184.6 C114.8,1183.5 115.4,1182.3 116.0,1181.2 C116.6,1180.1 117.2,1179.0 117.8,1177.9 C118.5,1176.8 119.1,1175.7 119.8,1174.7 C120.4,1173.6 121.1,1172.5 121.8,1171.5 C122.5,1170.4 123.1,1169.4 123.8,1168.4 C124.5,1167.3 125.2,1166.3 126.0,1165.3 C126.7,1164.3 127.4,1163.4 128.3,1162.5 C129.1,1161.6 129.9,1160.7 130.9,1160.0 C131.8,1159.3 132.7,1158.7 133.8,1158.2 C134.8,1157.7 135.8,1157.3 136.9,1157.1 C138.0,1156.8 139.1,1156.6 140.2,1156.5 C141.2,1156.4 142.3,1156.4 143.4,1156.4 C144.5,1156.4 145.6,1156.5 146.7,1156.5 C147.8,1156.6 148.9,1156.7 150.0,1156.8 C151.1,1156.9 152.2,1157.1 153.3,1157.2 C154.3,1157.4 155.4,1157.6 156.5,1157.8 C157.6,1158.0 158.7,1158.2 159.7,1158.4 C160.8,1158.7 161.9,1158.9 163.0,1159.2 C164.0,1159.4 165.1,1159.7 166.2,1160.0 C167.2,1160.3 168.3,1160.6 169.4,1160.9 C170.4,1161.2 171.5,1161.6 172.6,1161.9 C173.6,1162.2 174.7,1162.5 175.8,1162.8 C176.8,1163.1 177.9,1163.4 179.0,1163.7 C180.0,1164.0 181.1,1164.3 182.2,1164.5 C183.2,1164.7 184.3,1165.0 185.4,1165.2 C186.5,1165.4 187.6,1165.6 188.6,1165.8 C189.7,1166.0 190.8,1166.2 191.9,1166.3 C193.0,1166.5 194.1,1166.7 195.2,1166.8 C196.2,1166.9 197.3,1167.1 198.4,1167.2 C199.5,1167.3 200.6,1167.4 201.7,1167.4 C202.8,1167.5 203.9,1167.6 205.0,1167.6 C206.1,1167.6 207.2,1167.6 208.3,1167.6 C209.4,1167.6 210.5,1167.6 211.5,1167.5 C212.6,1167.4 213.7,1167.3 214.8,1167.2 C215.9,1167.0 217.0,1166.9 218.1,1166.7 C219.2,1166.5 220.2,1166.2 221.3,1166.0 C222.4,1165.7 223.4,1165.4 224.5,1165.0 C225.6,1164.7 226.6,1164.3 227.7,1163.9 C228.7,1163.5 229.7,1163.1 230.7,1162.6 C231.8,1162.1 232.8,1161.6 233.8,1161.0 C234.7,1160.4 235.7,1159.8 236.6,1159.1 C237.6,1158.4 238.5,1157.6 239.3,1156.8 C240.2,1156.0 241.0,1155.1 241.8,1154.2 C242.6,1153.2 243.3,1152.2 244.0,1151.2 C244.7,1150.2 245.3,1149.1 245.9,1148.0 C246.5,1146.8 247.1,1145.7 247.6,1144.5 C248.1,1143.4 248.6,1142.1 249.1,1140.9 C249.5,1139.7 249.9,1138.5 250.4,1137.3 C250.8,1136.0 251.2,1134.8 251.7,1133.6 C252.2,1132.5 252.8,1131.3 253.4,1130.2 C254.1,1129.1 254.8,1128.1 255.6,1127.2 C256.4,1126.3 257.3,1125.5 258.3,1124.8 C259.2,1124.2 260.2,1123.6 261.2,1123.1 C262.2,1122.6 263.3,1122.3 264.4,1122.0 C265.4,1121.8 266.5,1121.7 267.6,1121.7 C268.7,1121.7 269.8,1121.8 270.9,1122.0 C272.0,1122.2 273.0,1122.5 274.1,1122.8 C275.2,1123.2 276.2,1123.6 277.2,1124.0 C278.3,1124.5 279.3,1125.0 280.3,1125.5 C281.3,1126.1 282.3,1126.6 283.2,1127.2 C284.2,1127.8 285.2,1128.4 286.2,1129.1 C287.1,1129.7 288.1,1130.3 289.1,1130.9 C290.1,1131.5 291.1,1132.0 292.1,1132.5 C293.1,1132.9 294.2,1133.4 295.2,1133.6 C296.3,1133.9 297.4,1134.1 298.5,1134.1 C299.6,1134.2 300.7,1134.2 301.8,1134.0 C302.8,1133.8 303.9,1133.4 304.9,1133.0 C305.9,1132.5 306.9,1131.8 307.8,1131.0 C308.7,1130.2 309.4,1129.2 310.1,1128.2 C310.8,1127.2 311.3,1126.0 311.8,1124.8 C312.3,1123.6 312.6,1122.3 313.0,1121.1 C313.4,1119.8 313.7,1118.5 314.0,1117.2 C314.3,1116.0 314.6,1114.7 315.0,1113.4 C315.3,1112.2 315.6,1110.9 316.0,1109.6 C316.4,1108.4 316.8,1107.1 317.2,1105.9 C317.7,1104.7 318.1,1103.5 318.7,1102.3 C319.2,1101.1 319.7,1099.9 320.3,1098.8 C320.8,1097.7 321.4,1096.6 322.1,1095.5 C322.8,1094.4 323.5,1093.4 324.2,1092.4 C325.0,1091.5 325.8,1090.6 326.7,1089.8 C327.5,1089.0 328.4,1088.2 329.4,1087.6 C330.4,1087.1 331.4,1086.6 332.5,1086.2 C333.6,1085.9 334.7,1085.7 335.7,1085.6 C336.8,1085.5 337.9,1085.5 339.0,1085.6 C340.1,1085.7 341.2,1085.8 342.3,1086.1 C343.3,1086.4 344.4,1086.7 345.4,1087.1 C346.5,1087.5 347.5,1088.0 348.5,1088.5 C349.6,1088.9 350.6,1089.5 351.6,1090.0 C352.6,1090.5 353.6,1091.0 354.6,1091.5 C355.6,1092.0 356.7,1092.4 357.7,1092.8 C358.7,1093.2 359.8,1093.6 360.9,1093.8 C361.9,1094.1 363.0,1094.3 364.1,1094.4 C365.2,1094.4 366.4,1094.3 367.4,1094.0 C368.4,1093.6 369.5,1093.0 370.3,1092.3 C371.2,1091.6 372.0,1090.5 372.7,1089.5 C373.4,1088.5 373.9,1087.3 374.4,1086.1 C374.9,1084.9 375.4,1083.7 375.8,1082.5 C376.3,1081.3 376.7,1080.1 377.1,1078.8 C377.5,1077.6 377.9,1076.3 378.3,1075.1 C378.7,1073.9 379.1,1072.6 379.5,1071.4 C379.8,1070.1 380.2,1068.8 380.5,1067.6 C380.9,1066.3 381.2,1065.0 381.5,1063.7 C381.8,1062.5 382.1,1061.2 382.4,1059.9 C382.7,1058.6 382.9,1057.3 383.2,1056.0 C383.5,1054.7 383.7,1053.4 384.0,1052.1 C384.3,1050.8 384.5,1049.5 384.8,1048.2 C385.1,1047.0 385.4,1045.7 385.7,1044.4 C386.0,1043.1 386.3,1041.8 386.6,1040.5 C386.9,1039.3 387.2,1038.0 387.5,1036.7 C387.8,1035.4 388.2,1034.1 388.5,1032.8 C388.8,1031.6 389.1,1030.3 389.4,1029.0 C389.7,1027.7 390.0,1026.4 390.3,1025.1 C390.5,1023.9 390.8,1022.6 391.1,1021.3 C391.4,1020.0 391.7,1018.7 391.9,1017.4 C392.2,1016.1 392.5,1014.8 392.7,1013.5 C393.0,1012.2 393.3,1010.9 393.5,1009.6 C393.8,1008.3 394.1,1007.1 394.4,1005.8 C394.7,1004.5 395.0,1003.2 395.3,1001.9 C395.6,1000.6 395.9,999.4 396.2,998.1 C396.6,996.8 396.9,995.5 397.2,994.3 C397.6,993.0 397.9,991.7 398.2,990.5 C398.6,989.2 398.9,987.9 399.2,986.6 C399.6,985.4 399.9,984.1 400.2,982.8 C400.5,981.5 400.8,980.3 401.2,979.0 C401.5,977.7 401.8,976.4 402.1,975.2 C402.5,973.9 402.8,972.6 403.2,971.4 C403.5,970.1 403.9,968.8 404.2,967.6 C404.6,966.3 404.9,965.1 405.3,963.8 C405.7,962.6 406.1,961.3 406.5,960.1 C406.9,958.8 407.3,957.6 407.8,956.4 C408.2,955.1 408.6,953.9 409.1,952.7 C409.5,951.5 410.0,950.3 410.5,949.1 C410.9,947.9 411.4,946.7 411.9,945.5 C412.4,944.3 412.9,943.1 413.4,941.9 C413.9,940.7 414.4,939.5 414.9,938.3 C415.4,937.1 415.9,936.0 416.5,934.8 C417.0,933.7 417.6,932.5 418.2,931.4 C418.8,930.3 419.4,929.2 420.1,928.2 C420.8,927.1 421.5,926.1 422.3,925.1 C423.0,924.2 423.8,923.2 424.6,922.3 C425.4,921.4 426.2,920.6 427.1,919.8 C428.0,919.0 428.9,918.3 429.9,917.7 C430.9,917.0 431.9,916.5 432.9,916.0 C433.9,915.5 434.9,915.1 436.0,914.8 C437.1,914.5 438.2,914.2 439.2,914.1 C440.3,914.0 441.4,913.9 442.5,914.0 C443.6,914.1 444.7,914.3 445.7,914.7 C446.8,915.0 447.8,915.5 448.8,916.0 C449.8,916.6 450.8,917.3 451.7,918.1 C452.6,918.8 453.4,919.7 454.2,920.5 C455.1,921.4 455.8,922.4 456.6,923.4 C457.3,924.3 458.0,925.4 458.7,926.4 C459.3,927.5 459.9,928.6 460.6,929.7 C461.2,930.8 461.7,932.0 462.3,933.1 C462.9,934.2 463.4,935.4 463.9,936.6 C464.5,937.7 465.0,938.9 465.5,940.1 C466.0,941.3 466.5,942.4 467.0,943.6 C467.5,944.8 468.0,946.0 468.5,947.2 C469.0,948.4 469.5,949.6 469.9,950.8 C470.4,952.0 470.9,953.2 471.3,954.4 C471.7,955.7 472.2,956.9 472.6,958.1 C473.0,959.3 473.5,960.6 473.9,961.8 C474.3,963.1 474.7,964.3 475.1,965.5 C475.5,966.8 475.8,968.1 476.2,969.3 C476.6,970.6 476.9,971.8 477.2,973.1 C477.6,974.4 477.9,975.6 478.2,976.9 C478.5,978.2 478.8,979.5 479.1,980.8 C479.4,982.1 479.7,983.4 479.9,984.7 C480.2,986.0 480.4,987.3 480.7,988.6 C480.9,989.9 481.1,991.2 481.3,992.5 C481.5,993.8 481.8,995.1 482.0,996.4 C482.2,997.7 482.4,999.0 482.5,1000.3 C482.7,1001.7 482.9,1003.0 483.1,1004.3 C483.3,1005.6 483.5,1006.9 483.7,1008.2 C483.9,1009.5 484.1,1010.9 484.3,1012.2 C484.6,1013.5 484.8,1014.8 485.0,1016.1 C485.3,1017.4 485.6,1018.7 485.8,1020.0 C486.1,1021.3 486.4,1022.5 486.7,1023.8 C487.0,1025.1 487.2,1026.4 487.5,1027.7 C487.8,1029.0 488.0,1030.3 488.2,1031.6 C488.5,1032.9 488.7,1034.2 488.8,1035.5 C489.0,1036.9 489.2,1038.2 489.3,1039.5 C489.5,1040.8 489.6,1042.2 489.7,1043.5 C489.8,1044.8 490.0,1046.1 490.1,1047.5 C490.2,1048.8 490.4,1050.1 490.5,1051.4 C490.7,1052.7 490.8,1054.1 491.0,1055.4 C491.1,1056.7 491.3,1058.0 491.4,1059.4 C491.6,1060.7 491.8,1062.0 491.9,1063.3 C492.1,1064.6 492.2,1066.0 492.4,1067.3 C492.5,1068.6 492.7,1069.9 492.8,1071.2 C493.0,1072.6 493.1,1073.9 493.3,1075.2 C493.5,1076.5 493.6,1077.9 493.8,1079.2 C494.0,1080.5 494.1,1081.8 494.3,1083.1 C494.5,1084.4 494.7,1085.8 494.8,1087.1 C495.0,1088.4 495.2,1089.7 495.4,1091.0 C495.5,1092.3 495.7,1093.7 495.9,1095.0 C496.0,1096.3 496.2,1097.6 496.3,1099.0 C496.5,1100.3 496.6,1101.6 496.7,1102.9 C496.9,1104.2 497.0,1105.6 497.1,1106.9 C497.2,1108.2 497.4,1109.6 497.5,1110.9 C497.6,1112.2 497.7,1113.5 497.8,1114.9 C497.9,1116.2 498.0,1117.5 498.2,1118.8 C498.3,1120.2 498.4,1121.5 498.5,1122.8 C498.6,1124.2 498.7,1125.5 498.8,1126.8 C498.9,1128.1 499.0,1129.5 499.1,1130.8 C499.2,1132.1 499.3,1133.5 499.4,1134.8 C499.5,1136.1 499.6,1137.4 499.7,1138.8 C499.8,1140.1 500.0,1141.4 500.1,1142.8 C500.2,1144.1 500.3,1145.4 500.4,1146.7 C500.5,1148.1 500.6,1149.4 500.7,1150.7 C500.8,1152.1 500.9,1153.4 501.0,1154.7 C501.1,1156.1 501.2,1157.4 501.3,1158.7 C501.4,1160.0 501.5,1161.4 501.6,1162.7 C501.7,1164.0 501.8,1165.4 501.9,1166.7 C502.0,1168.0 502.1,1169.3 502.2,1170.7 C502.3,1172.0 502.4,1173.3 502.5,1174.7 C502.6,1176.0 502.7,1177.3 502.8,1178.6 C502.9,1180.0 503.0,1181.3 503.2,1182.6 C503.3,1184.0 503.4,1185.3 503.5,1186.6 C503.6,1187.9 503.7,1189.3 503.8,1190.6 C503.9,1191.9 504.0,1193.2 504.1,1194.6 C504.2,1195.9 504.4,1197.2 504.5,1198.6 C504.6,1199.9 504.7,1201.2 504.8,1202.5 C504.9,1203.9 505.0,1205.2 505.1,1206.5 C505.2,1207.9 505.4,1209.2 505.5,1210.5 C505.6,1211.8 505.7,1213.2 505.8,1214.5 C505.9,1215.8 506.0,1217.2 506.1,1218.5 C506.3,1219.8 506.4,1221.1 506.5,1222.5 C506.6,1223.8 506.7,1225.1 506.8,1226.4 C506.9,1227.8 507.0,1229.1 507.1,1230.4 C507.2,1231.8 507.3,1233.1 507.5,1234.4 C507.6,1235.7 507.7,1237.1 507.8,1238.4 C507.9,1239.7 508.0,1241.1 508.1,1242.4 C508.2,1243.7 508.3,1245.0 508.4,1246.4 C508.5,1247.7 508.6,1249.0 508.7,1250.4 C508.9,1251.7 509.0,1253.0 509.1,1254.3 C509.2,1255.7 509.3,1257.0 509.4,1258.3 C509.6,1259.6 509.7,1261.0 509.8,1262.3 C509.9,1263.6 510.1,1264.9 510.2,1266.3 C510.3,1267.6 510.5,1268.9 510.6,1270.2 C510.8,1271.6 510.9,1272.9 511.0,1274.2 C511.2,1275.5 511.3,1276.9 511.5,1278.2 C511.6,1279.5 511.7,1280.8 511.9,1282.2 C512.0,1283.5 512.1,1284.8 512.3,1286.1 C512.4,1287.5 512.6,1288.8 512.7,1290.1 C512.8,1291.4 512.9,1292.8 513.1,1294.1 C513.2,1295.4 513.3,1296.7 513.5,1298.1 C513.6,1299.4 513.7,1300.7 513.9,1302.0 C514.0,1303.4 514.1,1304.7 514.2,1306.0 C514.4,1307.3 514.5,1308.7 514.6,1310.0 C514.7,1311.3 514.8,1312.6 515.0,1314.0 C515.1,1315.3 515.2,1316.6 515.3,1318.0 C515.4,1319.3 515.5,1320.6 515.6,1321.9 C515.7,1323.3 515.8,1324.6 515.9,1325.9 C516.0,1327.3 516.1,1328.6 516.3,1329.9 C516.4,1331.2 516.5,1332.6 516.6,1333.9 C516.7,1335.2 516.8,1336.5 517.0,1337.9 C517.1,1339.2 517.2,1340.5 517.3,1341.9 C517.5,1343.2 517.6,1344.5 517.8,1345.8 C517.9,1347.1 518.0,1348.5 518.2,1349.8 C518.3,1351.1 518.5,1352.4 518.6,1353.8 C518.8,1355.1 518.9,1356.4 519.1,1357.7 C519.2,1359.1 519.3,1360.4 519.5,1361.7 C519.6,1363.0 519.8,1364.3 519.9,1365.7 C520.0,1367.0 520.2,1368.3 520.3,1369.6 C520.5,1371.0 520.6,1372.3 520.7,1373.6 C520.9,1374.9 521.0,1376.3 521.2,1377.6 C521.4,1378.9 521.5,1380.2 521.7,1381.5 C521.9,1382.9 522.1,1384.2 522.3,1385.5 C522.5,1386.8 522.7,1388.1 522.9,1389.4 C523.1,1390.7 523.3,1392.0 523.5,1393.3 C523.7,1394.7 524.0,1396.0 524.2,1397.3 C524.4,1398.6 524.6,1399.9 524.8,1401.2 C525.0,1402.5 525.2,1403.8 525.4,1405.1 C525.5,1406.5 525.7,1407.8 525.8,1409.1 C526.0,1410.4 526.1,1411.7 526.3,1413.1 C526.4,1414.4 526.6,1415.7 526.7,1417.0 C526.8,1418.4 527.0,1419.7 527.1,1421.0 C527.3,1422.3 527.4,1423.7 527.6,1425.0 C527.8,1426.3 528.0,1427.6 528.2,1428.9 C528.5,1430.2 528.7,1431.5 529.0,1432.8 C529.2,1434.1 529.5,1435.4 529.8,1436.7 C530.1,1438.0 530.3,1439.3 530.6,1440.6 C530.9,1441.8 531.2,1443.1 531.5,1444.4 C531.8,1445.7 532.1,1447.0 532.4,1448.3 C532.6,1449.6 532.9,1450.9 533.2,1452.2 C533.4,1453.5 533.6,1454.8 533.9,1456.1 C534.1,1457.4 534.3,1458.7 534.6,1460.0 C534.8,1461.3 535.0,1462.6 535.3,1463.9 C535.5,1465.2 535.7,1466.5 535.9,1467.8 C536.2,1469.1 536.4,1470.4 536.7,1471.7 C536.9,1473.0 537.2,1474.3 537.5,1475.6 C537.8,1476.9 538.1,1478.2 538.4,1479.5 C538.7,1480.7 539.0,1482.0 539.3,1483.3 C539.7,1484.6 540.0,1485.8 540.4,1487.1 C540.8,1488.3 541.1,1489.6 541.5,1490.8 C541.9,1492.1 542.3,1493.3 542.7,1494.6 C543.1,1495.8 543.5,1497.1 543.9,1498.3 C544.3,1499.5 544.7,1500.8 545.1,1502.0 C545.5,1503.3 545.9,1504.5 546.3,1505.7 C546.8,1507.0 547.2,1508.2 547.6,1509.4 C548.0,1510.7 548.5,1511.9 548.9,1513.1 C549.3,1514.3 549.8,1515.6 550.3,1516.8 C550.7,1518.0 551.2,1519.2 551.7,1520.4 C552.2,1521.6 552.7,1522.8 553.2,1523.9 C553.7,1525.1 554.2,1526.3 554.7,1527.4 C555.3,1528.6 555.8,1529.8 556.4,1530.9 C557.0,1532.0 557.6,1533.1 558.2,1534.2 C558.9,1535.3 559.5,1536.4 560.2,1537.4 C560.9,1538.5 561.6,1539.5 562.4,1540.4 C563.1,1541.4 563.9,1542.3 564.7,1543.2 C565.5,1544.1 566.4,1544.9 567.3,1545.8 C568.1,1546.6 569.0,1547.3 570.0,1548.1 C570.9,1548.8 571.8,1549.5 572.8,1550.1 C573.7,1550.8 574.7,1551.4 575.7,1552.0 C576.7,1552.5 577.7,1553.1 578.7,1553.5 C579.7,1554.0 580.8,1554.4 581.8,1554.7 C582.9,1555.1 584.0,1555.3 585.0,1555.5 C586.1,1555.7 587.2,1555.8 588.3,1555.8 C589.4,1555.8 590.5,1555.8 591.6,1555.6 C592.7,1555.5 593.8,1555.3 594.8,1555.0 C595.9,1554.8 597.0,1554.4 598.0,1554.0 C599.0,1553.6 600.1,1553.1 601.1,1552.6 C602.1,1552.1 603.1,1551.5 604.1,1551.0 C605.1,1550.5 606.1,1550.0 607.2,1549.7 C608.2,1549.4 609.3,1549.1 610.4,1549.2 C611.5,1549.3 612.6,1549.6 613.6,1550.0 C614.6,1550.5 615.6,1551.2 616.6,1551.8 C617.5,1552.5 618.4,1553.2 619.3,1553.9 C620.3,1554.7 621.1,1555.5 622.1,1556.2 C623.0,1556.9 623.9,1557.6 624.9,1558.2 C625.9,1558.8 626.9,1559.3 627.9,1559.7 C629.0,1560.0 630.1,1560.3 631.2,1560.3 C632.2,1560.3 633.4,1560.2 634.4,1559.9 C635.5,1559.5 636.5,1559.0 637.4,1558.3 C638.4,1557.6 639.2,1556.7 640.0,1555.8 C640.8,1554.9 641.5,1553.8 642.1,1552.8 C642.8,1551.7 643.4,1550.6 644.0,1549.5 C644.7,1548.4 645.3,1547.3 645.9,1546.2 C646.6,1545.2 647.2,1544.1 648.0,1543.1 C648.7,1542.1 649.4,1541.1 650.3,1540.3 C651.1,1539.4 651.9,1538.5 652.9,1537.8 C653.8,1537.1 654.8,1536.5 655.8,1536.1 C656.8,1535.7 658.0,1535.5 659.0,1535.6 C660.1,1535.7 661.2,1536.3 662.1,1536.9 C663.0,1537.6 663.8,1538.7 664.4,1539.7 C665.1,1540.8 665.6,1542.0 666.1,1543.2 C666.6,1544.4 667.0,1545.6 667.4,1546.9 C667.8,1548.1 668.1,1549.4 668.4,1550.7 C668.7,1551.9 669.0,1553.2 669.2,1554.5 C669.5,1555.8 669.7,1557.1 670.0,1558.4 C670.2,1559.8 670.4,1561.1 670.6,1562.4 C670.8,1563.7 671.0,1565.0 671.1,1566.3 C671.3,1567.6 671.5,1569.0 671.7,1570.3 C671.8,1571.6 672.0,1572.9 672.1,1574.2 C672.3,1575.6 672.4,1576.9 672.6,1578.2 C672.7,1579.5 672.9,1580.8 673.1,1582.2 C673.2,1583.5 673.4,1584.8 673.6,1586.1 C673.8,1587.4 673.9,1588.8 674.2,1590.1 C674.4,1591.4 674.6,1592.7 674.8,1594.0 C675.0,1595.3 675.2,1596.6 675.5,1597.9 C675.7,1599.2 675.9,1600.5 676.2,1601.8 C676.4,1603.1 676.6,1604.4 676.9,1605.7 C677.1,1607.0 677.4,1608.3 677.6,1609.6 C677.9,1610.9 678.1,1612.2 678.4,1613.5 C678.7,1614.8 678.9,1616.1 679.2,1617.4 C679.5,1618.7 679.7,1620.0 680.0,1621.3 C680.3,1622.6 680.6,1623.9 680.8,1625.2 C681.1,1626.4 681.4,1627.7 681.7,1629.0 C682.0,1630.3 682.3,1631.6 682.7,1632.9 C683.0,1634.1 683.3,1635.4 683.6,1636.7 C684.0,1637.9 684.3,1639.2 684.7,1640.5 C685.0,1641.7 685.4,1643.0 685.8,1644.2 C686.2,1645.5 686.6,1646.7 687.0,1648.0 C687.4,1649.2 687.8,1650.5 688.2,1651.7 C688.6,1652.9 689.1,1654.1 689.5,1655.3 C690.0,1656.6 690.5,1657.8 691.0,1659.0 C691.5,1660.1 692.0,1661.3 692.5,1662.5 C693.0,1663.7 693.6,1664.8 694.1,1666.0 C694.7,1667.1 695.3,1668.2 695.9,1669.3 C696.5,1670.4 697.2,1671.5 697.8,1672.6 C698.5,1673.6 699.2,1674.7 699.9,1675.7 C700.7,1676.6 701.4,1677.6 702.2,1678.5 C703.0,1679.5 703.8,1680.3 704.7,1681.2 C705.5,1682.0 706.4,1682.8 707.3,1683.5 C708.3,1684.2 709.2,1684.9 710.2,1685.5 C711.2,1686.1 712.2,1686.6 713.2,1687.1 C714.2,1687.6 715.3,1688.0 716.3,1688.4 C717.4,1688.7 718.4,1689.0 719.5,1689.2 C720.6,1689.4 721.7,1689.6 722.8,1689.7 C723.9,1689.8 725.0,1689.8 726.1,1689.8 C727.2,1689.8 728.2,1689.7 729.3,1689.5 C730.4,1689.4 731.5,1689.2 732.6,1688.9 C733.6,1688.6 734.7,1688.2 735.7,1687.8 C736.8,1687.3 737.8,1686.8 738.7,1686.2 C739.7,1685.6 740.7,1685.0 741.6,1684.3 C742.5,1683.5 743.4,1682.8 744.3,1682.0 C745.2,1681.1 746.0,1680.3 746.8,1679.4 C747.6,1678.5 748.4,1677.5 749.1,1676.6 C749.9,1675.6 750.6,1674.6 751.3,1673.6 C752.0,1672.6 752.7,1671.5 753.4,1670.5 C754.1,1669.4 754.7,1668.3 755.3,1667.3 C756.0,1666.2 756.6,1665.0 757.2,1663.9 C757.8,1662.8 758.3,1661.7 758.9,1660.5 C759.5,1659.4 760.0,1658.2 760.6,1657.1 C761.1,1655.9 761.6,1654.8 762.2,1653.6 C762.7,1652.4 763.3,1651.3 763.8,1650.1 C764.3,1648.9 764.9,1647.8 765.4,1646.6 C765.9,1645.5 766.5,1644.3 767.0,1643.1 C767.5,1641.9 768.0,1640.8 768.6,1639.6 C769.1,1638.4 769.6,1637.2 770.1,1636.0 C770.6,1634.9 771.1,1633.7 771.6,1632.5 C772.1,1631.3 772.5,1630.1 773.0,1628.9 C773.5,1627.7 773.9,1626.5 774.4,1625.2 C774.9,1624.0 775.3,1622.8 775.7,1621.6 C776.2,1620.4 776.6,1619.1 777.0,1617.9 C777.4,1616.7 777.8,1615.4 778.2,1614.2 C778.6,1612.9 779.0,1611.7 779.4,1610.5 C779.9,1609.2 780.3,1608.0 780.7,1606.7 C781.1,1605.5 781.5,1604.3 781.9,1603.0 C782.3,1601.8 782.7,1600.5 783.1,1599.3 C783.5,1598.1 783.9,1596.8 784.3,1595.6 C784.7,1594.3 785.1,1593.1 785.5,1591.9 C785.9,1590.6 786.3,1589.4 786.7,1588.1 C787.1,1586.9 787.5,1585.7 787.9,1584.4 C788.3,1583.2 788.8,1581.9 789.2,1580.7 C789.6,1579.5 790.0,1578.2 790.4,1577.0 C790.8,1575.8 791.2,1574.5 791.6,1573.3 C792.0,1572.0 792.4,1570.8 792.8,1569.6 C793.3,1568.3 793.7,1567.1 794.1,1565.8 C794.5,1564.6 794.9,1563.4 795.3,1562.1 C795.7,1560.9 796.1,1559.7 796.5,1558.4 C796.9,1557.2 797.3,1555.9 797.7,1554.7 C798.1,1553.5 798.5,1552.2 798.9,1551.0 C799.3,1549.7 799.7,1548.5 800.1,1547.2 C800.5,1546.0 800.9,1544.8 801.4,1543.5 C801.8,1542.3 802.2,1541.0 802.6,1539.8 C803.0,1538.6 803.4,1537.3 803.8,1536.1 C804.2,1534.9 804.6,1533.6 805.0,1532.4 C805.5,1531.2 805.9,1529.9 806.3,1528.7 C806.7,1527.5 807.1,1526.2 807.5,1525.0 C808.0,1523.7 808.4,1522.5 808.8,1521.3 C809.2,1520.0 809.6,1518.8 809.9,1517.5 C810.3,1516.3 810.7,1515.0 811.1,1513.8 C811.4,1512.5 811.8,1511.2 812.2,1510.0 C812.5,1508.7 812.9,1507.5 813.3,1506.2 C813.7,1505.0 814.1,1503.7 814.5,1502.5 C814.9,1501.3 815.3,1500.0 815.7,1498.8 C816.1,1497.6 816.6,1496.3 817.0,1495.1 C817.4,1493.9 817.9,1492.7 818.3,1491.4 C818.7,1490.2 819.2,1489.0 819.6,1487.7 C820.0,1486.5 820.4,1485.3 820.8,1484.0 C821.3,1482.8 821.7,1481.6 822.1,1480.3 C822.5,1479.1 822.9,1477.9 823.3,1476.6 C823.7,1475.4 824.2,1474.2 824.6,1472.9 C825.0,1471.7 825.5,1470.5 825.9,1469.3 C826.3,1468.0 826.8,1466.8 827.2,1465.6 C827.7,1464.4 828.1,1463.2 828.6,1462.0 C829.0,1460.7 829.5,1459.5 830.0,1458.3 C830.4,1457.1 830.9,1455.9 831.4,1454.7 C831.9,1453.5 832.4,1452.3 832.9,1451.1 C833.4,1449.9 833.9,1448.8 834.4,1447.6 C834.9,1446.4 835.4,1445.2 835.9,1444.0 C836.4,1442.9 837.0,1441.7 837.5,1440.6 C838.1,1439.4 838.6,1438.2 839.2,1437.1 C839.8,1436.0 840.4,1434.9 841.0,1433.8 C841.6,1432.7 842.3,1431.6 842.9,1430.5 C843.6,1429.5 844.3,1428.4 845.0,1427.4 C845.7,1426.4 846.5,1425.5 847.3,1424.5 C848.0,1423.6 848.8,1422.7 849.7,1421.8 C850.5,1420.9 851.4,1420.1 852.2,1419.3 C853.1,1418.5 854.0,1417.8 855.0,1417.1 C855.9,1416.4 856.8,1415.7 857.8,1415.1 C858.8,1414.5 859.8,1413.9 860.8,1413.5 C861.8,1413.0 862.9,1412.6 863.9,1412.3 C865.0,1412.0 866.1,1411.8 867.2,1411.6 C868.3,1411.5 869.4,1411.5 870.5,1411.6 C871.6,1411.6 872.6,1411.8 873.7,1412.0 C874.8,1412.2 875.9,1412.5 876.9,1412.9 C878.0,1413.2 879.0,1413.7 880.0,1414.2 C881.0,1414.7 882.0,1415.2 883.0,1415.8 C884.0,1416.5 884.9,1417.1 885.8,1417.8 C886.8,1418.6 887.7,1419.3 888.5,1420.1 C889.4,1420.9 890.3,1421.8 891.1,1422.6 C891.9,1423.5 892.8,1424.4 893.5,1425.3 C894.3,1426.2 895.1,1427.2 895.9,1428.1 C896.7,1429.1 897.4,1430.0 898.1,1431.0 C898.9,1432.0 899.6,1433.1 900.3,1434.1 C901.0,1435.1 901.6,1436.2 902.3,1437.2 C903.0,1438.3 903.6,1439.3 904.3,1440.4 C904.9,1441.5 905.6,1442.6 906.2,1443.7 C906.8,1444.8 907.4,1445.9 908.0,1447.0 C908.6,1448.1 909.2,1449.3 909.7,1450.4 C910.3,1451.6 910.8,1452.7 911.3,1453.9 C911.9,1455.1 912.4,1456.3 912.9,1457.4 C913.4,1458.6 913.9,1459.8 914.3,1461.0 C914.8,1462.2 915.3,1463.4 915.8,1464.6 C916.3,1465.8 916.8,1467.0 917.3,1468.2 C917.8,1469.4 918.3,1470.6 918.8,1471.7 C919.3,1472.9 919.8,1474.1 920.2,1475.3 C920.7,1476.5 921.2,1477.7 921.6,1479.0 C922.1,1480.2 922.5,1481.4 922.9,1482.7 C923.3,1483.9 923.6,1485.2 924.0,1486.4 C924.4,1487.7 924.7,1489.0 925.0,1490.2 C925.3,1491.5 925.6,1492.8 926.0,1494.1 C926.3,1495.3 926.7,1496.6 927.0,1497.9 C927.4,1499.1 927.8,1500.4 928.1,1501.6 C928.5,1502.9 928.9,1504.1 929.3,1505.4 C929.7,1506.6 930.1,1507.8 930.5,1509.1 C930.9,1510.3 931.3,1511.6 931.6,1512.9 C932.0,1514.1 932.3,1515.4 932.7,1516.7 C933.0,1517.9 933.3,1519.2 933.7,1520.5 C934.0,1521.7 934.3,1523.0 934.6,1524.3 C934.9,1525.6 935.2,1526.9 935.5,1528.1 C935.9,1529.4 936.2,1530.7 936.5,1532.0 C936.8,1533.3 937.1,1534.5 937.4,1535.8 C937.7,1537.1 938.0,1538.4 938.3,1539.7 C938.7,1540.9 939.0,1542.2 939.3,1543.5 C939.6,1544.8 939.9,1546.1 940.1,1547.4 C940.4,1548.6 940.7,1549.9 941.0,1551.2 C941.3,1552.5 941.6,1553.8 941.8,1555.1 C942.1,1556.4 942.4,1557.7 942.6,1559.0 C942.9,1560.3 943.1,1561.6 943.3,1562.9 C943.6,1564.2 943.8,1565.5 944.0,1566.8 C944.3,1568.1 944.5,1569.4 944.7,1570.7 C944.9,1572.0 945.2,1573.3 945.4,1574.6 C945.7,1575.9 946.0,1577.2 946.2,1578.5 C946.5,1579.8 946.8,1581.1 947.1,1582.4 C947.3,1583.7 947.6,1585.0 947.9,1586.3 C948.2,1587.5 948.5,1588.8 948.8,1590.1 C949.1,1591.4 949.4,1592.7 949.6,1594.0 C949.9,1595.3 950.2,1596.6 950.5,1597.8 C950.8,1599.1 951.1,1600.4 951.4,1601.7 C951.7,1603.0 952.0,1604.3 952.3,1605.6 C952.6,1606.8 952.9,1608.1 953.2,1609.4 C953.5,1610.7 953.9,1611.9 954.2,1613.2 C954.5,1614.5 954.9,1615.8 955.2,1617.0 C955.6,1618.3 955.9,1619.6 956.3,1620.8 C956.6,1622.1 957.0,1623.3 957.3,1624.6 C957.7,1625.9 958.0,1627.1 958.4,1628.4 C958.7,1629.7 959.1,1630.9 959.4,1632.2 C959.8,1633.4 960.2,1634.7 960.5,1636.0 C960.9,1637.2 961.3,1638.5 961.7,1639.7 C962.0,1641.0 962.4,1642.2 962.9,1643.4 C963.3,1644.7 963.7,1645.9 964.2,1647.1 C964.6,1648.3 965.1,1649.5 965.6,1650.7 C966.1,1651.9 966.7,1653.1 967.2,1654.2 C967.7,1655.4 968.3,1656.5 968.9,1657.7 C969.4,1658.8 970.0,1659.9 970.6,1661.1 C971.2,1662.2 971.8,1663.3 972.4,1664.5 C972.9,1665.6 973.5,1666.7 974.1,1667.8 C974.7,1668.9 975.4,1670.0 976.0,1671.1 C976.6,1672.2 977.2,1673.3 977.9,1674.4 C978.5,1675.5 979.2,1676.6 979.8,1677.6 C980.5,1678.7 981.2,1679.7 981.9,1680.7 C982.6,1681.8 983.3,1682.8 984.0,1683.8 C984.7,1684.8 985.5,1685.8 986.2,1686.8 C987.0,1687.7 987.7,1688.7 988.5,1689.7 C989.2,1690.7 990.0,1691.6 990.7,1692.6 C991.5,1693.5 992.2,1694.5 993.0,1695.4 C993.8,1696.4 994.6,1697.3 995.4,1698.2 C996.2,1699.1 997.0,1700.0 997.8,1700.9 C998.6,1701.8 999.5,1702.7 1000.3,1703.5 C1001.1,1704.4 1002.0,1705.2 1002.9,1706.0 C1003.7,1706.9 1004.6,1707.7 1005.4,1708.5 C1006.3,1709.3 1007.2,1710.1 1008.1,1710.9 C1008.9,1711.7 1009.8,1712.5 1010.7,1713.3 C1011.6,1714.1 1012.5,1714.8 1013.4,1715.6 C1014.3,1716.4 1015.2,1717.2 1016.1,1717.9 C1017.0,1718.7 1017.9,1719.4 1018.8,1720.1 C1019.7,1720.8 1020.7,1721.5 1021.6,1722.2 C1022.5,1722.9 1023.5,1723.6 1024.5,1724.2 C1025.4,1724.8 1026.4,1725.5 1027.4,1726.1 C1028.3,1726.7 1029.3,1727.3 1030.3,1727.8 C1031.3,1728.4 1032.3,1729.0 1033.3,1729.5 C1034.3,1730.1 1035.3,1730.6 1036.3,1731.1 C1037.3,1731.6 1038.3,1732.1 1039.3,1732.6 C1040.3,1733.1 1041.4,1733.6 1042.4,1734.1 C1043.4,1734.5 1044.4,1735.0 1045.5,1735.4 C1046.5,1735.9 1047.5,1736.3 1048.6,1736.8 C1049.6,1737.2 1050.6,1737.6 1051.7,1738.0 C1052.7,1738.4 1053.8,1738.8 1054.8,1739.2 C1055.9,1739.6 1056.9,1740.0 1058.0,1740.4 C1059.0,1740.7 1060.1,1741.1 1061.1,1741.4 C1062.2,1741.8 1063.2,1742.1 1064.3,1742.4 C1065.4,1742.7 1066.4,1743.0 1067.5,1743.3 C1068.6,1743.5 1069.7,1743.8 1070.7,1744.0 C1071.8,1744.3 1072.9,1744.5 1074.0,1744.7 C1075.0,1745.0 1076.1,1745.2 1077.2,1745.4 C1078.3,1745.6 1079.4,1745.7 1080.5,1745.9 C1081.5,1746.1 1082.6,1746.3 1083.7,1746.4 C1084.8,1746.6 1085.9,1746.7 1087.0,1746.8 C1088.1,1747.0 1089.2,1747.1 1090.2,1747.2 C1091.3,1747.3 1092.4,1747.4 1093.5,1747.5 C1094.6,1747.6 1095.7,1747.7 1096.8,1747.8 C1097.9,1747.9 1099.0,1748.0 1100.1,1748.1 C1101.2,1748.1 1102.3,1748.2 1103.3,1748.3 C1104.4,1748.4 1105.5,1748.4 1106.6,1748.5 C1107.7,1748.6 1108.8,1748.7 1109.9,1748.7 C1111.0,1748.8 1112.1,1748.9 1113.2,1748.9 C1114.3,1749.0 1115.4,1749.0 1116.5,1749.1 C1117.6,1749.1 1118.6,1749.2 1119.7,1749.2 C1120.8,1749.3 1121.9,1749.3 1123.0,1749.4 C1124.1,1749.4 1125.2,1749.4 1126.3,1749.5 C1127.4,1749.5 1128.5,1749.5 1129.6,1749.6 C1130.7,1749.6 1131.8,1749.6 1132.9,1749.6 C1134.0,1749.7 1135.1,1749.7 1136.1,1749.7 C1137.2,1749.7 1138.3,1749.7 1139.4,1749.8 C1140.5,1749.8 1141.6,1749.8 1142.7,1749.8 C1143.8,1749.8 1144.9,1749.8 1146.0,1749.9 C1147.1,1749.9 1148.2,1749.9 1149.3,1749.9 C1150.4,1749.9 1151.5,1749.9 1152.6,1749.9 C1153.6,1749.9 1154.7,1750.0 1155.8,1750.0 C1156.9,1750.0 1158.0,1750.0 1159.1,1750.0 C1160.2,1750.0 1161.3,1750.0 1162.4,1750.0 C1163.5,1750.0 1164.6,1750.0 1165.7,1750.1 C1166.8,1750.1 1167.9,1750.1 1169.0,1750.1 C1170.1,1750.1 1171.2,1750.1 1172.2,1750.1 C1173.3,1750.1 1174.4,1750.1 1175.5,1750.1 C1176.6,1750.1 1177.7,1750.1 1178.8,1750.2 C1179.9,1750.2 1181.0,1750.2 1182.1,1750.2 C1183.2,1750.2 1184.3,1750.2 1185.4,1750.2 C1186.5,1750.2 1187.6,1750.2 1188.7,1750.2 C1189.8,1750.2 1190.8,1750.2 1191.9,1750.2 C1193.0,1750.2 1194.1,1750.2 1195.2,1750.2 C1196.3,1750.2 1197.4,1750.3 1198.5,1750.3 C1199.6,1750.3 1200.7,1750.3 1201.8,1750.3 C1202.9,1750.3 1204.0,1750.3 1205.1,1750.3 C1206.2,1750.3 1207.3,1750.3 1208.4,1750.3 C1209.4,1750.3 1210.5,1750.3 1211.6,1750.3 C1212.7,1750.3 1213.8,1750.3 1214.9,1750.3 C1216.0,1750.3 1217.1,1750.3 1218.2,1750.3 C1219.3,1750.3 1220.4,1750.3 1221.5,1750.3 C1222.6,1750.4 1223.7,1750.4 1224.8,1750.4 C1225.9,1750.4 1227.0,1750.4 1228.0,1750.4 C1229.1,1750.4 1230.2,1750.4 1231.3,1750.4 C1232.4,1750.4 1233.5,1750.4 1234.6,1750.4 C1235.7,1750.4 1236.8,1750.4 1237.9,1750.4 C1239.0,1750.4 1240.1,1750.4 1241.2,1750.4 C1242.3,1750.4 1243.4,1750.4 1244.5,1750.4 C1245.6,1750.4 1246.6,1750.4 1247.7,1750.4 C1248.8,1750.4 1249.9,1750.4 1251.0,1750.4 C1252.1,1750.4 1253.2,1750.4 1254.3,1750.4 C1255.4,1750.4 1256.5,1750.4 1257.6,1750.5 C1258.7,1750.5 1259.8,1750.5 1260.9,1750.5 C1262.0,1750.5 1263.1,1750.5 1264.1,1750.5 C1265.2,1750.5 1266.3,1750.5 1267.4,1750.5 C1268.5,1750.5 1269.6,1750.5 1270.7,1750.5 C1271.8,1750.5 1272.9,1750.5 1274.0,1750.5 C1275.1,1750.5 1276.2,1750.5 1277.3,1750.5 C1278.4,1750.5 1279.5,1750.5 1280.6,1750.5 C1281.7,1750.5 1282.7,1750.5 1283.8,1750.5 C1284.9,1750.5 1286.0,1750.5 1287.1,1750.5 C1288.2,1750.5 1289.3,1750.5 1290.4,1750.5 C1291.5,1750.5 1292.6,1750.5 1293.7,1750.5 C1294.8,1750.5 1295.9,1750.5 1297.0,1750.5 C1298.1,1750.5 1299.2,1750.5 1300.3,1750.5 C1301.3,1750.5 1302.4,1750.5 1303.5,1750.6 C1304.6,1750.6 1305.7,1750.6 1306.8,1750.6 C1307.9,1750.6 1309.0,1750.6 1310.1,1750.6 C1311.2,1750.6 1312.3,1750.6 1313.4,1750.6 C1314.5,1750.6 1315.6,1750.6 1316.7,1750.6 C1317.8,1750.6 1318.9,1750.6 1319.9,1750.6 C1321.0,1750.6 1322.1,1750.6 1323.2,1750.6 C1324.3,1750.6 1325.4,1750.6 1326.5,1750.6 C1327.6,1750.6 1328.7,1750.6 1329.8,1750.6 C1330.9,1750.6 1332.0,1750.6 1333.1,1750.6 C1334.2,1750.6 1335.3,1750.6 1336.4,1750.6 C1337.5,1750.6 1338.5,1750.6 1339.6,1750.6 C1340.7,1750.6 1341.8,1750.6 1342.9,1750.6 C1344.0,1750.6 1345.1,1750.6 1346.2,1750.6 C1347.3,1750.7 1348.4,1750.7 1349.5,1750.7 C1350.6,1750.7 1351.7,1750.7 1352.8,1750.7 C1353.9,1750.7 1355.0,1750.7 1356.1,1750.7 C1357.1,1750.7 1358.2,1750.7 1359.3,1750.7 C1360.4,1750.7 1361.5,1750.7 1362.6,1750.7 C1363.7,1750.7 1364.8,1750.7 1365.9,1750.7 C1367.0,1750.7 1368.1,1750.7 1369.2,1750.7 C1370.3,1750.7 1371.4,1750.7 1372.5,1750.7 C1373.6,1750.7 1374.7,1750.7 1375.7,1750.7 C1376.8,1750.7 1377.9,1750.7 1379.0,1750.7 C1380.1,1750.7 1381.2,1750.8 1382.3,1750.8 C1383.4,1750.8 1384.5,1750.8 1385.6,1750.8 C1386.7,1750.8 1387.8,1750.8 1388.9,1750.8 C1390.0,1750.8 1391.1,1750.8 1392.2,1750.8 C1393.3,1750.8 1394.3,1750.8 1395.4,1750.8 C1396.5,1750.8 1397.6,1750.8 1398.7,1750.8 C1399.8,1750.8 1400.9,1750.8 1402.0,1750.8 C1403.1,1750.8 1404.2,1750.8 1405.3,1750.8 C1406.4,1750.9 1407.5,1750.9 1408.6,1750.9 C1409.7,1750.9 1410.8,1750.9 1411.8,1750.9 C1412.9,1750.9 1414.0,1750.9 1415.1,1750.9 C1416.2,1750.9 1417.3,1750.9 1418.4,1750.9 C1419.5,1750.9 1420.6,1750.9 1421.7,1750.9 C1422.8,1750.9 1423.9,1750.9 1425.0,1750.9 C1426.1,1750.9 1427.2,1750.9 1428.3,1750.9 C1429.4,1750.9 1430.4,1751.0 1431.5,1751.0 C1432.6,1751.0 1433.7,1751.0 1434.8,1751.0 C1435.9,1751.0 1437.0,1751.0 1438.1,1751.0 C1439.2,1751.0 1440.3,1751.0 1441.4,1751.0 C1442.5,1751.0 1443.6,1751.0 1444.7,1751.0 C1445.8,1751.0 1446.9,1751.0 1448.0,1751.0 C1449.0,1751.0 1450.1,1751.0 1451.2,1751.0 C1452.3,1751.0 1453.4,1751.0 1454.5,1751.0 C1455.6,1751.1 1456.7,1751.1 1457.8,1751.1 C1458.9,1751.1 1460.0,1751.1 1461.1,1751.1 C1462.2,1751.1 1463.3,1751.1 1464.4,1751.1 C1465.5,1751.1 1466.6,1751.1 1467.6,1751.1 C1468.7,1751.1 1469.8,1751.1 1470.9,1751.1 C1472.0,1751.1 1473.1,1751.1 1474.2,1751.1 C1475.3,1751.1 1476.4,1751.1 1477.5,1751.1 C1478.6,1751.1 1479.7,1751.1 1480.8,1751.2 C1481.9,1751.2 1483.0,1751.2 1484.1,1751.2 C1485.2,1751.2 1486.2,1751.2 1487.3,1751.2 C1488.4,1751.2 1489.5,1751.2 1490.6,1751.2 C1491.7,1751.2 1492.8,1751.2 1493.9,1751.2 C1495.0,1751.2 1496.1,1751.2 1497.2,1751.2 C1498.3,1751.2 1499.4,1751.2 1500.5,1751.2 C1501.6,1751.2 1502.7,1751.2 1503.8,1751.2 C1504.8,1751.2 1505.9,1751.2 1507.0,1751.3 C1508.1,1751.3 1509.2,1751.3 1510.3,1751.3 C1511.4,1751.3 1512.5,1751.3 1513.6,1751.3 C1514.7,1751.3 1515.8,1751.3 1516.9,1751.3 C1518.0,1751.3 1519.1,1751.3 1520.2,1751.3 C1521.3,1751.3 1522.4,1751.3 1523.4,1751.3 C1524.5,1751.3 1525.6,1751.3 1526.7,1751.3 C1527.8,1751.3 1528.9,1751.3 1530.0,1751.3 C1531.1,1751.3 1532.2,1751.3 1533.3,1751.3 C1534.4,1751.4 1535.5,1751.4 1536.6,1751.4 C1537.7,1751.4 1538.8,1751.4 1539.9,1751.4 C1540.9,1751.4 1542.0,1751.4 1543.1,1751.4 C1544.2,1751.4 1545.3,1751.4 1546.4,1751.4 C1547.5,1751.4 1548.6,1751.4 1549.7,1751.4 C1550.8,1751.4 1551.9,1751.4 1553.0,1751.4 C1554.1,1751.4 1555.2,1751.4 1556.3,1751.4 C1557.4,1751.4 1558.5,1751.4 1559.5,1751.4 C1560.6,1751.5 1561.7,1751.5 1562.8,1751.5 C1563.9,1751.5 1565.0,1751.5 1566.1,1751.5 C1567.2,1751.5 1568.3,1751.5 1569.4,1751.5 C1570.5,1751.5 1571.6,1751.5 1572.7,1751.5 C1573.8,1751.5 1574.9,1751.5 1576.0,1751.5 C1577.1,1751.5 1578.1,1751.5 1579.2,1751.5 C1580.3,1751.5 1581.4,1751.5 1582.5,1751.5 C1583.6,1751.5 1584.7,1751.5 1585.8,1751.5 C1586.9,1751.5 1588.0,1751.6 1589.1,1751.6 C1590.2,1751.6 1591.3,1751.6 1592.4,1751.6 C1593.5,1751.6 1594.6,1751.6 1595.7,1751.6 C1596.7,1751.6 1597.8,1751.6 1598.9,1751.6 C1600.0,1751.6 1601.1,1751.6 1602.2,1751.6 C1603.3,1751.6 1604.4,1751.6 1605.5,1751.6 C1606.6,1751.6 1607.7,1751.6 1608.8,1751.6 C1609.9,1751.6 1611.0,1751.6 1612.1,1751.6 C1613.2,1751.6 1614.3,1751.7 1615.3,1751.7 C1616.4,1751.7 1617.5,1751.7 1618.6,1751.7 C1619.7,1751.7 1620.8,1751.7 1621.9,1751.7 C1623.0,1751.7 1624.1,1751.7 1625.2,1751.7 C1626.3,1751.7 1627.4,1751.7 1628.5,1751.7 C1629.6,1751.7 1630.7,1751.7 1631.8,1751.7 C1632.9,1751.7 1633.9,1751.7 1635.0,1751.7 C1636.1,1751.7 1637.2,1751.7 1638.3,1751.7 C1639.4,1751.7 1640.5,1751.7 1641.6,1751.8 C1642.7,1751.8 1643.8,1751.8 1644.9,1751.8 C1646.0,1751.8 1647.1,1751.8 1648.2,1751.8 C1649.3,1751.8 1650.4,1751.8 1651.5,1751.8 C1652.5,1751.8 1653.6,1751.8 1654.7,1751.8 C1655.8,1751.8 1656.9,1751.8 1658.0,1751.8 C1659.1,1751.8 1660.2,1751.8 1661.3,1751.8 C1662.4,1751.8 1663.5,1751.8 1664.6,1751.8 C1665.7,1751.8 1666.8,1751.8 1667.9,1751.9 C1669.0,1751.9 1670.0,1751.9 1671.1,1751.9 C1672.2,1751.9 1673.3,1751.9 1674.4,1751.9 C1675.5,1751.9 1676.6,1751.9 1677.7,1751.9 C1678.8,1751.9 1679.9,1751.9 1681.0,1751.9 C1682.1,1751.9 1683.2,1751.9 1684.3,1751.9 C1685.4,1751.9 1686.5,1751.9 1687.6,1751.9 C1688.6,1751.9 1689.7,1751.9 1690.8,1751.9 C1691.9,1751.9 1693.0,1751.9 1694.1,1751.9 C1695.2,1752.0 1696.3,1752.0 1697.4,1752.0 C1698.5,1752.0 1699.6,1752.0 1700.7,1752.0 C1701.8,1752.0 1702.9,1752.0 1704.0,1752.0 C1705.1,1752.0 1706.2,1752.0 1707.2,1752.0" stroke="#cf4420" stroke-width="4.9" stroke-dasharray="9.6 6.4"/>
</g>
<!-- legend -->
<line x1="1654" y1="162.9" x2="1810" y2="162.9" stroke="#3b2a82" stroke-width="5"/>
<line x1="1655" y1="234.6" x2="1810" y2="234.6" stroke="#cf4420" stroke-width="5"/>
<text x="16.5" y="1847.5" font-size="68.0" textLength="121.9" lengthAdjust="spacingAndGlyphs">200</text>
<text x="452.6" y="1849.8" font-size="68.0" textLength="113.1" lengthAdjust="spacingAndGlyphs">300</text>
<text x="846.9" y="1847.8" font-size="68.0" textLength="112.0" lengthAdjust="spacingAndGlyphs">400</text>
<text x="1239.8" y="1850.0" font-size="68.0" textLength="112.0" lengthAdjust="spacingAndGlyphs">500</text>
<text x="1634.9" y="1848.0" font-size="68.0" textLength="110.5" lengthAdjust="spacingAndGlyphs">600</text>
<text x="2026.9" y="1848.0" font-size="68.0" textLength="114.4" lengthAdjust="spacingAndGlyphs">700</text>
<text x="1825.4" y="178.8" font-size="67.0" textLength="41.4" lengthAdjust="spacingAndGlyphs">6</text>
<text x="1832.0" y="253.5" font-size="67.0" textLength="80.6" lengthAdjust="spacingAndGlyphs">10</text>
<text x="1948.1" y="182.0" font-size="65.0" textLength="92.8" lengthAdjust="spacingAndGlyphs">(a)</text>
<text x="1946.0" y="1000.0" font-size="66.0" textLength="96.1" lengthAdjust="spacingAndGlyphs">(b)</text>
<text x="769.0" y="1973.3" font-size="84.5" textLength="730.1" lengthAdjust="spacingAndGlyphs">Wavelength (nm)</text>

</svg>
</body></html>
